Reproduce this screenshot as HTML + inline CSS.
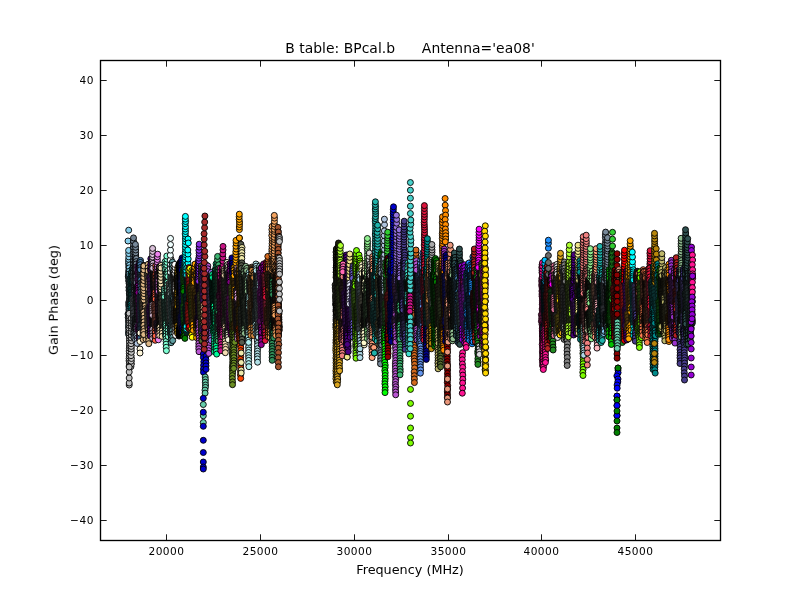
<!DOCTYPE html>
<html><head><meta charset="utf-8"><title>B table: BPcal.b</title>
<style>
html,body{margin:0;padding:0;background:#fff}
svg{display:block}
text{font-family:"DejaVu Sans","Liberation Sans",sans-serif;font-size:10.6px;letter-spacing:0.5px;fill:#000}
.big{font-size:12.8px;letter-spacing:0}.ttl{font-size:13.9px;letter-spacing:0.04px;white-space:pre}
.tx{opacity:0.999}
polyline{fill:none;stroke:none}
marker circle{stroke:#000;stroke-width:0.9px}
.m0{marker:url(#m0)}.m1{marker:url(#m1)}.m2{marker:url(#m2)}.m3{marker:url(#m3)}.m4{marker:url(#m4)}.m5{marker:url(#m5)}.m6{marker:url(#m6)}.m7{marker:url(#m7)}.m8{marker:url(#m8)}.m9{marker:url(#m9)}.m10{marker:url(#m10)}.m11{marker:url(#m11)}.m12{marker:url(#m12)}.m13{marker:url(#m13)}.m14{marker:url(#m14)}.m15{marker:url(#m15)}.m16{marker:url(#m16)}.m17{marker:url(#m17)}.m18{marker:url(#m18)}.m19{marker:url(#m19)}.m20{marker:url(#m20)}.m21{marker:url(#m21)}.m22{marker:url(#m22)}.m23{marker:url(#m23)}.m24{marker:url(#m24)}.m25{marker:url(#m25)}.m26{marker:url(#m26)}.m27{marker:url(#m27)}.m28{marker:url(#m28)}.m29{marker:url(#m29)}.m30{marker:url(#m30)}.m31{marker:url(#m31)}.m32{marker:url(#m32)}.m33{marker:url(#m33)}.m34{marker:url(#m34)}.m35{marker:url(#m35)}.m36{marker:url(#m36)}.m37{marker:url(#m37)}.m38{marker:url(#m38)}.m39{marker:url(#m39)}.m40{marker:url(#m40)}.m41{marker:url(#m41)}.m42{marker:url(#m42)}.m43{marker:url(#m43)}.m44{marker:url(#m44)}.m45{marker:url(#m45)}.m46{marker:url(#m46)}.m47{marker:url(#m47)}.m48{marker:url(#m48)}.m49{marker:url(#m49)}.m50{marker:url(#m50)}.m51{marker:url(#m51)}.m52{marker:url(#m52)}.m53{marker:url(#m53)}.m54{marker:url(#m54)}.m55{marker:url(#m55)}.m56{marker:url(#m56)}.m57{marker:url(#m57)}.m58{marker:url(#m58)}.m59{marker:url(#m59)}.m60{marker:url(#m60)}.m61{marker:url(#m61)}.m62{marker:url(#m62)}.m63{marker:url(#m63)}.m64{marker:url(#m64)}.m65{marker:url(#m65)}.m66{marker:url(#m66)}.m67{marker:url(#m67)}.m68{marker:url(#m68)}.m69{marker:url(#m69)}.m70{marker:url(#m70)}.m71{marker:url(#m71)}.m72{marker:url(#m72)}.m73{marker:url(#m73)}.m74{marker:url(#m74)}.m75{marker:url(#m75)}.m76{marker:url(#m76)}.m77{marker:url(#m77)}.m78{marker:url(#m78)}.m79{marker:url(#m79)}.m80{marker:url(#m80)}.m81{marker:url(#m81)}.m82{marker:url(#m82)}.m83{marker:url(#m83)}.m84{marker:url(#m84)}.m85{marker:url(#m85)}.m86{marker:url(#m86)}.m87{marker:url(#m87)}.m88{marker:url(#m88)}.m89{marker:url(#m89)}.m90{marker:url(#m90)}.m91{marker:url(#m91)}.m92{marker:url(#m92)}.m93{marker:url(#m93)}.m94{marker:url(#m94)}.m95{marker:url(#m95)}.m96{marker:url(#m96)}.m97{marker:url(#m97)}.m98{marker:url(#m98)}.m99{marker:url(#m99)}.m100{marker:url(#m100)}.m101{marker:url(#m101)}.m102{marker:url(#m102)}.m103{marker:url(#m103)}.m104{marker:url(#m104)}.m105{marker:url(#m105)}.m106{marker:url(#m106)}.m107{marker:url(#m107)}.m108{marker:url(#m108)}.m109{marker:url(#m109)}.m110{marker:url(#m110)}.m111{marker:url(#m111)}.m112{marker:url(#m112)}.m113{marker:url(#m113)}.m114{marker:url(#m114)}.m115{marker:url(#m115)}.m116{marker:url(#m116)}.m117{marker:url(#m117)}.m118{marker:url(#m118)}.m119{marker:url(#m119)}.m120{marker:url(#m120)}.m121{marker:url(#m121)}.m122{marker:url(#m122)}.m123{marker:url(#m123)}.m124{marker:url(#m124)}.m125{marker:url(#m125)}.m126{marker:url(#m126)}.m127{marker:url(#m127)}.m128{marker:url(#m128)}.m129{marker:url(#m129)}.m130{marker:url(#m130)}.m131{marker:url(#m131)}.m132{marker:url(#m132)}.m133{marker:url(#m133)}.m134{marker:url(#m134)}.m135{marker:url(#m135)}.m136{marker:url(#m136)}.m137{marker:url(#m137)}.m138{marker:url(#m138)}.m139{marker:url(#m139)}.m140{marker:url(#m140)}.m141{marker:url(#m141)}.m142{marker:url(#m142)}.m143{marker:url(#m143)}.m144{marker:url(#m144)}.m145{marker:url(#m145)}.m146{marker:url(#m146)}.m147{marker:url(#m147)}.m148{marker:url(#m148)}.m149{marker:url(#m149)}.m150{marker:url(#m150)}.m151{marker:url(#m151)}.m152{marker:url(#m152)}.m153{marker:url(#m153)}.m154{marker:url(#m154)}.m155{marker:url(#m155)}.m156{marker:url(#m156)}.m157{marker:url(#m157)}.m158{marker:url(#m158)}.m159{marker:url(#m159)}.m160{marker:url(#m160)}.m161{marker:url(#m161)}.m162{marker:url(#m162)}.m163{marker:url(#m163)}.m164{marker:url(#m164)}.m165{marker:url(#m165)}.m166{marker:url(#m166)}.m167{marker:url(#m167)}.m168{marker:url(#m168)}.m169{marker:url(#m169)}.m170{marker:url(#m170)}.m171{marker:url(#m171)}.m172{marker:url(#m172)}.m173{marker:url(#m173)}.m174{marker:url(#m174)}.m175{marker:url(#m175)}.m176{marker:url(#m176)}.m177{marker:url(#m177)}.m178{marker:url(#m178)}.m179{marker:url(#m179)}.m180{marker:url(#m180)}.m181{marker:url(#m181)}.m182{marker:url(#m182)}.m183{marker:url(#m183)}.m184{marker:url(#m184)}.m185{marker:url(#m185)}.m186{marker:url(#m186)}.m187{marker:url(#m187)}.m188{marker:url(#m188)}.m189{marker:url(#m189)}.m190{marker:url(#m190)}.m191{marker:url(#m191)}.m192{marker:url(#m192)}.m193{marker:url(#m193)}.m194{marker:url(#m194)}.m195{marker:url(#m195)}.m196{marker:url(#m196)}.m197{marker:url(#m197)}.m198{marker:url(#m198)}.m199{marker:url(#m199)}.m200{marker:url(#m200)}.m201{marker:url(#m201)}.m202{marker:url(#m202)}.m203{marker:url(#m203)}.m204{marker:url(#m204)}.m205{marker:url(#m205)}.m206{marker:url(#m206)}.m207{marker:url(#m207)}.m208{marker:url(#m208)}.m209{marker:url(#m209)}.m210{marker:url(#m210)}.m211{marker:url(#m211)}.m212{marker:url(#m212)}.m213{marker:url(#m213)}.m214{marker:url(#m214)}.m215{marker:url(#m215)}.m216{marker:url(#m216)}.m217{marker:url(#m217)}.m218{marker:url(#m218)}.m219{marker:url(#m219)}.m220{marker:url(#m220)}.m221{marker:url(#m221)}.m222{marker:url(#m222)}.m223{marker:url(#m223)}.m224{marker:url(#m224)}.m225{marker:url(#m225)}.m226{marker:url(#m226)}.m227{marker:url(#m227)}.m228{marker:url(#m228)}.m229{marker:url(#m229)}.m230{marker:url(#m230)}.m231{marker:url(#m231)}.m232{marker:url(#m232)}.m233{marker:url(#m233)}.m234{marker:url(#m234)}.m235{marker:url(#m235)}.m236{marker:url(#m236)}.m237{marker:url(#m237)}.m238{marker:url(#m238)}.m239{marker:url(#m239)}.m240{marker:url(#m240)}.m241{marker:url(#m241)}.m242{marker:url(#m242)}.m243{marker:url(#m243)}.m244{marker:url(#m244)}.m245{marker:url(#m245)}.m246{marker:url(#m246)}.m247{marker:url(#m247)}.m248{marker:url(#m248)}.m249{marker:url(#m249)}.m250{marker:url(#m250)}.m251{marker:url(#m251)}.m252{marker:url(#m252)}.m253{marker:url(#m253)}.m254{marker:url(#m254)}.m255{marker:url(#m255)}.m256{marker:url(#m256)}.m257{marker:url(#m257)}.m258{marker:url(#m258)}.m259{marker:url(#m259)}.m260{marker:url(#m260)}.m261{marker:url(#m261)}.m262{marker:url(#m262)}.m263{marker:url(#m263)}.m264{marker:url(#m264)}.m265{marker:url(#m265)}.m266{marker:url(#m266)}.m267{marker:url(#m267)}.m268{marker:url(#m268)}.m269{marker:url(#m269)}.m270{marker:url(#m270)}.m271{marker:url(#m271)}.m272{marker:url(#m272)}.m273{marker:url(#m273)}.m274{marker:url(#m274)}.m275{marker:url(#m275)}.m276{marker:url(#m276)}.m277{marker:url(#m277)}.m278{marker:url(#m278)}.m279{marker:url(#m279)}.m280{marker:url(#m280)}.m281{marker:url(#m281)}.m282{marker:url(#m282)}.m283{marker:url(#m283)}.m284{marker:url(#m284)}.m285{marker:url(#m285)}.m286{marker:url(#m286)}.m287{marker:url(#m287)}.m288{marker:url(#m288)}.m289{marker:url(#m289)}.m290{marker:url(#m290)}.m291{marker:url(#m291)}.m292{marker:url(#m292)}.m293{marker:url(#m293)}.m294{marker:url(#m294)}.m295{marker:url(#m295)}.m296{marker:url(#m296)}.m297{marker:url(#m297)}.m298{marker:url(#m298)}.m299{marker:url(#m299)}.m300{marker:url(#m300)}.m301{marker:url(#m301)}.m302{marker:url(#m302)}.m303{marker:url(#m303)}.m304{marker:url(#m304)}.m305{marker:url(#m305)}.m306{marker:url(#m306)}.m307{marker:url(#m307)}.m308{marker:url(#m308)}.m309{marker:url(#m309)}.m310{marker:url(#m310)}.m311{marker:url(#m311)}.m312{marker:url(#m312)}.m313{marker:url(#m313)}.m314{marker:url(#m314)}.m315{marker:url(#m315)}.m316{marker:url(#m316)}.m317{marker:url(#m317)}.m318{marker:url(#m318)}.m319{marker:url(#m319)}.m320{marker:url(#m320)}.m321{marker:url(#m321)}.m322{marker:url(#m322)}.m323{marker:url(#m323)}.m324{marker:url(#m324)}.m325{marker:url(#m325)}.m326{marker:url(#m326)}.m327{marker:url(#m327)}.m328{marker:url(#m328)}.m329{marker:url(#m329)}.m330{marker:url(#m330)}.m331{marker:url(#m331)}.m332{marker:url(#m332)}.m333{marker:url(#m333)}.m334{marker:url(#m334)}.m335{marker:url(#m335)}.m336{marker:url(#m336)}.m337{marker:url(#m337)}.m338{marker:url(#m338)}.m339{marker:url(#m339)}.m340{marker:url(#m340)}.m341{marker:url(#m341)}.m342{marker:url(#m342)}.m343{marker:url(#m343)}.m344{marker:url(#m344)}.m345{marker:url(#m345)}.m346{marker:url(#m346)}.m347{marker:url(#m347)}.m348{marker:url(#m348)}.m349{marker:url(#m349)}.m350{marker:url(#m350)}.m351{marker:url(#m351)}.m352{marker:url(#m352)}.m353{marker:url(#m353)}.m354{marker:url(#m354)}.m355{marker:url(#m355)}.m356{marker:url(#m356)}.m357{marker:url(#m357)}.m358{marker:url(#m358)}.m359{marker:url(#m359)}.m360{marker:url(#m360)}.m361{marker:url(#m361)}.m362{marker:url(#m362)}.m363{marker:url(#m363)}.m364{marker:url(#m364)}.m365{marker:url(#m365)}.m366{marker:url(#m366)}.m367{marker:url(#m367)}.m368{marker:url(#m368)}.m369{marker:url(#m369)}.m370{marker:url(#m370)}.m371{marker:url(#m371)}.m372{marker:url(#m372)}.m373{marker:url(#m373)}.m374{marker:url(#m374)}.m375{marker:url(#m375)}.m376{marker:url(#m376)}.m377{marker:url(#m377)}.m378{marker:url(#m378)}.m379{marker:url(#m379)}.m380{marker:url(#m380)}.m381{marker:url(#m381)}.m382{marker:url(#m382)}.m383{marker:url(#m383)}.m384{marker:url(#m384)}.m385{marker:url(#m385)}.m386{marker:url(#m386)}.m387{marker:url(#m387)}.m388{marker:url(#m388)}.m389{marker:url(#m389)}.m390{marker:url(#m390)}.m391{marker:url(#m391)}.m392{marker:url(#m392)}.m393{marker:url(#m393)}.m394{marker:url(#m394)}.m395{marker:url(#m395)}.m396{marker:url(#m396)}.m397{marker:url(#m397)}.m398{marker:url(#m398)}.m399{marker:url(#m399)}.m400{marker:url(#m400)}.m401{marker:url(#m401)}.m402{marker:url(#m402)}.m403{marker:url(#m403)}.m404{marker:url(#m404)}.m405{marker:url(#m405)}.m406{marker:url(#m406)}.m407{marker:url(#m407)}.m408{marker:url(#m408)}.m409{marker:url(#m409)}.m410{marker:url(#m410)}.m411{marker:url(#m411)}.m412{marker:url(#m412)}.m413{marker:url(#m413)}.m414{marker:url(#m414)}.m415{marker:url(#m415)}.m416{marker:url(#m416)}.m417{marker:url(#m417)}.m418{marker:url(#m418)}
</style></head><body>
<svg width="800" height="600" viewBox="0 0 800 600">
<rect width="800" height="600" fill="#fff"/>
<defs>
<marker id="m0" overflow="visible"><circle r="3.0" fill="#00c000"/></marker>
<marker id="m1" overflow="visible"><circle r="3.0" fill="#050537" style="stroke:#020218"/></marker>
<marker id="m2" overflow="visible"><circle r="3.0" fill="#050555" style="stroke:#020226"/></marker>
<marker id="m3" overflow="visible"><circle r="3.0" fill="#051414" style="stroke:#020909"/></marker>
<marker id="m4" overflow="visible"><circle r="3.0" fill="#051419" style="stroke:#02090b"/></marker>
<marker id="m5" overflow="visible"><circle r="3.0" fill="#05150f" style="stroke:#020906"/></marker>
<marker id="m6" overflow="visible"><circle r="3.0" fill="#051705" style="stroke:#020a02"/></marker>
<marker id="m7" overflow="visible"><circle r="3.0" fill="#060638" style="stroke:#020219"/></marker>
<marker id="m8" overflow="visible"><circle r="3.0" fill="#060656" style="stroke:#020226"/></marker>
<marker id="m9" overflow="visible"><circle r="3.0" fill="#06191f" style="stroke:#020b0e"/></marker>
<marker id="m10" overflow="visible"><circle r="3.0" fill="#061a1a" style="stroke:#020b0b"/></marker>
<marker id="m11" overflow="visible"><circle r="3.0" fill="#061b13" style="stroke:#020c08"/></marker>
<marker id="m12" overflow="visible"><circle r="3.0" fill="#061d06" style="stroke:#020d02"/></marker>
<marker id="m13" overflow="visible"><circle r="3.0" fill="#071313" style="stroke:#030808"/></marker>
<marker id="m14" overflow="visible"><circle r="3.0" fill="#071e1e" style="stroke:#030d0d"/></marker>
<marker id="m15" overflow="visible"><circle r="3.0" fill="#072016" style="stroke:#030e0a"/></marker>
<marker id="m16" overflow="visible"><circle r="3.0" fill="#072307" style="stroke:#030f03"/></marker>
<marker id="m17" overflow="visible"><circle r="3.0" fill="#091312" style="stroke:#040808"/></marker>
<marker id="m18" overflow="visible"><circle r="3.0" fill="#091818" style="stroke:#040b0a"/></marker>
<marker id="m19" overflow="visible"><circle r="3.0" fill="#092626" style="stroke:#041111"/></marker>
<marker id="m20" overflow="visible"><circle r="3.0" fill="#09281c" style="stroke:#04120c"/></marker>
<marker id="m21" overflow="visible"><circle r="3.0" fill="#092b09" style="stroke:#041304"/></marker>
<marker id="m22" overflow="visible"><circle r="3.0" fill="#0a130e" style="stroke:#040806"/></marker>
<marker id="m23" overflow="visible"><circle r="3.0" fill="#0a2929" style="stroke:#041212"/></marker>
<marker id="m24" overflow="visible"><circle r="3.0" fill="#0a2f0a" style="stroke:#041504"/></marker>
<marker id="m25" overflow="visible"><circle r="3.0" fill="#0b1816" style="stroke:#050a0a"/></marker>
<marker id="m26" overflow="visible"><circle r="3.0" fill="#0b1a29" style="stroke:#050b12"/></marker>
<marker id="m27" overflow="visible"><circle r="3.0" fill="#0b1d1c" style="stroke:#050d0c"/></marker>
<marker id="m28" overflow="visible"><circle r="3.0" fill="#0c1811" style="stroke:#050b08"/></marker>
<marker id="m29" overflow="visible"><circle r="3.0" fill="#0c3030" style="stroke:#051515"/></marker>
<marker id="m30" overflow="visible"><circle r="3.0" fill="#0d120d" style="stroke:#050805"/></marker>
<marker id="m31" overflow="visible"><circle r="3.0" fill="#0d1f0d" style="stroke:#060d06"/></marker>
<marker id="m32" overflow="visible"><circle r="3.0" fill="#0d3434" style="stroke:#051717"/></marker>
<marker id="m33" overflow="visible"><circle r="3.0" fill="#0d3b0d" style="stroke:#051a05"/></marker>
<marker id="m34" overflow="visible"><circle r="3.0" fill="#0e0e40" style="stroke:#06061c"/></marker>
<marker id="m35" overflow="visible"><circle r="3.0" fill="#0e110e" style="stroke:#060706"/></marker>
<marker id="m36" overflow="visible"><circle r="3.0" fill="#0e1c15" style="stroke:#060c09"/></marker>
<marker id="m37" overflow="visible"><circle r="3.0" fill="#0e2133" style="stroke:#060e17"/></marker>
<marker id="m38" overflow="visible"><circle r="3.0" fill="#0e2423" style="stroke:#06100f"/></marker>
<marker id="m39" overflow="visible"><circle r="3.0" fill="#0e3737" style="stroke:#061919"/></marker>
<marker id="m40" overflow="visible"><circle r="3.0" fill="#0e3f0e" style="stroke:#061c06"/></marker>
<marker id="m41" overflow="visible"><circle r="3.0" fill="#0f1011" style="stroke:#060708"/></marker>
<marker id="m42" overflow="visible"><circle r="3.0" fill="#0f2726" style="stroke:#071111"/></marker>
<marker id="m43" overflow="visible"><circle r="3.0" fill="#0f3c3c" style="stroke:#061b1b"/></marker>
<marker id="m44" overflow="visible"><circle r="3.0" fill="#10100e" style="stroke:#070706"/></marker>
<marker id="m45" overflow="visible"><circle r="3.0" fill="#101010" style="stroke:#070707"/></marker>
<marker id="m46" overflow="visible"><circle r="3.0" fill="#101610" style="stroke:#070a07"/></marker>
<marker id="m47" overflow="visible"><circle r="3.0" fill="#102610" style="stroke:#071107"/></marker>
<marker id="m48" overflow="visible"><circle r="3.0" fill="#110f11" style="stroke:#070707"/></marker>
<marker id="m49" overflow="visible"><circle r="3.0" fill="#11100b" style="stroke:#070705"/></marker>
<marker id="m50" overflow="visible"><circle r="3.0" fill="#11100e" style="stroke:#070706"/></marker>
<marker id="m51" overflow="visible"><circle r="3.0" fill="#111111" style="stroke:#070707"/></marker>
<marker id="m52" overflow="visible"><circle r="3.0" fill="#111143" style="stroke:#07071e"/></marker>
<marker id="m53" overflow="visible"><circle r="3.0" fill="#114311" style="stroke:#071e07"/></marker>
<marker id="m54" overflow="visible"><circle r="3.0" fill="#114545" style="stroke:#071f1f"/></marker>
<marker id="m55" overflow="visible"><circle r="3.0" fill="#114f11" style="stroke:#072307"/></marker>
<marker id="m56" overflow="visible"><circle r="3.0" fill="#121416" style="stroke:#08090a"/></marker>
<marker id="m57" overflow="visible"><circle r="3.0" fill="#121512" style="stroke:#080908"/></marker>
<marker id="m58" overflow="visible"><circle r="3.0" fill="#121919" style="stroke:#080b0b"/></marker>
<marker id="m59" overflow="visible"><circle r="3.0" fill="#12241a" style="stroke:#08100b"/></marker>
<marker id="m60" overflow="visible"><circle r="3.0" fill="#122a12" style="stroke:#081308"/></marker>
<marker id="m61" overflow="visible"><circle r="3.0" fill="#122a41" style="stroke:#08131d"/></marker>
<marker id="m62" overflow="visible"><circle r="3.0" fill="#122e2c" style="stroke:#081414"/></marker>
<marker id="m63" overflow="visible"><circle r="3.0" fill="#133130" style="stroke:#081615"/></marker>
<marker id="m64" overflow="visible"><circle r="3.0" fill="#140c17" style="stroke:#09050a"/></marker>
<marker id="m65" overflow="visible"><circle r="3.0" fill="#140e0d" style="stroke:#090605"/></marker>
<marker id="m66" overflow="visible"><circle r="3.0" fill="#140f0b" style="stroke:#090604"/></marker>
<marker id="m67" overflow="visible"><circle r="3.0" fill="#141006" style="stroke:#090702"/></marker>
<marker id="m68" overflow="visible"><circle r="3.0" fill="#141411" style="stroke:#090908"/></marker>
<marker id="m69" overflow="visible"><circle r="3.0" fill="#141414" style="stroke:#090909"/></marker>
<marker id="m70" overflow="visible"><circle r="3.0" fill="#150a20" style="stroke:#09040e"/></marker>
<marker id="m71" overflow="visible"><circle r="3.0" fill="#150d0d" style="stroke:#090606"/></marker>
<marker id="m72" overflow="visible"><circle r="3.0" fill="#151315" style="stroke:#090809"/></marker>
<marker id="m73" overflow="visible"><circle r="3.0" fill="#15140e" style="stroke:#090906"/></marker>
<marker id="m74" overflow="visible"><circle r="3.0" fill="#151411" style="stroke:#090907"/></marker>
<marker id="m75" overflow="visible"><circle r="3.0" fill="#151915" style="stroke:#090b09"/></marker>
<marker id="m76" overflow="visible"><circle r="3.0" fill="#160d0a" style="stroke:#0a0604"/></marker>
<marker id="m77" overflow="visible"><circle r="3.0" fill="#161616" style="stroke:#090909"/></marker>
<marker id="m78" overflow="visible"><circle r="3.0" fill="#16181a" style="stroke:#0a0a0b"/></marker>
<marker id="m79" overflow="visible"><circle r="3.0" fill="#161a0f" style="stroke:#0a0b07"/></marker>
<marker id="m80" overflow="visible"><circle r="3.0" fill="#163416" style="stroke:#0a170a"/></marker>
<marker id="m81" overflow="visible"><circle r="3.0" fill="#164716" style="stroke:#092009"/></marker>
<marker id="m82" overflow="visible"><circle r="3.0" fill="#171526" style="stroke:#0a0911"/></marker>
<marker id="m83" overflow="visible"><circle r="3.0" fill="#172020" style="stroke:#0a0e0e"/></marker>
<marker id="m84" overflow="visible"><circle r="3.0" fill="#173451" style="stroke:#0a1724"/></marker>
<marker id="m85" overflow="visible"><circle r="3.0" fill="#173938" style="stroke:#0a1a19"/></marker>
<marker id="m86" overflow="visible"><circle r="3.0" fill="#181811" style="stroke:#0b0a07"/></marker>
<marker id="m87" overflow="visible"><circle r="3.0" fill="#181a11" style="stroke:#0b0b07"/></marker>
<marker id="m88" overflow="visible"><circle r="3.0" fill="#183818" style="stroke:#0a190a"/></marker>
<marker id="m89" overflow="visible"><circle r="3.0" fill="#191210" style="stroke:#0b0807"/></marker>
<marker id="m90" overflow="visible"><circle r="3.0" fill="#19130d" style="stroke:#0b0806"/></marker>
<marker id="m91" overflow="visible"><circle r="3.0" fill="#191407" style="stroke:#0b0903"/></marker>
<marker id="m92" overflow="visible"><circle r="3.0" fill="#191811" style="stroke:#0b0a08"/></marker>
<marker id="m93" overflow="visible"><circle r="3.0" fill="#19212e" style="stroke:#0b0e14"/></marker>
<marker id="m94" overflow="visible"><circle r="3.0" fill="#192323" style="stroke:#0b0f0f"/></marker>
<marker id="m95" overflow="visible"><circle r="3.0" fill="#19280a" style="stroke:#0b1204"/></marker>
<marker id="m96" overflow="visible"><circle r="3.0" fill="#1a0f1c" style="stroke:#0b070c"/></marker>
<marker id="m97" overflow="visible"><circle r="3.0" fill="#1a1111" style="stroke:#0c0707"/></marker>
<marker id="m98" overflow="visible"><circle r="3.0" fill="#1a151a" style="stroke:#0c090c"/></marker>
<marker id="m99" overflow="visible"><circle r="3.0" fill="#1a1f1a" style="stroke:#0b0e0b"/></marker>
<marker id="m100" overflow="visible"><circle r="3.0" fill="#1a241a" style="stroke:#0b100b"/></marker>
<marker id="m101" overflow="visible"><circle r="3.0" fill="#1a3426" style="stroke:#0c1711"/></marker>
<marker id="m102" overflow="visible"><circle r="3.0" fill="#1b052b" style="stroke:#0c0213"/></marker>
<marker id="m103" overflow="visible"><circle r="3.0" fill="#1b0c28" style="stroke:#0c0512"/></marker>
<marker id="m104" overflow="visible"><circle r="3.0" fill="#1b1d14" style="stroke:#0c0d09"/></marker>
<marker id="m105" overflow="visible"><circle r="3.0" fill="#1b1e20" style="stroke:#0c0d0e"/></marker>
<marker id="m106" overflow="visible"><circle r="3.0" fill="#1b2013" style="stroke:#0c0e08"/></marker>
<marker id="m107" overflow="visible"><circle r="3.0" fill="#1b2833" style="stroke:#0c1217"/></marker>
<marker id="m108" overflow="visible"><circle r="3.0" fill="#1b2b25" style="stroke:#0c1311"/></marker>
<marker id="m109" overflow="visible"><circle r="3.0" fill="#1c110d" style="stroke:#0c0706"/></marker>
<marker id="m110" overflow="visible"><circle r="3.0" fill="#1c1c10"/></marker>
<marker id="m111" overflow="visible"><circle r="3.0" fill="#1c1c17" style="stroke:#0c0c0a"/></marker>
<marker id="m112" overflow="visible"><circle r="3.0" fill="#1c2222" style="stroke:#0c0f0f"/></marker>
<marker id="m113" overflow="visible"><circle r="3.0" fill="#1d131d" style="stroke:#0d080d"/></marker>
<marker id="m114" overflow="visible"><circle r="3.0" fill="#1d1512" style="stroke:#0d0908"/></marker>
<marker id="m115" overflow="visible"><circle r="3.0" fill="#1d1709" style="stroke:#0d0a04"/></marker>
<marker id="m116" overflow="visible"><circle r="3.0" fill="#1d1a2f" style="stroke:#0d0b15"/></marker>
<marker id="m117" overflow="visible"><circle r="3.0" fill="#1d2636" style="stroke:#0d1118"/></marker>
<marker id="m118" overflow="visible"><circle r="3.0" fill="#1d2929" style="stroke:#0d1212"/></marker>
<marker id="m119" overflow="visible"><circle r="3.0" fill="#1e0a0a" style="stroke:#0d0404"/></marker>
<marker id="m120" overflow="visible"><circle r="3.0" fill="#1e282c" style="stroke:#0d1213"/></marker>
<marker id="m121" overflow="visible"><circle r="3.0" fill="#1e2a1e" style="stroke:#0d130d"/></marker>
<marker id="m122" overflow="visible"><circle r="3.0" fill="#1e461e" style="stroke:#0d1f0d"/></marker>
<marker id="m123" overflow="visible"><circle r="3.0" fill="#1f1317" style="stroke:#0e080a"/></marker>
<marker id="m124" overflow="visible"><circle r="3.0" fill="#1f1414" style="stroke:#0e0909"/></marker>
<marker id="m125" overflow="visible"><circle r="3.0" fill="#1f1e15" style="stroke:#0e0d09"/></marker>
<marker id="m126" overflow="visible"><circle r="3.0" fill="#1f1e16" style="stroke:#0e0d0a"/></marker>
<marker id="m127" overflow="visible"><circle r="3.0" fill="#1f211d" style="stroke:#0e0e0d"/></marker>
<marker id="m128" overflow="visible"><circle r="3.0" fill="#1f2c2c" style="stroke:#0e1313"/></marker>
<marker id="m129" overflow="visible"><circle r="3.0" fill="#1f312b" style="stroke:#0e1613"/></marker>
<marker id="m130" overflow="visible"><circle r="3.0" fill="#1f320d" style="stroke:#0e1605"/></marker>
<marker id="m131" overflow="visible"><circle r="3.0" fill="#200f28" style="stroke:#0e0712"/></marker>
<marker id="m132" overflow="visible"><circle r="3.0" fill="#20201c" style="stroke:#0e0e0c"/></marker>
<marker id="m133" overflow="visible"><circle r="3.0" fill="#20201e" style="stroke:#0e0e0d"/></marker>
<marker id="m134" overflow="visible"><circle r="3.0" fill="#202020" style="stroke:#0e0e0e"/></marker>
<marker id="m135" overflow="visible"><circle r="3.0" fill="#20240c"/></marker>
<marker id="m136" overflow="visible"><circle r="3.0" fill="#20293a" style="stroke:#0e121a"/></marker>
<marker id="m137" overflow="visible"><circle r="3.0" fill="#202d20" style="stroke:#0e140e"/></marker>
<marker id="m138" overflow="visible"><circle r="3.0" fill="#211313" style="stroke:#0f0808"/></marker>
<marker id="m139" overflow="visible"><circle r="3.0" fill="#21140e" style="stroke:#0e0906"/></marker>
<marker id="m140" overflow="visible"><circle r="3.0" fill="#211507" style="stroke:#0f0903"/></marker>
<marker id="m141" overflow="visible"><circle r="3.0" fill="#211a21" style="stroke:#0f0c0f"/></marker>
<marker id="m142" overflow="visible"><circle r="3.0" fill="#212728" style="stroke:#0f1112"/></marker>
<marker id="m143" overflow="visible"><circle r="3.0" fill="#212b12" style="stroke:#0f1308"/></marker>
<marker id="m144" overflow="visible"><circle r="3.0" fill="#212e2e" style="stroke:#0f1414"/></marker>
<marker id="m145" overflow="visible"><circle r="3.0" fill="#21350e" style="stroke:#0f1806"/></marker>
<marker id="m146" overflow="visible"><circle r="3.0" fill="#21412f" style="stroke:#0f1d15"/></marker>
<marker id="m147" overflow="visible"><circle r="3.0" fill="#220636" style="stroke:#0f0218"/></marker>
<marker id="m148" overflow="visible"><circle r="3.0" fill="#221c2e" style="stroke:#0f0c14"/></marker>
<marker id="m149" overflow="visible"><circle r="3.0" fill="#22201c" style="stroke:#0f0e0c"/></marker>
<marker id="m150" overflow="visible"><circle r="3.0" fill="#223240" style="stroke:#0f161c"/></marker>
<marker id="m151" overflow="visible"><circle r="3.0" fill="#22352f" style="stroke:#0f1815"/></marker>
<marker id="m152" overflow="visible"><circle r="3.0" fill="#232629" style="stroke:#101112"/></marker>
<marker id="m153" overflow="visible"><circle r="3.0" fill="#232919" style="stroke:#0f120b"/></marker>
<marker id="m154" overflow="visible"><circle r="3.0" fill="#232a2a" style="stroke:#0f1313"/></marker>
<marker id="m155" overflow="visible"><circle r="3.0" fill="#233030" style="stroke:#101515"/></marker>
<marker id="m156" overflow="visible"><circle r="3.0" fill="#241824" style="stroke:#100b10"/></marker>
<marker id="m157" overflow="visible"><circle r="3.0" fill="#25073a" style="stroke:#10031a"/></marker>
<marker id="m158" overflow="visible"><circle r="3.0" fill="#251b16" style="stroke:#100c0a"/></marker>
<marker id="m159" overflow="visible"><circle r="3.0" fill="#251d0b" style="stroke:#100d05"/></marker>
<marker id="m160" overflow="visible"><circle r="3.0" fill="#25213c" style="stroke:#100f1b"/></marker>
<marker id="m161" overflow="visible"><circle r="3.0" fill="#252525" style="stroke:#111111"/></marker>
<marker id="m162" overflow="visible"><circle r="3.0" fill="#253043" style="stroke:#10151e"/></marker>
<marker id="m163" overflow="visible"><circle r="3.0" fill="#26093c" style="stroke:#11041b"/></marker>
<marker id="m164" overflow="visible"><circle r="3.0" fill="#260c0c" style="stroke:#110505"/></marker>
<marker id="m165" overflow="visible"><circle r="3.0" fill="#262e26" style="stroke:#111411"/></marker>
<marker id="m166" overflow="visible"><circle r="3.0" fill="#263214" style="stroke:#111609"/></marker>
<marker id="m167" overflow="visible"><circle r="3.0" fill="#263237" style="stroke:#111618"/></marker>
<marker id="m168" overflow="visible"><circle r="3.0" fill="#263526" style="stroke:#111811"/></marker>
<marker id="m169" overflow="visible"><circle r="3.0" fill="#27181d" style="stroke:#110b0d"/></marker>
<marker id="m170" overflow="visible"><circle r="3.0" fill="#271919" style="stroke:#110b0b"/></marker>
<marker id="m171" overflow="visible"><circle r="3.0" fill="#27200e" style="stroke:#110e06"/></marker>
<marker id="m172" overflow="visible"><circle r="3.0" fill="#27261b" style="stroke:#11110c"/></marker>
<marker id="m173" overflow="visible"><circle r="3.0" fill="#272924" style="stroke:#111210"/></marker>
<marker id="m174" overflow="visible"><circle r="3.0" fill="#273d36" style="stroke:#111b18"/></marker>
<marker id="m175" overflow="visible"><circle r="3.0" fill="#281333" style="stroke:#120817"/></marker>
<marker id="m176" overflow="visible"><circle r="3.0" fill="#281d1a" style="stroke:#120d0b"/></marker>
<marker id="m177" overflow="visible"><circle r="3.0" fill="#281e16" style="stroke:#120d09"/></marker>
<marker id="m178" overflow="visible"><circle r="3.0" fill="#282826" style="stroke:#121211"/></marker>
<marker id="m179" overflow="visible"><circle r="3.0" fill="#282828" style="stroke:#121212"/></marker>
<marker id="m180" overflow="visible"><circle r="3.0" fill="#282b2f" style="stroke:#121315"/></marker>
<marker id="m181" overflow="visible"><circle r="3.0" fill="#282f1c" style="stroke:#12150c"/></marker>
<marker id="m182" overflow="visible"><circle r="3.0" fill="#283434" style="stroke:#121717"/></marker>
<marker id="m183" overflow="visible"><circle r="3.0" fill="#290c3f" style="stroke:#12051c"/></marker>
<marker id="m184" overflow="visible"><circle r="3.0" fill="#29182e" style="stroke:#120b14"/></marker>
<marker id="m185" overflow="visible"><circle r="3.0" fill="#291912" style="stroke:#120b08"/></marker>
<marker id="m186" overflow="visible"><circle r="3.0" fill="#291b09" style="stroke:#120c04"/></marker>
<marker id="m187" overflow="visible"><circle r="3.0" fill="#291e13" style="stroke:#120d08"/></marker>
<marker id="m188" overflow="visible"><circle r="3.0" fill="#29290c" style="stroke:#121205"/></marker>
<marker id="m189" overflow="visible"><circle r="3.0" fill="#2a1818" style="stroke:#130a0a"/></marker>
<marker id="m190" overflow="visible"><circle r="3.0" fill="#2a1f0a" style="stroke:#130e04"/></marker>
<marker id="m191" overflow="visible"><circle r="3.0" fill="#2a2544" style="stroke:#12111e"/></marker>
<marker id="m192" overflow="visible"><circle r="3.0" fill="#2a3132" style="stroke:#121616"/></marker>
<marker id="m193" overflow="visible"><circle r="3.0" fill="#2a3616" style="stroke:#12180a"/></marker>
<marker id="m194" overflow="visible"><circle r="3.0" fill="#2a3a3b" style="stroke:#131a1a"/></marker>
<marker id="m195" overflow="visible"><circle r="3.0" fill="#2a4311" style="stroke:#121e07"/></marker>
<marker id="m196" overflow="visible"><circle r="3.0" fill="#2a4311" style="stroke:#131e07"/></marker>
<marker id="m197" overflow="visible"><circle r="3.0" fill="#2b0e40" style="stroke:#13061d"/></marker>
<marker id="m198" overflow="visible"><circle r="3.0" fill="#2b2339" style="stroke:#131019"/></marker>
<marker id="m199" overflow="visible"><circle r="3.0" fill="#2b2745" style="stroke:#13111f"/></marker>
<marker id="m200" overflow="visible"><circle r="3.0" fill="#2b2823" style="stroke:#13120f"/></marker>
<marker id="m201" overflow="visible"><circle r="3.0" fill="#2b2b2b" style="stroke:#131313"/></marker>
<marker id="m202" overflow="visible"><circle r="3.0" fill="#2c0b20" style="stroke:#13050e"/></marker>
<marker id="m203" overflow="visible"><circle r="3.0" fill="#2c0e0e" style="stroke:#140606"/></marker>
<marker id="m204" overflow="visible"><circle r="3.0" fill="#2c0f42" style="stroke:#14061d"/></marker>
<marker id="m205" overflow="visible"><circle r="3.0" fill="#2c2224" style="stroke:#130f10"/></marker>
<marker id="m206" overflow="visible"><circle r="3.0" fill="#2c2f34" style="stroke:#141517"/></marker>
<marker id="m207" overflow="visible"><circle r="3.0" fill="#2c331f" style="stroke:#13170e"/></marker>
<marker id="m208" overflow="visible"><circle r="3.0" fill="#2d263d" style="stroke:#14111b"/></marker>
<marker id="m209" overflow="visible"><circle r="3.0" fill="#2d2947" style="stroke:#141220"/></marker>
<marker id="m210" overflow="visible"><circle r="3.0" fill="#2d2c1f" style="stroke:#14130e"/></marker>
<marker id="m211" overflow="visible"><circle r="3.0" fill="#2e072e" style="stroke:#140314"/></marker>
<marker id="m212" overflow="visible"><circle r="3.0" fill="#2e1144" style="stroke:#15071e"/></marker>
<marker id="m213" overflow="visible"><circle r="3.0" fill="#2e1c0f" style="stroke:#140c07"/></marker>
<marker id="m214" overflow="visible"><circle r="3.0" fill="#2f2f2f" style="stroke:#151515"/></marker>
<marker id="m215" overflow="visible"><circle r="3.0" fill="#301d35" style="stroke:#160d18"/></marker>
<marker id="m216" overflow="visible"><circle r="3.0" fill="#302a22" style="stroke:#15130f"/></marker>
<marker id="m217" overflow="visible"><circle r="3.0" fill="#303839" style="stroke:#151919"/></marker>
<marker id="m218" overflow="visible"><circle r="3.0" fill="#30383a" style="stroke:#15191a"/></marker>
<marker id="m219" overflow="visible"><circle r="3.0" fill="#303a30" style="stroke:#151a15"/></marker>
<marker id="m220" overflow="visible"><circle r="3.0" fill="#303e19" style="stroke:#151c0b"/></marker>
<marker id="m221" overflow="visible"><circle r="3.0" fill="#31240c" style="stroke:#161005"/></marker>
<marker id="m222" overflow="visible"><circle r="3.0" fill="#312812" style="stroke:#161208"/></marker>
<marker id="m223" overflow="visible"><circle r="3.0" fill="#313022" style="stroke:#16150f"/></marker>
<marker id="m224" overflow="visible"><circle r="3.0" fill="#322520" style="stroke:#16100e"/></marker>
<marker id="m225" overflow="visible"><circle r="3.0" fill="#32261b" style="stroke:#16110c"/></marker>
<marker id="m226" overflow="visible"><circle r="3.0" fill="#322d4c" style="stroke:#161422"/></marker>
<marker id="m227" overflow="visible"><circle r="3.0" fill="#32363b" style="stroke:#16181a"/></marker>
<marker id="m228" overflow="visible"><circle r="3.0" fill="#323b23" style="stroke:#161a10"/></marker>
<marker id="m229" overflow="visible"><circle r="3.0" fill="#323c1c" style="stroke:#161b0c"/></marker>
<marker id="m230" overflow="visible"><circle r="3.0" fill="#331648" style="stroke:#170920"/></marker>
<marker id="m231" overflow="visible"><circle r="3.0" fill="#331941" style="stroke:#170b1d"/></marker>
<marker id="m232" overflow="visible"><circle r="3.0" fill="#332618" style="stroke:#17110b"/></marker>
<marker id="m233" overflow="visible"><circle r="3.0" fill="#33330f" style="stroke:#171706"/></marker>
<marker id="m234" overflow="visible"><circle r="3.0" fill="#341f39" style="stroke:#170e19"/></marker>
<marker id="m235" overflow="visible"><circle r="3.0" fill="#342019" style="stroke:#170e0b"/></marker>
<marker id="m236" overflow="visible"><circle r="3.0" fill="#343636" style="stroke:#171818"/></marker>
<marker id="m237" overflow="visible"><circle r="3.0" fill="#345416" style="stroke:#172509"/></marker>
<marker id="m238" overflow="visible"><circle r="3.0" fill="#35270d" style="stroke:#181105"/></marker>
<marker id="m239" overflow="visible"><circle r="3.0" fill="#352722" style="stroke:#18110f"/></marker>
<marker id="m240" overflow="visible"><circle r="3.0" fill="#353056" style="stroke:#181527"/></marker>
<marker id="m241" overflow="visible"><circle r="3.0" fill="#35494a" style="stroke:#172121"/></marker>
<marker id="m242" overflow="visible"><circle r="3.0" fill="#362112" style="stroke:#180e08"/></marker>
<marker id="m243" overflow="visible"><circle r="3.0" fill="#36281a" style="stroke:#18120b"/></marker>
<marker id="m244" overflow="visible"><circle r="3.0" fill="#363636" style="stroke:#181818"/></marker>
<marker id="m245" overflow="visible"><circle r="3.0" fill="#370e28" style="stroke:#180612"/></marker>
<marker id="m246" overflow="visible"><circle r="3.0" fill="#371212" style="stroke:#190808"/></marker>
<marker id="m247" overflow="visible"><circle r="3.0" fill="#372b2d" style="stroke:#181314"/></marker>
<marker id="m248" overflow="visible"><circle r="3.0" fill="#37362f" style="stroke:#181815"/></marker>
<marker id="m249" overflow="visible"><circle r="3.0" fill="#383727" style="stroke:#191811"/></marker>
<marker id="m250" overflow="visible"><circle r="3.0" fill="#391b55" style="stroke:#190c26"/></marker>
<marker id="m251" overflow="visible"><circle r="3.0" fill="#392525" style="stroke:#191010"/></marker>
<marker id="m252" overflow="visible"><circle r="3.0" fill="#39290e" style="stroke:#191206"/></marker>
<marker id="m253" overflow="visible"><circle r="3.0" fill="#392f4c" style="stroke:#191522"/></marker>
<marker id="m254" overflow="visible"><circle r="3.0" fill="#39352e" style="stroke:#191815"/></marker>
<marker id="m255" overflow="visible"><circle r="3.0" fill="#3a093a" style="stroke:#1a041a"/></marker>
<marker id="m256" overflow="visible"><circle r="3.0" fill="#3a2313" style="stroke:#1a1008"/></marker>
<marker id="m257" overflow="visible"><circle r="3.0" fill="#3c251c" style="stroke:#1b100c"/></marker>
<marker id="m258" overflow="visible"><circle r="3.0" fill="#3c342b" style="stroke:#1b1713"/></marker>
<marker id="m259" overflow="visible"><circle r="3.0" fill="#3c4647" style="stroke:#1b1f20"/></marker>
<marker id="m260" overflow="visible"><circle r="3.0" fill="#3c4649" style="stroke:#1b1f20"/></marker>
<marker id="m261" overflow="visible"><circle r="3.0" fill="#3d2443" style="stroke:#1b101e"/></marker>
<marker id="m262" overflow="visible"><circle r="3.0" fill="#3e2d0f" style="stroke:#1c1406"/></marker>
<marker id="m263" overflow="visible"><circle r="3.0" fill="#3e444a" style="stroke:#1c1e21"/></marker>
<marker id="m264" overflow="visible"><circle r="3.0" fill="#3e4c23" style="stroke:#1c220f"/></marker>
<marker id="m265" overflow="visible"><circle r="3.0" fill="#3f3811" style="stroke:#1c1907"/></marker>
<marker id="m266" overflow="visible"><circle r="3.0" fill="#3f3966" style="stroke:#1c192d"/></marker>
<marker id="m267" overflow="visible"><circle r="3.0" fill="#400e40" style="stroke:#1c061c"/></marker>
<marker id="m268" overflow="visible"><circle r="3.0" fill="#401f51" style="stroke:#1d0e24"/></marker>
<marker id="m269" overflow="visible"><circle r="3.0" fill="#414444" style="stroke:#1d1e1e"/></marker>
<marker id="m270" overflow="visible"><circle r="3.0" fill="#420c0c" style="stroke:#1d0505"/></marker>
<marker id="m271" overflow="visible"><circle r="3.0" fill="#42281f" style="stroke:#1d120e"/></marker>
<marker id="m272" overflow="visible"><circle r="3.0" fill="#430c5b" style="stroke:#1e0528"/></marker>
<marker id="m273" overflow="visible"><circle r="3.0" fill="#430f1a" style="stroke:#1e070b"/></marker>
<marker id="m274" overflow="visible"><circle r="3.0" fill="#431111" style="stroke:#1e0707"/></marker>
<marker id="m275" overflow="visible"><circle r="3.0" fill="#431143" style="stroke:#1e071e"/></marker>
<marker id="m276" overflow="visible"><circle r="3.0" fill="#432916" style="stroke:#1e120a"/></marker>
<marker id="m277" overflow="visible"><circle r="3.0" fill="#43312b" style="stroke:#1e1613"/></marker>
<marker id="m278" overflow="visible"><circle r="3.0" fill="#440e0e" style="stroke:#1e0606"/></marker>
<marker id="m279" overflow="visible"><circle r="3.0" fill="#443129" style="stroke:#1e1612"/></marker>
<marker id="m280" overflow="visible"><circle r="3.0" fill="#443221" style="stroke:#1e160e"/></marker>
<marker id="m281" overflow="visible"><circle r="3.0" fill="#450f0f" style="stroke:#1f0606"/></marker>
<marker id="m282" overflow="visible"><circle r="3.0" fill="#45294c" style="stroke:#1f1222"/></marker>
<marker id="m283" overflow="visible"><circle r="3.0" fill="#45443b" style="stroke:#1f1e1a"/></marker>
<marker id="m284" overflow="visible"><circle r="3.0" fill="#471111" style="stroke:#200707"/></marker>
<marker id="m285" overflow="visible"><circle r="3.0" fill="#471147" style="stroke:#200720"/></marker>
<marker id="m286" overflow="visible"><circle r="3.0" fill="#471616" style="stroke:#200909"/></marker>
<marker id="m287" overflow="visible"><circle r="3.0" fill="#472269" style="stroke:#200f2f"/></marker>
<marker id="m288" overflow="visible"><circle r="3.0" fill="#472e2e" style="stroke:#201414"/></marker>
<marker id="m289" overflow="visible"><circle r="3.0" fill="#473411" style="stroke:#201707"/></marker>
<marker id="m290" overflow="visible"><circle r="3.0" fill="#47433a" style="stroke:#201e1a"/></marker>
<marker id="m291" overflow="visible"><circle r="3.0" fill="#490f61" style="stroke:#20062b"/></marker>
<marker id="m292" overflow="visible"><circle r="3.0" fill="#4a1130" style="stroke:#210715"/></marker>
<marker id="m293" overflow="visible"><circle r="3.0" fill="#4b1163" style="stroke:#21072c"/></marker>
<marker id="m294" overflow="visible"><circle r="3.0" fill="#4b2e23" style="stroke:#221410"/></marker>
<marker id="m295" overflow="visible"><circle r="3.0" fill="#4b4236" style="stroke:#211d18"/></marker>
<marker id="m296" overflow="visible"><circle r="3.0" fill="#4c1616" style="stroke:#220909"/></marker>
<marker id="m297" overflow="visible"><circle r="3.0" fill="#4c164c" style="stroke:#220922"/></marker>
<marker id="m298" overflow="visible"><circle r="3.0" fill="#4d2f1a" style="stroke:#22150b"/></marker>
<marker id="m299" overflow="visible"><circle r="3.0" fill="#4f1668" style="stroke:#23092e"/></marker>
<marker id="m300" overflow="visible"><circle r="3.0" fill="#4f4616" style="stroke:#231f09"/></marker>
<marker id="m301" overflow="visible"><circle r="3.0" fill="#522a23" style="stroke:#251310"/></marker>
<marker id="m302" overflow="visible"><circle r="3.0" fill="#541320" style="stroke:#25080e"/></marker>
<marker id="m303" overflow="visible"><circle r="3.0" fill="#553d34" style="stroke:#261b17"/></marker>
<marker id="m304" overflow="visible"><circle r="3.0" fill="#553f29" style="stroke:#261c12"/></marker>
<marker id="m305" overflow="visible"><circle r="3.0" fill="#555a4b"/></marker>
<marker id="m306" overflow="visible"><circle r="3.0" fill="#573360" style="stroke:#27172b"/></marker>
<marker id="m307" overflow="visible"><circle r="3.0" fill="#594116" style="stroke:#281d09"/></marker>
<marker id="m308" overflow="visible"><circle r="3.0" fill="#5a1522" style="stroke:#28090f"/></marker>
<marker id="m309" overflow="visible"><circle r="3.0" fill="#5c153c" style="stroke:#29091b"/></marker>
<marker id="m310" overflow="visible"><circle r="3.0" fill="#603b20" style="stroke:#2b1a0e"/></marker>
<marker id="m311" overflow="visible"><circle r="3.0" fill="#671929" style="stroke:#2e0b12"/></marker>
<marker id="m312" overflow="visible"><circle r="3.0" fill="#67352c" style="stroke:#2e1814"/></marker>
<marker id="m313" overflow="visible"><circle r="3.0" fill="#691169" style="stroke:#2f072f"/></marker>
<marker id="m314" overflow="visible"><circle r="3.0" fill="#6b1d2d" style="stroke:#300d14"/></marker>
<marker id="m315" overflow="visible"><circle r="3.0" fill="#751111" style="stroke:#340707"/></marker>
<marker id="m316" overflow="visible"><circle r="3.0" fill="#791616" style="stroke:#360909"/></marker>
<marker id="m317" overflow="visible"><circle r="3.0" fill="#791679" style="stroke:#360936"/></marker>
<marker id="m318" overflow="visible"><circle r="3.0" fill="aquamarine"/></marker>
<marker id="m319" overflow="visible"><circle r="3.0" fill="azure"/></marker>
<marker id="m320" overflow="visible"><circle r="3.0" fill="beige"/></marker>
<marker id="m321" overflow="visible"><circle r="3.0" fill="black"/></marker>
<marker id="m322" overflow="visible"><circle r="3.0" fill="blue"/></marker>
<marker id="m323" overflow="visible"><circle r="3.0" fill="blueviolet"/></marker>
<marker id="m324" overflow="visible"><circle r="3.0" fill="brown"/></marker>
<marker id="m325" overflow="visible"><circle r="3.0" fill="burlywood"/></marker>
<marker id="m326" overflow="visible"><circle r="3.0" fill="cadetblue"/></marker>
<marker id="m327" overflow="visible"><circle r="3.0" fill="chartreuse"/></marker>
<marker id="m328" overflow="visible"><circle r="3.0" fill="chocolate"/></marker>
<marker id="m329" overflow="visible"><circle r="3.0" fill="coral"/></marker>
<marker id="m330" overflow="visible"><circle r="3.0" fill="cornflowerblue"/></marker>
<marker id="m331" overflow="visible"><circle r="3.0" fill="cornsilk"/></marker>
<marker id="m332" overflow="visible"><circle r="3.0" fill="crimson"/></marker>
<marker id="m333" overflow="visible"><circle r="3.0" fill="cyan"/></marker>
<marker id="m334" overflow="visible"><circle r="3.0" fill="darkblue"/></marker>
<marker id="m335" overflow="visible"><circle r="3.0" fill="darkcyan"/></marker>
<marker id="m336" overflow="visible"><circle r="3.0" fill="darkgoldenrod"/></marker>
<marker id="m337" overflow="visible"><circle r="3.0" fill="darkgray"/></marker>
<marker id="m338" overflow="visible"><circle r="3.0" fill="darkkhaki"/></marker>
<marker id="m339" overflow="visible"><circle r="3.0" fill="darkmagenta"/></marker>
<marker id="m340" overflow="visible"><circle r="3.0" fill="darkolivegreen"/></marker>
<marker id="m341" overflow="visible"><circle r="3.0" fill="darkorange"/></marker>
<marker id="m342" overflow="visible"><circle r="3.0" fill="darkorchid"/></marker>
<marker id="m343" overflow="visible"><circle r="3.0" fill="darkred"/></marker>
<marker id="m344" overflow="visible"><circle r="3.0" fill="darksalmon"/></marker>
<marker id="m345" overflow="visible"><circle r="3.0" fill="darkseagreen"/></marker>
<marker id="m346" overflow="visible"><circle r="3.0" fill="darkslateblue"/></marker>
<marker id="m347" overflow="visible"><circle r="3.0" fill="darkslategray"/></marker>
<marker id="m348" overflow="visible"><circle r="3.0" fill="darkturquoise"/></marker>
<marker id="m349" overflow="visible"><circle r="3.0" fill="darkviolet"/></marker>
<marker id="m350" overflow="visible"><circle r="3.0" fill="deeppink"/></marker>
<marker id="m351" overflow="visible"><circle r="3.0" fill="deepskyblue"/></marker>
<marker id="m352" overflow="visible"><circle r="3.0" fill="dimgray"/></marker>
<marker id="m353" overflow="visible"><circle r="3.0" fill="dodgerblue"/></marker>
<marker id="m354" overflow="visible"><circle r="3.0" fill="firebrick"/></marker>
<marker id="m355" overflow="visible"><circle r="3.0" fill="forestgreen"/></marker>
<marker id="m356" overflow="visible"><circle r="3.0" fill="gainsboro"/></marker>
<marker id="m357" overflow="visible"><circle r="3.0" fill="gold"/></marker>
<marker id="m358" overflow="visible"><circle r="3.0" fill="goldenrod"/></marker>
<marker id="m359" overflow="visible"><circle r="3.0" fill="gray"/></marker>
<marker id="m360" overflow="visible"><circle r="3.0" fill="green"/></marker>
<marker id="m361" overflow="visible"><circle r="3.0" fill="greenyellow"/></marker>
<marker id="m362" overflow="visible"><circle r="3.0" fill="hotpink"/></marker>
<marker id="m363" overflow="visible"><circle r="3.0" fill="indianred"/></marker>
<marker id="m364" overflow="visible"><circle r="3.0" fill="indigo"/></marker>
<marker id="m365" overflow="visible"><circle r="3.0" fill="khaki"/></marker>
<marker id="m366" overflow="visible"><circle r="3.0" fill="lavender"/></marker>
<marker id="m367" overflow="visible"><circle r="3.0" fill="lawngreen"/></marker>
<marker id="m368" overflow="visible"><circle r="3.0" fill="lemonchiffon"/></marker>
<marker id="m369" overflow="visible"><circle r="3.0" fill="lightblue"/></marker>
<marker id="m370" overflow="visible"><circle r="3.0" fill="lightcoral"/></marker>
<marker id="m371" overflow="visible"><circle r="3.0" fill="lightgray"/></marker>
<marker id="m372" overflow="visible"><circle r="3.0" fill="lightgreen"/></marker>
<marker id="m373" overflow="visible"><circle r="3.0" fill="lightpink"/></marker>
<marker id="m374" overflow="visible"><circle r="3.0" fill="lightsalmon"/></marker>
<marker id="m375" overflow="visible"><circle r="3.0" fill="lightseagreen"/></marker>
<marker id="m376" overflow="visible"><circle r="3.0" fill="lightskyblue"/></marker>
<marker id="m377" overflow="visible"><circle r="3.0" fill="lightslategray"/></marker>
<marker id="m378" overflow="visible"><circle r="3.0" fill="lightsteelblue"/></marker>
<marker id="m379" overflow="visible"><circle r="3.0" fill="lime"/></marker>
<marker id="m380" overflow="visible"><circle r="3.0" fill="limegreen"/></marker>
<marker id="m381" overflow="visible"><circle r="3.0" fill="magenta"/></marker>
<marker id="m382" overflow="visible"><circle r="3.0" fill="maroon"/></marker>
<marker id="m383" overflow="visible"><circle r="3.0" fill="mediumaquamarine"/></marker>
<marker id="m384" overflow="visible"><circle r="3.0" fill="mediumblue"/></marker>
<marker id="m385" overflow="visible"><circle r="3.0" fill="mediumorchid"/></marker>
<marker id="m386" overflow="visible"><circle r="3.0" fill="mediumpurple"/></marker>
<marker id="m387" overflow="visible"><circle r="3.0" fill="mediumseagreen"/></marker>
<marker id="m388" overflow="visible"><circle r="3.0" fill="mediumspringgreen"/></marker>
<marker id="m389" overflow="visible"><circle r="3.0" fill="mediumturquoise"/></marker>
<marker id="m390" overflow="visible"><circle r="3.0" fill="mediumvioletred"/></marker>
<marker id="m391" overflow="visible"><circle r="3.0" fill="navy"/></marker>
<marker id="m392" overflow="visible"><circle r="3.0" fill="olivedrab"/></marker>
<marker id="m393" overflow="visible"><circle r="3.0" fill="orange"/></marker>
<marker id="m394" overflow="visible"><circle r="3.0" fill="orangered"/></marker>
<marker id="m395" overflow="visible"><circle r="3.0" fill="palegoldenrod"/></marker>
<marker id="m396" overflow="visible"><circle r="3.0" fill="paleturquoise"/></marker>
<marker id="m397" overflow="visible"><circle r="3.0" fill="palevioletred"/></marker>
<marker id="m398" overflow="visible"><circle r="3.0" fill="peru"/></marker>
<marker id="m399" overflow="visible"><circle r="3.0" fill="plum"/></marker>
<marker id="m400" overflow="visible"><circle r="3.0" fill="powderblue"/></marker>
<marker id="m401" overflow="visible"><circle r="3.0" fill="purple"/></marker>
<marker id="m402" overflow="visible"><circle r="3.0" fill="red"/></marker>
<marker id="m403" overflow="visible"><circle r="3.0" fill="sandybrown"/></marker>
<marker id="m404" overflow="visible"><circle r="3.0" fill="seagreen"/></marker>
<marker id="m405" overflow="visible"><circle r="3.0" fill="sienna"/></marker>
<marker id="m406" overflow="visible"><circle r="3.0" fill="silver"/></marker>
<marker id="m407" overflow="visible"><circle r="3.0" fill="skyblue"/></marker>
<marker id="m408" overflow="visible"><circle r="3.0" fill="slateblue"/></marker>
<marker id="m409" overflow="visible"><circle r="3.0" fill="slategray"/></marker>
<marker id="m410" overflow="visible"><circle r="3.0" fill="steelblue"/></marker>
<marker id="m411" overflow="visible"><circle r="3.0" fill="tan"/></marker>
<marker id="m412" overflow="visible"><circle r="3.0" fill="thistle"/></marker>
<marker id="m413" overflow="visible"><circle r="3.0" fill="tomato"/></marker>
<marker id="m414" overflow="visible"><circle r="3.0" fill="turquoise"/></marker>
<marker id="m415" overflow="visible"><circle r="3.0" fill="violet"/></marker>
<marker id="m416" overflow="visible"><circle r="3.0" fill="wheat"/></marker>
<marker id="m417" overflow="visible"><circle r="3.0" fill="white"/></marker>
<marker id="m418" overflow="visible"><circle r="3.0" fill="yellow"/></marker>
<clipPath id="ax"><rect x="100.5" y="60.5" width="620.0" height="480.0"/></clipPath>
</defs>
<g clip-path="url(#ax)">
<polyline class="m407" points="128.7,277.6 128.4,275.1 128.6,272.3 128.8,270.0 128.7,267.1 128.6,264.1 128.5,261.5 128.7,259.3 128.8,256.9 128.7,253.6 128.6,250.4"/>
<polyline class="m407" points="128.0,241.0 128.7,230.2"/>
<polyline class="m167" points="129.1,271.0 129.1,272.9 129.3,275.6 129.4,277.1 129.5,279.4 129.5,281.7 129.3,283.1 129.6,285.7 129.5,287.9 129.7,289.6 129.6,291.4 129.8,293.5 129.7,295.3 129.7,298.2 129.6,299.4 128.7,302.4 128.8,304.5 128.8,306.1 129.1,307.9 128.9,309.7 129.1,311.9 129.1,313.8 129.2,316.1 129.1,318.1 129.1,320.4 129.1,322.3 129.4,325.1 129.5,326.2"/>
<polyline class="m120" points="128.3,276.7 128.6,280.7 129.1,283.6 128.9,287.2 129.0,290.3 129.3,293.9 129.8,296.9 129.7,300.3 130.1,303.6 130.3,307.1 130.4,310.5 128.0,314.0 128.2,317.5 128.5,321.1"/>
<polyline class="m407" points="129.5,265.1 129.3,267.9 129.4,271.1 129.2,273.9"/>
<polyline class="m407" points="128.5,324.4 128.5,327.0 128.8,329.3 128.5,331.9 128.5,334.2"/>
<polyline class="m407" points="129.5,308.7 129.4,311.0 129.4,313.6 129.4,315.7 129.4,317.9 129.5,320.4"/>
<polyline class="m406" points="131.0,321.5 131.1,324.1 131.0,326.9 130.8,329.2 130.8,331.8 131.1,334.6 130.8,337.4 131.2,339.9 131.1,342.4 131.0,344.6 131.0,347.6 131.0,350.3 130.9,353.1 130.9,355.8 130.9,358.2 131.1,361.1 131.0,364.0 130.9,366.7"/>
<polyline class="m32" points="130.9,273.5 131.0,274.7 130.9,277.4 130.9,278.8 130.9,281.5 131.4,283.7 131.5,285.7 131.3,287.9 131.5,289.7 131.6,291.7 131.9,293.4 131.6,295.3 131.6,298.0 132.0,299.8 132.0,301.8 132.2,303.8 132.3,306.4 132.5,308.1 132.2,309.9 132.6,312.7 132.8,314.2 132.4,316.4 132.9,318.4 132.9,320.8 130.4,323.0 130.8,324.2 130.7,326.6"/>
<polyline class="m23" points="132.5,279.0 132.3,282.7 132.9,285.8 130.5,288.9 131.0,292.1 131.1,294.9 131.2,298.4 131.1,301.3 131.5,305.2 131.6,308.2 131.6,311.6 131.8,314.3 132.2,317.6 132.4,320.9"/>
<polyline class="m335" points="132.1,268.9 131.9,272.1 132.3,275.5"/>
<polyline class="m406" points="132.3,325.4 132.1,328.0 132.1,330.2 132.3,333.0"/>
<polyline class="m335" points="130.8,304.0 130.8,306.3 130.8,308.3 130.9,310.6 130.9,312.9 130.9,315.1"/>
<polyline class="m409" points="133.3,277.7 133.3,274.8 133.4,272.1 133.7,269.6 133.7,267.4 133.5,264.9 133.4,262.2 133.5,259.8 133.7,257.1 133.6,254.6 133.6,251.9 133.7,249.5 133.4,247.1 133.6,244.5 133.5,241.2 133.5,237.9"/>
<polyline class="m406" points="129.2,366.0 129.4,363.6 129.1,360.8 129.1,358.5 129.3,356.2 129.3,353.6 129.2,351.1 129.3,348.2 129.5,345.9 129.5,343.6 129.4,341.2 129.4,338.3 129.3,335.9 129.2,333.1 129.2,330.6 129.1,328.3 129.3,325.6 129.2,323.0 129.5,320.7 129.5,318.3 129.3,315.9 129.2,313.4 131.3,364.0 131.1,361.2 131.4,358.5 131.0,355.7 131.3,352.3 131.2,349.0 131.2,346.4 131.0,343.7 131.4,340.7 131.2,337.9 131.3,335.0 131.2,331.8 131.4,328.5 131.2,326.1 131.4,323.5 131.4,320.9 131.3,318.2"/>
<polyline class="m406" points="129.2,385.0 129.2,383.0 129.2,378.0 129.2,372.0 129.2,367.0"/>
<polyline class="m263" points="134.3,271.1 134.2,272.7 134.3,274.5 134.5,276.6 134.6,279.1 134.7,280.6 134.7,283.6 134.8,285.3 135.1,287.1 134.9,289.2 135.0,291.7 135.1,293.0 135.3,295.8 135.4,297.9 132.8,299.2 133.0,301.4 132.9,303.9 133.4,305.8 133.4,308.1 133.3,309.7 133.5,312.2 133.5,314.2 133.5,316.2 133.9,317.8 134.0,319.8 134.0,321.7 133.7,323.8 133.8,326.6 134.1,328.5 134.1,330.5 134.0,332.5"/>
<polyline class="m227" points="133.6,276.7 133.9,280.2 134.2,283.3 134.0,286.7 134.2,289.7 134.4,292.9 134.9,296.2 134.7,300.1 135.2,303.0 135.2,306.4 133.0,309.4 133.3,312.8 133.2,316.3 133.5,319.4 133.5,322.7 133.8,326.1"/>
<polyline class="m409" points="133.7,264.2 134.0,266.9 134.0,269.5 133.8,272.2"/>
<polyline class="m409" points="134.2,330.6 133.8,333.2 134.1,335.5 133.9,337.6"/>
<polyline class="m409" points="135.0,284.7 134.9,286.7 135.0,288.9 134.9,290.9"/>
<polyline class="m408" points="135.3,272.4 135.2,270.1 135.6,267.3 135.5,264.9 135.4,262.2 135.3,259.1 135.5,256.4"/>
<polyline class="m377" points="135.8,278.0 135.7,275.3 135.8,272.5 135.4,269.6 135.4,267.0 135.5,264.7 135.6,262.0 135.8,259.6 135.8,257.4 135.7,255.1 135.7,252.8 135.7,250.0 135.6,247.2 135.4,244.4"/>
<polyline class="m105" points="135.9,267.3 135.7,268.8 136.3,271.1 136.4,273.2 136.3,275.5 136.3,277.4 136.3,279.7 136.4,280.9 136.5,283.4 136.8,285.2 136.7,287.2 136.7,289.1 136.9,291.6 136.6,293.2 137.0,295.4 136.8,297.3 136.9,300.0 136.9,302.0 137.3,303.3 137.1,305.2 137.2,308.1 137.5,309.3 137.5,311.4 137.5,313.4 137.6,315.9 135.4,317.9 135.3,320.1 135.7,322.1 135.5,323.9 135.8,326.0 135.6,328.0 135.8,330.2 136.1,332.0 136.1,333.6"/>
<polyline class="m78" points="135.3,272.6 135.4,276.3 135.9,279.9 135.9,282.9 136.0,285.8 136.1,289.5 136.4,292.4 136.4,295.9 136.7,298.8 136.6,302.4 136.8,305.3 137.0,308.4 137.1,311.9 137.2,315.4 137.3,318.7 137.7,321.6 135.2,324.4 135.5,327.9"/>
<polyline class="m377" points="136.3,258.6 136.3,261.6 136.2,264.0 136.2,267.1 136.4,269.5"/>
<polyline class="m378" points="135.9,333.6 135.9,336.9 135.6,340.1"/>
<polyline class="m378" points="136.7,276.6 136.7,278.9 136.6,280.8 136.6,282.7"/>
<polyline class="m378" points="137.1,325.7 136.8,328.2 137.0,330.6 136.9,333.1 136.9,335.6 137.2,338.1 137.2,340.6 137.1,343.4"/>
<polyline class="m275" points="137.8,266.2 137.8,268.8 137.9,271.0 138.0,272.4 138.3,274.7 138.4,276.7 138.4,278.9 138.5,281.3 138.6,283.4 138.8,285.3 138.9,287.5 138.8,289.3 138.8,291.1 138.8,292.9 139.1,295.1 139.0,297.1 139.1,299.6 139.3,301.7 139.5,303.7 139.4,305.9 139.4,307.2 139.4,309.3 139.7,311.4 139.9,313.6 139.8,316.2 140.0,317.8 140.1,319.7 140.0,321.6 139.9,323.6 138.0,326.3 138.0,327.6 138.1,330.5"/>
<polyline class="m267" points="140.0,272.8 140.0,276.1 137.7,279.4 138.0,282.7 138.1,285.0 138.0,289.0 138.5,291.5 138.6,295.1 138.8,297.9 138.6,301.2 139.2,304.4 139.0,308.0 139.1,311.5 139.3,314.3 139.8,317.8 139.7,321.0 140.0,324.3"/>
<polyline class="m401" points="139.3,262.4 139.4,265.0 139.3,267.3 139.5,269.3"/>
<polyline class="m401" points="139.3,328.3 139.5,331.6 139.4,334.9 139.1,338.1"/>
<polyline class="m401" points="138.1,285.7 138.1,288.1 138.0,290.3 138.0,292.6"/>
<polyline class="m410" points="140.7,271.4 140.5,268.9 140.8,266.2 140.4,263.5 140.5,260.4"/>
<polyline class="m150" points="141.3,267.3 141.6,270.0 141.9,271.7 141.8,274.1 141.8,276.3 142.0,278.0 142.2,280.2 141.9,281.6 142.2,283.6 142.0,285.8 142.4,288.1 142.2,290.1 142.4,291.9 142.5,293.8 140.2,295.7 140.4,297.8 140.3,300.4 140.2,302.6 140.4,303.9 140.4,306.3 140.6,308.1 140.7,310.0 140.6,312.8 140.9,314.3 140.7,316.5 140.9,318.3 140.9,320.6 141.1,322.6 141.0,324.4 141.1,326.4 141.1,328.6 141.2,331.0 141.5,332.2 141.5,334.7"/>
<polyline class="m107" points="140.3,273.9 140.6,277.0 140.8,280.6 140.9,283.0 141.1,286.7 141.0,289.4 141.1,293.2 141.5,296.5 141.7,300.0 141.4,302.8 142.0,306.0 141.9,309.0 142.1,313.0 142.4,316.0 142.5,318.9 142.3,322.5 140.4,325.0 140.2,328.7"/>
<polyline class="m410" points="140.4,262.4 140.3,264.7 140.6,267.4 140.4,269.8"/>
<polyline class="m410" points="140.7,334.9 140.5,337.9"/>
<polyline class="m410" points="140.8,279.8 140.9,283.0 140.8,285.9 141.0,289.1 140.9,291.8"/>
<polyline class="m331" points="140.0,333.0 140.0,341.5 140.0,349.0 140.0,353.0"/>
<polyline class="m295" points="144.6,266.7 144.5,269.0 144.6,270.2 144.5,272.8 144.6,274.4 145.0,276.6 144.9,278.5 142.8,280.5 142.5,283.0 142.7,284.5 142.8,286.5 142.9,288.9 142.8,291.5 142.9,292.9 142.9,295.5 143.2,297.6 143.0,299.6 143.1,301.3 143.3,303.3 143.5,305.4 143.6,307.7 143.6,309.2 143.7,311.3 143.6,313.6 143.7,315.3 143.9,318.0 143.9,319.8 144.2,321.8 144.3,323.3 144.4,325.9 144.3,327.5 144.1,329.8 144.5,332.0 144.4,333.8"/>
<polyline class="m258" points="143.5,272.4 143.9,275.9 143.8,279.2 143.9,282.2 144.0,285.4 144.2,288.9 144.5,291.6 144.8,295.6 144.7,298.2 142.5,301.5 142.6,305.0 142.6,308.3 143.1,311.8 143.1,314.9 143.2,318.5 143.4,321.3 143.5,324.7 143.8,328.0"/>
<polyline class="m325" points="143.9,267.4 143.9,267.4"/>
<polyline class="m325" points="143.0,331.8 143.0,334.3 143.0,337.0 143.2,339.6"/>
<polyline class="m325" points="144.1,271.3 144.1,273.6 144.2,276.1 144.2,278.2 144.1,280.3 144.2,282.6"/>
<polyline class="m325" points="144.0,271.0 143.9,268.3 143.9,265.4"/>
<polyline class="m258" points="146.2,270.3 146.4,272.1 146.4,274.4 146.4,276.2 146.7,278.5 146.7,280.9 146.6,282.4 146.7,285.0 147.0,286.9 147.1,288.2 147.1,290.5 147.4,293.1 147.4,294.5 144.7,296.8 145.0,298.6 145.2,300.6 145.0,303.1 145.3,304.6 145.4,307.3 145.4,308.7 145.6,310.5 145.4,313.4 145.5,314.9 145.7,316.9 145.6,318.6 146.1,321.2 146.1,323.5 146.0,325.0 145.9,327.4 146.3,329.4 146.3,330.8 146.5,333.7"/>
<polyline class="m216" points="145.6,276.0 145.9,279.7 146.0,282.9 146.2,286.3 146.7,290.5 146.5,293.4 146.8,296.8 146.8,299.8 147.0,303.8 147.3,307.4 144.8,310.5 145.3,313.5 145.2,317.4 145.4,320.3 145.8,324.3 146.0,327.8"/>
<polyline class="m325" points="146.9,267.4 146.8,269.9 146.8,272.1"/>
<polyline class="m325" points="145.7,331.0 145.8,333.8 145.7,336.5 146.0,339.2"/>
<polyline class="m325" points="145.3,297.7 145.3,300.5 145.3,302.9 145.3,305.7 145.5,308.4 145.4,311.0"/>
<polyline class="m325" points="143.9,299.9 143.9,296.9 144.0,293.6 143.8,290.6 143.6,287.7 143.5,284.1 143.9,280.6 143.8,277.3 143.7,273.4 143.9,269.8 143.9,266.0"/>
<polyline class="m325" points="143.7,312.0 144.1,314.8 144.1,318.3 144.1,321.8 143.8,325.2 144.1,328.6 143.7,331.6 143.8,334.5"/>
<polyline class="m295" points="148.0,268.7 148.5,270.1 148.5,273.0 148.4,274.9 148.4,276.0 148.8,278.8 148.6,280.7 148.9,283.0 148.9,284.2 149.1,286.2 149.2,288.6 149.3,290.5 149.1,292.1 149.1,294.5 149.2,296.6 149.4,298.6 149.2,301.0 149.6,302.1 149.6,305.1 149.9,306.5 147.3,308.9 147.5,310.3 147.4,313.1 147.8,314.6 147.5,316.2 147.7,318.8 147.7,320.9 147.7,322.7 147.7,324.6 148.2,327.0 148.1,329.0 148.4,330.7 148.1,333.1"/>
<polyline class="m258" points="147.2,274.3 147.5,277.5 147.7,280.9 147.7,284.6 148.0,287.3 148.2,290.5 148.3,294.2 148.3,297.0 148.5,300.5 148.7,303.4 148.8,307.2 148.8,310.1 149.3,313.3 149.3,317.4 149.5,320.5 149.8,323.0 147.6,326.6"/>
<polyline class="m325" points="148.1,264.3 148.2,267.7 148.1,271.0"/>
<polyline class="m325" points="149.1,332.3 149.2,335.1 148.9,338.2 149.1,341.1"/>
<polyline class="m325" points="148.6,281.1 148.7,283.7 148.7,286.3 148.6,289.1"/>
<polyline class="m325" points="148.6,329.3 148.9,332.2 148.7,334.7 148.7,337.5 148.8,340.4 148.8,343.7"/>
<polyline class="m212" points="150.8,268.1 150.6,270.1 151.0,272.1 151.1,273.4 151.1,275.6 151.0,277.9 151.0,279.7 151.0,282.0 151.5,283.5 151.5,286.3 151.6,287.7 151.4,289.9 151.8,291.8 151.5,293.8 151.5,296.4 152.0,297.8 151.9,300.1 152.0,302.8 151.8,304.2 149.9,306.8 149.9,308.1 149.7,310.5 149.8,312.1 150.1,314.4 149.9,316.1 150.3,318.4 150.4,320.3 150.4,322.6 150.3,324.3 150.7,326.6 150.5,328.8 150.5,331.2"/>
<polyline class="m197" points="152.1,273.6 149.7,277.3 149.9,280.1 150.0,284.0 150.1,287.5 150.1,290.6 150.5,293.9 150.9,297.9 150.9,300.5 150.8,304.2 150.9,307.8 151.6,311.5 151.6,314.2 151.6,317.9 151.8,321.5 152.2,325.3"/>
<polyline class="m364" points="150.8,258.7 151.0,262.0 150.7,264.6 150.8,267.5 150.9,270.3"/>
<polyline class="m364" points="150.2,328.2 150.4,331.0 150.2,333.7 150.4,336.0"/>
<polyline class="m412" points="152.4,276.0 152.5,273.7 152.7,270.9 152.4,268.3 152.5,265.6 152.5,262.7 152.5,259.9 152.5,257.1 152.5,254.5 152.6,251.4 152.6,248.4"/>
<polyline class="m72" points="153.2,267.5 152.9,269.0 153.3,270.8 153.0,273.0 153.3,275.1 153.5,277.1 153.4,279.9 153.4,281.1 153.8,283.1 153.5,285.6 153.7,287.7 153.8,289.2 154.1,291.3 153.8,293.8 154.0,295.8 154.1,297.7 154.1,299.6 154.2,302.0 154.4,304.1 154.4,305.9 152.0,307.8 152.2,310.4 152.3,311.8 152.2,314.2 152.4,316.1 152.6,318.0 152.6,320.2 152.8,322.4 152.5,324.7 152.8,326.8 153.1,328.4 152.9,330.8"/>
<polyline class="m48" points="153.1,272.7 153.5,276.6 153.7,279.4 153.7,283.0 153.9,285.7 154.0,289.1 154.4,292.6 154.6,295.7 152.2,299.0 152.4,301.7 152.5,304.9 152.5,308.8 152.6,311.4 152.8,315.0 153.2,318.3 153.4,322.0 153.4,324.8"/>
<polyline class="m412" points="152.9,263.4 152.9,266.0 152.7,268.2"/>
<polyline class="m412" points="152.7,329.2 152.8,332.7 152.7,335.7 152.7,338.3"/>
<polyline class="m412" points="152.5,304.7 152.5,306.6 152.5,308.6 152.5,310.8 152.5,312.9 152.5,315.3"/>
<polyline class="m413" points="155.1,328.6 155.1,331.3 155.1,333.8 154.9,337.0 155.2,340.3"/>
<polyline class="m312" points="155.6,274.7 155.6,276.4 155.8,279.1 156.1,280.5 156.3,283.4 156.0,284.7 156.3,286.7 156.3,288.8 156.4,291.2 156.4,293.2 156.7,294.9 156.5,297.0 156.5,299.6 157.0,301.8 156.8,303.9 154.6,305.8 154.5,307.4 154.8,309.3 154.7,311.7 154.9,313.4 155.1,316.1 155.3,317.4 155.2,319.8 155.3,322.0 155.2,323.8 155.5,326.0 155.5,327.8 155.8,330.0 155.9,331.6"/>
<polyline class="m301" points="155.7,280.3 155.8,283.9 156.3,286.8 156.2,290.4 156.7,293.9 156.6,297.2 156.9,300.1 154.8,303.8 154.7,306.7 155.1,309.4 155.0,312.9 155.2,316.1 155.7,320.0 155.8,323.3 155.9,326.3"/>
<polyline class="m413" points="155.7,265.8 155.9,268.6 156.0,271.4 155.7,274.2 156.0,277.1"/>
<polyline class="m413" points="155.1,330.5 155.3,332.9 155.4,335.9"/>
<polyline class="m413" points="155.1,292.3 155.1,294.8 155.1,296.7 155.2,299.1"/>
<polyline class="m415" points="157.6,274.9 157.6,272.0 157.3,269.3 157.3,267.1 157.3,264.5 157.4,262.2 157.3,259.5 157.3,256.8 157.7,254.2"/>
<polyline class="m156" points="157.2,274.1 157.2,276.6 157.5,278.5 157.4,280.2 157.6,282.7 157.8,284.8 157.6,286.8 157.8,288.1 157.9,290.5 158.3,292.6 158.1,294.9 158.1,297.0 158.5,298.8 158.4,301.1 158.2,302.4 158.5,304.5 158.5,307.3 158.9,308.8 158.6,311.2 158.7,312.6 159.2,315.2 159.0,317.3 159.0,319.5 159.3,321.3 156.8,322.8 156.9,325.2 157.2,327.2 157.0,329.0 157.5,331.7"/>
<polyline class="m113" points="159.0,280.2 156.8,283.9 157.0,287.3 157.2,289.7 157.7,292.7 157.6,296.2 157.6,299.9 158.2,302.3 158.3,306.0 158.3,308.9 158.3,312.9 158.5,315.8 158.9,318.6 158.8,321.7 159.1,325.4"/>
<polyline class="m415" points="158.9,269.8 159.0,272.6 158.8,275.4"/>
<polyline class="m415" points="158.6,330.0 158.5,333.3 158.5,336.6 158.4,339.8"/>
<polyline class="m415" points="158.6,280.7 158.6,283.5 158.7,286.2 158.5,288.9 158.6,291.4"/>
<polyline class="m74" points="159.4,266.6 159.5,268.7 159.6,270.4 159.7,272.4 159.7,274.7 160.1,276.7 160.1,279.1 160.1,281.0 160.3,283.0 160.0,284.8 160.0,287.2 160.3,289.1 160.6,291.1 160.7,292.7 160.8,295.5 160.5,297.3 161.0,299.4 160.9,301.5 161.1,303.6 161.0,305.9 160.9,307.7 160.9,309.2 161.1,311.7 161.4,313.7 161.3,315.9 161.5,318.0 161.4,320.3 161.5,322.4 161.9,324.2 159.2,325.7 159.2,327.7 159.5,330.4"/>
<polyline class="m50" points="160.1,272.1 160.0,275.1 160.4,278.5 160.2,282.4 160.7,284.8 160.6,288.7 160.8,291.6 161.0,294.6 161.2,297.9 161.4,301.5 161.3,305.0 161.7,307.9 161.9,311.6 159.7,314.8 159.6,317.2 159.8,320.8 160.1,324.2"/>
<polyline class="m416" points="160.0,267.4 160.0,267.4"/>
<polyline class="m416" points="159.9,327.2 159.9,330.1 159.8,332.8 159.7,335.6"/>
<polyline class="m416" points="161.5,302.3 161.4,305.1 161.5,308.3 161.5,311.3 161.4,314.5"/>
<polyline class="m416" points="161.0,276.5 160.9,274.0 161.1,271.4 160.9,268.5 161.2,265.4"/>
<polyline class="m290" points="162.7,268.1 162.8,270.2 162.9,272.4 163.1,274.7 163.2,276.1 163.0,278.7 163.2,280.7 163.3,282.2 163.4,284.5 163.3,286.5 163.6,288.4 163.5,291.1 163.4,292.8 163.9,294.6 163.9,296.8 163.8,298.9 164.0,301.3 164.1,302.9 164.0,304.9 161.7,307.3 161.9,308.7 162.0,310.5 162.0,312.9 162.1,315.4 162.1,316.5 162.1,319.2 162.5,320.9 162.2,323.1 162.5,324.9 162.3,326.9 162.5,328.6 162.7,330.6 162.6,333.1"/>
<polyline class="m254" points="163.5,274.2 163.4,277.9 163.6,281.4 164.0,284.5 163.9,287.9 161.8,291.4 161.9,294.3 161.8,297.9 162.3,301.2 162.5,304.5 162.5,307.5 162.5,311.0 162.8,313.5 163.0,316.8 163.2,320.7 163.0,323.4 163.5,327.1"/>
<polyline class="m416" points="162.7,267.4 162.8,270.8"/>
<polyline class="m416" points="162.2,330.8 162.2,333.3 162.1,336.4"/>
<polyline class="m416" points="161.2,289.7 161.0,286.8 161.1,284.1 160.8,280.7 161.0,277.4 160.9,274.2 161.0,271.3 161.0,268.0"/>
<polyline class="m151" points="165.4,265.8 165.6,268.2 165.7,270.6 165.8,272.3 166.0,274.2 165.9,276.4 165.9,278.2 165.8,280.8 166.0,282.2 166.3,284.8 166.1,286.6 166.5,289.2 166.2,290.5 166.5,292.8 163.9,294.6 164.5,296.5 164.1,298.6 164.5,301.2 164.5,303.5 164.6,305.1 164.7,306.8 164.8,308.9 164.6,311.2 165.1,313.7 164.7,315.5 165.0,317.1 165.0,319.9 165.4,321.2 165.4,323.7 165.1,325.1 165.5,327.8 165.6,329.8 165.7,332.1"/>
<polyline class="m108" points="165.9,272.3 166.2,275.3 166.1,279.0 166.3,282.7 166.5,285.3 164.3,288.4 164.5,292.1 164.8,295.7 164.9,298.7 164.6,302.3 164.8,305.4 164.9,309.5 165.3,312.2 165.3,315.2 165.6,319.0 165.5,322.7 165.7,325.6"/>
<polyline class="m318" points="165.0,261.8 165.4,264.3 165.0,266.7 165.2,269.1"/>
<polyline class="m318" points="165.4,329.0 165.7,331.4 165.5,334.1 165.6,336.2"/>
<polyline class="m318" points="164.5,288.9 164.4,291.2 164.5,293.2 164.3,295.0 164.5,296.9"/>
<polyline class="m318" points="166.0,323.5 166.0,325.8 166.4,328.1 166.2,330.4 166.3,333.0 166.1,335.9 166.1,338.8 166.1,341.4 166.1,344.2 166.2,347.3 166.4,350.7"/>
<polyline class="m318" points="166.7,275.2 167.0,272.3 167.1,270.1 166.7,267.8 166.8,265.1 167.0,262.3 166.9,259.1 166.8,256.0"/>
<polyline class="m174" points="168.6,274.9 168.5,276.7 168.9,278.1 168.7,280.3 169.0,282.8 166.6,284.9 166.8,286.2 166.9,289.0 166.9,290.8 167.2,293.0 167.2,294.3 167.1,296.3 167.1,298.8 167.2,300.9 167.2,303.0 167.3,304.7 167.5,306.6 167.6,308.7 167.5,311.1 167.8,312.9 167.6,315.2 168.1,316.7 168.2,319.5 168.0,321.1 168.1,323.3 168.3,325.2 168.2,327.2 168.4,329.5 168.6,331.4"/>
<polyline class="m129" points="168.8,280.9 166.6,284.2 166.8,287.7 167.2,290.3 167.1,293.8 167.5,297.3 167.3,301.2 167.9,304.4 168.1,308.0 168.3,311.6 168.2,315.1 168.4,317.8 168.8,321.7 168.8,324.8"/>
<polyline class="m318" points="168.1,270.6 167.8,273.8 167.9,276.6"/>
<polyline class="m318" points="168.2,328.2 168.2,330.8 168.3,333.9 168.3,336.6"/>
<polyline class="m318" points="167.5,282.2 167.5,284.8 167.5,287.9 167.6,290.2"/>
<polyline class="m269" points="170.5,267.2 170.6,268.8 170.8,270.9 171.1,273.2 171.2,275.8 171.2,277.9 171.1,279.4 171.1,281.8 168.9,283.4 169.1,285.6 169.3,288.1 169.3,289.6 169.1,292.0 169.5,294.1 169.5,295.9 169.7,298.6 169.6,299.8 169.5,302.0 169.7,304.5 169.7,306.0 170.2,308.5 169.8,310.5 170.0,312.7 170.4,314.9 170.3,316.5 170.4,318.5 170.6,320.7 170.4,322.7 170.8,324.6 170.7,327.1"/>
<polyline class="m236" points="170.6,273.5 170.6,277.0 171.0,280.5 171.3,283.8 171.4,286.4 169.0,289.8 169.0,294.0 169.3,297.1 169.5,300.1 169.7,303.7 169.8,307.8 169.9,311.1 170.1,314.3 170.2,317.7 170.8,321.1"/>
<polyline class="m319" points="170.9,258.8 171.0,261.8 170.7,264.9 170.8,267.9"/>
<polyline class="m326" points="170.6,326.3 170.2,328.8 170.2,331.2 170.5,334.3"/>
<polyline class="m319" points="170.2,288.7 170.3,291.7 170.2,294.1"/>
<polyline class="m319" points="170.3,272.1 170.4,268.5 170.5,264.5 170.3,260.1 170.3,255.2 170.5,250.1 170.5,244.6 170.5,238.4"/>
<polyline class="m326" points="171.2,324.3 171.3,327.2 171.3,329.5 171.2,332.0 171.4,334.3 171.3,337.0 171.1,339.9 171.1,342.7"/>
<polyline class="m241" points="172.7,266.6 172.8,268.2 173.0,270.4 173.0,272.9 172.8,275.4 173.2,276.9 173.0,279.2 173.5,280.8 173.3,283.0 173.6,285.2 173.7,286.8 173.6,289.5 173.6,291.3 173.8,293.7 171.6,295.7 171.2,297.4 171.7,299.7 171.7,301.4 171.4,303.5 171.6,306.1 171.9,308.2 171.8,309.6 171.7,312.2 171.9,314.4 172.0,316.0 172.3,318.4 172.0,320.2 172.3,322.6 172.6,323.9 172.5,326.9 172.4,329.0 172.9,330.3 172.6,332.5"/>
<polyline class="m194" points="173.2,273.0 173.2,275.8 173.8,279.3 171.4,283.1 171.5,286.0 171.6,289.5 171.7,292.6 171.9,296.3 172.0,299.6 172.2,303.0 172.2,306.5 172.5,309.5 172.6,313.4 173.0,316.0 173.0,319.9 173.1,323.1 173.1,326.5"/>
<polyline class="m326" points="172.4,262.0 172.2,265.4 172.5,268.4"/>
<polyline class="m326" points="172.6,330.3 172.6,333.9 172.7,337.1 172.7,340.6"/>
<polyline class="m326" points="173.3,296.5 173.3,299.1 173.3,302.2"/>
<polyline class="m179" points="176.1,269.6 176.1,271.7 173.5,273.5 173.7,275.6 174.2,277.2 173.8,279.7 173.9,281.6 174.2,283.4 174.5,286.2 174.5,287.5 174.5,289.7 174.4,291.4 174.8,294.5 174.8,295.6 174.9,298.5 174.9,300.1 175.2,302.4 174.8,304.1 175.3,306.4 175.3,307.9 175.5,310.1 175.5,312.0 175.6,314.8 175.5,316.1 175.4,318.1 175.4,320.7 175.9,322.3 175.9,324.5 176.1,326.6 176.0,328.5"/>
<polyline class="m134" points="174.6,275.9 175.1,278.4 175.3,282.3 175.4,285.1 175.6,289.1 175.4,292.5 175.9,295.3 176.1,299.2 174.0,302.8 173.9,305.4 174.3,309.3 174.0,312.8 174.5,316.5 174.8,319.7 174.8,323.2"/>
<polyline class="m417" points="174.1,266.4 174.1,269.3 174.2,271.7"/>
<polyline class="m417" points="174.7,326.7 174.9,328.8 174.9,331.0 174.8,333.3"/>
<polyline class="m417" points="175.7,283.9 175.7,286.2 175.7,288.4 175.8,290.7"/>
<polyline class="m417" points="174.9,273.5 175.1,270.5 175.2,267.6 174.8,264.4"/>
<polyline class="m417" points="175.4,325.9 175.4,328.7 175.8,331.9 175.6,335.3"/>
<polyline class="m91" points="177.1,274.1 177.2,275.4 177.2,277.5 177.2,279.6 177.2,281.4 177.3,283.6 177.4,285.8 177.7,288.4 177.8,289.8 177.7,292.0 177.7,294.2 178.1,295.6 178.2,298.0 178.2,299.6 178.4,302.3 178.2,303.8 178.3,306.4 178.4,308.2 176.3,310.3 176.1,312.4 176.2,314.6 176.6,316.5 176.3,317.9 176.7,320.1 176.9,322.1 176.5,323.8 176.7,326.4 176.9,328.8"/>
<polyline class="m67" points="176.9,279.4 177.0,283.2 177.1,286.0 177.5,289.9 177.5,292.5 178.0,296.6 177.7,299.3 177.9,302.5 178.1,306.4 176.3,308.8 176.2,312.9 176.3,315.8 176.5,318.7 176.8,322.0"/>
<polyline class="m336" points="177.8,267.3 177.7,269.7 177.7,272.1 178.0,274.6 178.0,276.8"/>
<polyline class="m336" points="177.5,325.4 177.3,328.1 177.1,330.7 177.5,333.3"/>
<polyline class="m336" points="177.4,292.3 177.5,294.4 177.4,296.9 177.3,299.4 177.3,301.5 177.5,303.6 177.4,306.2"/>
<polyline class="m77" points="180.8,269.3 180.8,271.9 180.7,273.3 181.0,275.6 178.4,277.6 178.7,280.1 178.6,281.8 178.8,283.8 178.8,285.4 178.9,287.5 179.2,289.8 179.2,292.3 179.2,293.8 179.3,296.1 179.1,297.5 179.2,299.6 179.5,302.3 179.7,304.4 179.4,305.9 179.9,308.5 179.7,309.6 179.8,312.5 179.9,313.8 179.8,316.4 179.9,317.7 180.1,320.3 180.4,322.3 180.5,324.0 180.6,326.1 180.4,328.4 180.7,330.6"/>
<polyline class="m51" points="179.8,275.2 180.3,278.8 180.1,282.5 180.4,285.8 180.6,288.4 180.7,291.6 181.0,295.3 178.7,298.1 178.7,301.9 178.9,304.9 179.2,308.1 179.2,311.4 179.6,315.0 179.3,317.7 179.7,321.5 180.0,324.5"/>
<polyline class="m321" points="178.8,264.4 178.9,267.4 179.0,270.5"/>
<polyline class="m321" points="179.0,328.5 179.3,331.0 179.0,333.4 179.1,336.1"/>
<polyline class="m321" points="180.2,284.8 180.2,287.5 180.2,290.4 180.2,293.2"/>
<polyline class="m321" points="180.0,278.9 179.8,276.4 179.8,273.5 179.8,270.6 180.1,268.2 180.2,265.5 180.1,262.4"/>
<polyline class="m391" points="182.1,271.6 182.1,269.3 181.9,266.5 182.1,264.0 182.2,261.1 182.1,257.9"/>
<polyline class="m52" points="181.7,268.8 181.6,271.0 181.8,273.0 181.7,275.5 181.9,276.9 181.8,278.6 181.8,281.3 182.1,282.9 181.9,285.6 182.2,287.0 182.1,289.6 182.5,291.2 182.6,293.0 182.7,295.0 182.5,298.0 182.6,299.6 183.0,301.3 182.8,303.3 182.8,305.4 183.1,307.5 183.2,310.2 183.1,312.3 183.2,313.8 181.0,316.4 181.0,318.5 181.1,320.1 181.2,322.5 181.1,324.6 181.4,326.6 181.7,328.5"/>
<polyline class="m34" points="183.3,274.4 183.2,278.4 181.0,281.6 181.3,285.4 181.4,288.2 181.5,291.7 181.6,295.1 181.8,298.6 182.2,301.5 182.3,305.5 182.2,309.1 182.7,312.6 182.7,315.4 183.0,318.5 183.2,322.7"/>
<polyline class="m391" points="181.3,260.7 181.6,263.2 181.4,265.5 181.6,267.8 181.4,270.0"/>
<polyline class="m391" points="182.3,327.3 182.6,330.2 182.5,332.4"/>
<polyline class="m81" points="185.4,265.6 185.5,268.0 183.4,270.0 183.6,271.9 183.2,274.3 183.5,276.4 183.4,278.2 183.8,280.5 183.8,282.1 183.9,284.8 184.1,286.5 183.8,288.7 184.0,291.0 184.0,292.8 184.2,294.3 184.4,296.4 184.2,298.6 184.4,300.4 184.5,302.7 184.7,304.8 184.6,307.2 184.7,309.5 185.0,311.7 184.9,312.8 184.8,315.4 185.1,317.2 185.0,319.8 185.4,321.2 185.3,323.0 185.5,325.8 185.4,327.5 185.4,329.9 185.4,332.0"/>
<polyline class="m53" points="184.1,271.8 184.5,275.7 184.8,279.2 184.9,282.3 184.7,285.3 185.3,289.2 185.1,292.0 185.5,295.9 185.4,298.4 185.7,302.1 183.5,305.9 183.6,309.2 183.8,312.7 183.7,316.1 183.9,319.3 184.4,322.4 184.4,325.4"/>
<polyline class="m333" points="184.7,262.8 184.5,265.2 184.6,267.9"/>
<polyline class="m360" points="184.0,331.0 184.1,333.7 183.8,336.4"/>
<polyline class="m360" points="183.7,287.2 183.6,289.3 183.6,291.4"/>
<polyline class="m360" points="185.2,323.9 185.1,326.7 185.0,329.1 184.9,332.1 184.9,335.1 184.9,338.4"/>
<polyline class="m333" points="185.3,274.6 185.4,272.1 185.3,269.8 185.5,267.1 185.3,264.9 185.6,262.5 185.3,259.7 185.3,256.9 185.4,254.6 185.3,252.4 185.6,249.6 185.4,247.3 185.4,244.5 185.5,241.7 185.4,238.8 185.5,236.5 185.2,233.9 185.5,231.5 185.3,229.0 185.5,226.6 185.2,223.7 185.6,221.5 185.3,219.1 185.4,216.4"/>
<polyline class="m19" points="186.9,273.3 187.0,275.6 186.7,277.1 186.9,279.1 186.8,281.5 187.3,282.8 187.3,285.0 187.2,287.6 187.4,289.7 187.4,291.4 187.5,293.3 187.8,295.8 187.9,297.9 187.9,299.9 187.8,301.5 188.1,303.7 188.1,306.3 185.5,307.6 185.6,310.0 185.8,311.6 185.9,314.5 186.1,316.2 186.3,318.2 186.5,320.3 186.4,322.3 186.6,324.4 186.2,326.5 186.6,328.3 186.7,330.4 186.7,332.5"/>
<polyline class="m14" points="187.6,279.4 187.6,282.6 187.8,286.2 187.7,289.7 188.1,292.4 185.8,295.8 186.1,299.7 186.4,303.3 186.5,306.5 186.5,309.9 186.5,313.0 187.1,316.6 187.2,319.8 187.0,323.4 187.3,326.2"/>
<polyline class="m333" points="186.6,264.7 186.8,268.2 186.6,271.5 186.6,275.1"/>
<polyline class="m333" points="186.5,328.9 186.4,326.4"/>
<polyline class="m333" points="188.0,263.0 188.2,259.0 188.0,254.0 187.8,250.0 188.0,239.0 188.3,243.0"/>
<polyline class="m402" points="188.6,322.2 188.8,325.0 188.7,328.4"/>
<polyline class="m316" points="188.9,267.5 189.4,270.1 189.5,271.7 189.5,274.1 189.3,275.8 189.7,278.1 189.8,280.2 189.7,281.9 189.9,284.2 189.7,286.3 190.0,287.8 189.8,289.8 190.3,292.5 190.1,293.9 190.1,295.7 190.6,298.6 190.4,300.4 190.5,302.7 188.1,303.9 188.3,306.7 188.3,308.2 188.5,310.1 188.5,312.7 188.4,314.5 188.9,316.7 188.9,318.1 188.7,319.9 189.0,321.9 189.2,323.9 189.2,326.1 189.0,328.4"/>
<polyline class="m315" points="188.6,273.8 188.7,276.9 189.0,280.1 189.1,283.8 189.1,286.8 189.5,289.8 189.7,293.3 189.9,296.4 189.8,299.4 190.3,303.2 190.3,306.3 190.3,309.3 188.0,312.6 188.2,315.5 188.4,319.5 188.8,322.8"/>
<polyline class="m418" points="188.8,270.4 188.8,270.4"/>
<polyline class="m402" points="189.6,326.4 189.6,326.4"/>
<polyline class="m402" points="189.8,296.7 189.8,298.7 189.9,301.0 189.9,303.3"/>
<polyline class="m418" points="190.1,274.7 189.8,271.6 189.9,268.4"/>
<polyline class="m233" points="192.1,272.5 192.3,274.6 192.4,276.4 192.6,279.0 192.7,280.9 192.5,282.8 193.1,284.8 190.5,286.4 190.4,288.4 190.7,291.1 190.9,292.4 190.7,294.8 190.7,297.3 191.1,299.4 191.0,301.1 191.0,303.1 191.3,304.5 191.2,306.6 191.6,309.4 191.7,311.3 191.7,312.9 191.7,315.0 191.8,316.8 192.1,318.9 191.9,321.2 192.0,322.9 192.1,324.9 192.1,327.7 192.5,329.5"/>
<polyline class="m188" points="192.6,278.3 192.5,281.9 192.9,285.2 190.3,288.3 190.7,291.6 190.9,295.0 191.1,298.0 191.4,301.1 191.4,304.6 191.4,307.0 191.6,310.5 191.7,313.5 192.1,317.3 192.1,320.4 192.2,323.6"/>
<polyline class="m418" points="191.9,270.4 192.0,273.5"/>
<polyline class="m418" points="191.8,328.6 192.1,332.0 191.8,334.7 192.2,337.3"/>
<polyline class="m307" points="193.0,271.4 193.1,273.2 193.4,275.9 193.6,277.3 193.7,279.8 193.5,282.0 193.5,283.7 193.7,285.3 193.9,288.1 194.1,289.4 193.9,291.9 193.9,294.3 194.0,296.4 194.3,298.4 194.4,300.6 194.6,302.3 194.6,303.9 194.7,305.9 194.5,308.1 194.8,310.5 195.0,313.0 195.0,314.8 195.2,316.7 195.4,318.3 195.1,321.3 192.7,323.2 193.0,325.0 193.0,327.0"/>
<polyline class="m289" points="193.3,277.2 193.2,280.2 193.6,284.0 193.7,287.8 193.9,290.7 194.1,293.9 193.9,297.3 194.5,300.7 194.5,304.2 194.9,307.5 194.7,310.8 194.9,313.8 195.1,317.7 192.9,321.3"/>
<polyline class="m393" points="194.7,266.1 194.3,268.2 194.5,270.2 194.4,272.4"/>
<polyline class="m393" points="193.2,324.2 193.3,327.4 193.3,330.4"/>
<polyline class="m393" points="194.3,275.5 194.2,278.0 194.3,280.0 194.2,282.5"/>
<polyline class="m393" points="194.9,275.6 195.1,273.0 194.8,270.4 194.8,267.3 195.0,264.1"/>
<polyline class="m262" points="196.5,272.5 196.5,274.4 196.5,276.6 196.9,278.5 196.9,281.3 197.0,283.1 197.1,285.5 197.4,287.4 197.4,289.3 197.5,291.2 197.7,293.6 197.7,295.3 197.6,297.7 195.4,299.4 195.5,301.6 195.5,303.2 195.4,306.0 195.7,307.6 195.8,309.6 196.0,312.2 196.2,313.5 195.9,315.4 196.2,318.1 196.2,320.4 196.1,322.0 196.3,324.5 196.6,325.8 196.3,328.3 196.8,330.7"/>
<polyline class="m221" points="197.2,278.4 197.4,281.7 197.3,284.9 197.5,289.0 195.3,291.4 195.3,294.9 195.5,298.0 196.1,301.1 196.0,305.1 196.0,308.2 196.3,310.8 196.6,314.3 196.6,317.4 196.9,321.0 197.0,324.7"/>
<polyline class="m393" points="197.2,266.1 196.9,269.3 197.1,272.4 196.9,275.1"/>
<polyline class="m393" points="197.0,329.1 197.0,332.2 196.9,334.9 196.6,337.6"/>
<polyline class="m103" points="198.0,268.0 198.3,270.5 198.2,272.7 198.5,274.5 198.3,276.3 198.8,278.5 198.7,280.6 198.6,282.8 199.0,284.4 198.7,286.6 199.1,288.3 198.8,290.6 199.3,292.6 199.2,294.6 199.3,296.2 199.6,299.2 199.5,300.2 199.3,302.4 199.9,305.2 199.5,306.9 200.0,309.3 199.8,310.9 200.0,312.4 200.1,315.1 197.7,317.4 197.9,319.4 197.8,320.6 198.1,322.5 198.1,324.7 198.3,327.2 198.3,329.5"/>
<polyline class="m70" points="199.3,274.7 199.3,277.9 199.5,281.2 199.7,284.5 199.5,287.7 199.7,290.2 200.0,293.5 197.7,297.2 197.7,300.5 198.3,303.5 198.4,307.3 198.3,310.5 198.7,312.9 198.8,317.0 198.8,320.0 199.0,323.1"/>
<polyline class="m323" points="198.5,260.5 198.5,262.7 198.6,265.3 198.7,267.6 198.5,270.0"/>
<polyline class="m385" points="198.7,327.9 198.6,330.5 198.8,333.2 198.8,335.5"/>
<polyline class="m323" points="198.6,272.9 198.7,275.1 198.7,277.1 198.6,279.4 198.7,281.3"/>
<polyline class="m323" points="199.1,274.1 199.1,271.6 199.2,268.9 199.1,266.1 199.1,263.3 199.0,261.1 198.8,258.2 199.2,255.7 199.1,253.3 198.9,250.3 199.2,247.1 199.2,244.2"/>
<polyline class="m385" points="198.9,322.1 199.0,324.4 199.2,327.4 198.8,329.7 198.9,332.6 199.0,335.5 199.1,338.0 199.1,340.7 198.8,343.3 198.8,346.2 198.8,348.8 199.0,351.7"/>
<polyline class="m228" points="201.9,273.3 201.7,275.6 202.1,277.8 202.0,279.8 202.0,281.9 202.1,283.8 202.1,285.7 202.5,288.5 202.4,289.7 202.5,292.5 200.1,294.5 200.2,295.9 200.2,298.2 200.3,300.7 200.4,302.4 200.6,304.6 200.4,306.6 200.8,309.0 200.6,310.6 201.1,313.0 201.2,314.3 201.2,316.8 201.2,318.7 201.4,321.2 201.2,323.1 201.4,325.4 201.7,327.4 201.5,328.6 201.4,331.1 201.7,332.7"/>
<polyline class="m181" points="201.2,279.7 201.7,283.3 201.7,286.4 201.8,290.1 202.3,292.8 202.4,296.8 202.4,299.7 200.2,303.4 200.5,307.0 200.5,310.0 200.5,313.5 200.8,317.4 201.1,320.8 201.1,323.5 201.3,327.1"/>
<polyline class="m340" points="201.4,265.8 201.5,268.4 201.6,271.0 201.5,273.2 201.7,275.4"/>
<polyline class="m340" points="202.0,330.6 201.7,332.9 202.0,335.8 201.8,338.2 201.8,340.7"/>
<polyline class="m340" points="202.1,280.6 202.2,282.9 202.2,284.9"/>
<polyline class="m287" points="202.4,271.7 202.9,274.5 203.0,275.6 202.8,278.6 202.9,280.1 203.3,282.0 203.2,284.7 203.2,286.6 203.3,288.4 203.6,290.3 203.4,293.0 203.5,294.3 203.8,296.5 203.7,299.0 203.7,300.5 203.8,302.8 204.2,305.0 204.1,307.1 204.2,308.7 204.0,310.8 204.3,313.7 204.4,315.7 204.3,317.7 204.8,319.2 204.8,321.6 204.8,323.3 204.9,325.4 202.8,327.8 202.5,329.9"/>
<polyline class="m250" points="204.4,278.2 204.8,281.2 202.4,284.8 202.8,288.0 203.1,290.9 202.9,294.6 203.1,298.0 203.5,300.6 203.6,304.4 203.7,307.8 203.9,311.1 204.1,313.4 204.5,317.5 204.4,320.0 204.4,324.1"/>
<polyline class="m323" points="203.2,267.1 203.2,270.0 203.1,273.1"/>
<polyline class="m323" points="204.0,328.5 204.2,330.8 204.0,333.4 204.0,335.7 204.1,338.0"/>
<polyline class="m384" points="203.4,354.0 203.4,357.5 203.8,361.7 203.6,365.3 203.5,369.0 203.5,372.3 206.1,356.0 205.9,359.7 206.0,362.9 206.0,365.9 206.0,369.3"/>
<polyline class="m383" points="205.2,377.0 205.4,379.6 205.3,382.2 205.5,385.0 205.4,387.4 205.0,390.1 205.1,393.1"/>
<polyline class="m383" points="203.3,404.5 203.3,415.8 203.3,422.5"/>
<polyline class="m384" points="203.3,398.3 203.3,412.2 203.3,426.3 203.3,440.3 203.3,452.5 203.3,462.0 203.3,467.0 203.3,469.0"/>
<polyline class="m411" points="203.2,305.0 203.2,308.3 203.3,311.9 203.3,315.5 203.4,319.1 203.2,322.7"/>
<polyline class="m261" points="205.1,273.9 205.0,276.0 205.5,278.1 205.5,279.5 205.5,282.4 205.6,284.2 205.5,286.0 205.9,287.8 205.6,290.0 206.1,292.2 206.2,293.6 206.0,295.8 206.3,297.8 206.4,300.5 206.6,302.1 206.6,304.4 206.5,306.7 206.5,308.4 206.9,310.1 206.8,312.5 206.9,314.1 207.0,316.2 207.1,318.2 207.4,320.7 205.0,322.9 205.2,325.0 205.1,326.3"/>
<polyline class="m215" points="204.9,280.1 205.0,283.3 205.2,286.9 205.5,289.7 205.7,292.9 206.2,296.8 206.1,300.5 206.6,303.9 206.7,307.4 206.8,310.9 206.9,314.3 207.2,317.0 204.8,320.7"/>
<polyline class="m385" points="206.2,265.0 206.4,268.1 206.1,271.6 206.4,274.7"/>
<polyline class="m385" points="205.5,324.0 205.5,326.2 205.3,328.8 205.3,330.9"/>
<polyline class="m306" points="208.2,271.4 208.2,273.4 208.4,274.9 208.1,277.7 208.5,279.4 208.4,280.9 208.4,283.1 208.5,285.7 208.6,286.9 209.0,289.7 209.0,291.7 209.1,293.8 208.8,295.9 209.3,297.7 209.3,299.6 209.4,301.2 209.1,303.9 209.2,305.8 209.7,307.2 209.8,309.7 209.8,311.6 207.3,313.3 207.5,315.9 207.7,317.9 207.6,320.0 207.5,321.8 207.9,323.7 207.8,325.9 207.9,328.2 208.2,329.9"/>
<polyline class="m282" points="209.4,277.5 209.5,280.2 209.8,284.2 207.2,287.0 207.5,290.0 207.6,293.7 207.7,296.7 207.9,300.4 208.1,303.4 208.6,307.3 208.6,310.5 208.7,313.4 209.1,316.6 208.8,320.8 209.2,323.7"/>
<polyline class="m385" points="207.8,265.9 207.8,268.8 208.1,271.7"/>
<polyline class="m385" points="207.9,326.8 207.7,329.1 207.9,331.4 208.0,333.6"/>
<polyline class="m385" points="208.8,329.5 208.6,332.3 208.8,335.1 208.6,337.6 208.7,340.0 208.6,342.8 208.7,345.2 208.8,348.0 208.6,350.7 208.8,353.4"/>
<polyline class="m324" points="204.2,349.3 204.5,343.9 204.6,337.7 204.7,333.0 204.7,327.1 204.2,321.6 204.6,315.2 204.7,309.3 204.8,303.2 204.7,297.0 204.4,291.1 204.4,285.3 204.6,278.9 204.5,273.5 204.1,268.3 204.3,262.6 204.9,256.5 204.7,251.3 204.2,244.9 204.2,239.0 204.1,233.7 204.6,227.7 204.7,222.1 204.9,216.0"/>
<polyline class="m253" points="211.4,273.4 211.5,276.2 211.2,277.5 211.4,279.4 211.4,281.7 211.4,284.3 211.7,286.1 211.9,287.8 211.7,290.0 211.8,292.2 212.0,294.6 209.6,296.6 209.8,298.0 209.9,300.5 209.8,302.1 210.2,304.8 210.2,307.1 210.3,308.9 210.6,311.1 210.3,313.1 210.7,314.9 210.8,317.1 210.6,318.7 210.6,320.9 210.7,323.8 210.8,324.9 211.1,326.9 211.1,329.5 211.1,332.0"/>
<polyline class="m208" points="211.4,280.1 211.7,283.4 211.8,286.1 209.6,289.7 210.1,292.4 210.1,296.3 210.4,299.2 210.3,302.7 210.8,306.2 210.8,309.2 211.0,312.7 211.1,316.1 211.4,318.5 211.4,321.8 211.8,325.0"/>
<polyline class="m386" points="211.5,274.4 211.5,274.4"/>
<polyline class="m386" points="211.3,330.9 211.2,333.2 211.4,335.5 211.0,337.9 211.0,340.5"/>
<polyline class="m386" points="211.6,278.9 211.4,275.8 211.3,272.4"/>
<polyline class="m11" points="214.5,274.7 211.9,277.4 212.1,278.7 212.3,280.6 212.4,283.1 212.3,284.7 212.8,287.1 212.5,289.4 212.7,290.8 212.8,292.8 212.8,295.0 212.9,297.3 213.1,299.3 213.4,300.9 213.2,302.7 213.2,305.5 213.3,306.9 213.6,308.8 213.8,311.0 214.0,313.4 213.8,315.1 214.2,316.8 213.8,319.6 214.2,321.3 214.5,323.4 214.5,325.5 214.5,327.7"/>
<polyline class="m5" points="214.2,280.9 214.1,283.8 214.7,287.6 212.5,291.5 212.4,294.2 212.8,298.2 213.0,300.7 213.1,304.5 213.1,307.6 213.6,311.4 213.5,314.2 213.8,317.5 214.3,320.9"/>
<polyline class="m388" points="212.5,274.4 212.5,277.5"/>
<polyline class="m388" points="213.1,326.9 213.3,329.4 213.4,331.9"/>
<polyline class="m388" points="214.1,305.8 214.1,308.9 214.2,311.5"/>
<polyline class="m388" points="214.5,327.6 214.6,330.1 214.5,332.4 214.7,335.2 214.5,338.0 214.3,340.8 214.4,343.6 214.3,346.3 214.7,348.9 214.4,351.7"/>
<polyline class="m20" points="215.2,269.6 215.1,271.9 215.1,273.9 215.3,275.7 215.1,278.2 215.3,280.3 215.4,281.7 215.5,283.6 215.4,285.7 215.7,288.7 215.6,290.8 216.0,292.8 216.0,294.4 216.1,296.3 216.2,298.2 216.2,300.6 216.3,302.9 216.5,304.3 216.4,306.7 216.7,309.0 216.9,310.6 216.6,313.4 216.6,314.7 214.6,317.1 214.4,319.3 214.6,321.3 214.7,323.2 214.9,325.6 214.8,327.0"/>
<polyline class="m15" points="215.0,275.7 215.3,279.3 215.2,281.8 215.6,285.9 215.7,289.1 215.8,291.7 216.3,295.0 216.4,298.6 216.3,302.3 216.9,305.5 216.6,308.7 214.8,312.0 214.5,314.9 215.0,318.4 215.2,321.0"/>
<polyline class="m388" points="216.1,263.8 216.2,266.5 216.1,269.8"/>
<polyline class="m388" points="215.3,326.2 215.1,329.0 215.2,331.7"/>
<polyline class="m388" points="215.7,311.4 215.8,313.8 215.7,317.1 215.6,320.1 215.7,323.3"/>
<polyline class="m388" points="216.5,326.3 216.5,329.0 216.5,331.9 216.7,334.7 216.6,337.1 216.4,340.1 216.6,343.0 216.3,345.5 216.4,348.4 216.3,351.3 216.7,354.1"/>
<polyline class="m387" points="217.5,275.9 217.3,273.2 217.4,270.7 217.5,268.3 217.6,265.5 217.7,262.9 217.5,259.6 217.6,256.4"/>
<polyline class="m146" points="217.7,269.0 217.7,271.1 217.8,273.2 217.7,275.0 217.9,277.0 218.2,278.9 218.0,281.0 218.2,283.3 218.5,284.9 218.4,287.6 218.3,288.8 218.6,291.6 218.6,293.5 218.8,295.1 218.7,297.8 218.7,299.5 218.8,301.2 218.9,303.4 219.2,305.2 218.8,307.0 219.1,309.3 219.3,311.5 217.2,313.1 216.7,315.3 217.0,317.8 216.9,319.8 217.2,320.9 217.2,323.9 217.5,325.6 217.6,327.7 217.4,329.1 217.8,331.6 217.7,333.6"/>
<polyline class="m101" points="218.0,275.4 218.1,278.6 218.7,282.1 218.7,285.1 218.9,287.9 218.9,291.8 219.1,294.8 219.4,298.3 217.1,300.9 217.0,304.3 217.3,307.6 217.6,310.9 217.6,314.3 218.0,317.4 218.2,320.6 218.1,324.5 218.5,327.5"/>
<polyline class="m387" points="218.7,264.8 218.9,268.3 218.9,271.1"/>
<polyline class="m387" points="218.1,332.1 217.9,334.1 217.8,336.4 217.8,338.9 218.1,341.0"/>
<polyline class="m387" points="218.3,312.8 218.3,315.4 218.5,318.4 218.4,321.2 218.4,324.4"/>
<polyline class="m245" points="219.9,275.0 220.4,277.2 220.1,278.7 220.5,280.5 220.3,283.0 220.7,284.7 220.4,286.9 220.7,289.1 220.6,290.9 220.6,292.7 221.0,295.4 221.1,297.5 221.2,299.7 221.3,301.4 221.3,303.7 221.1,304.9 221.4,307.4 221.8,309.1 221.5,311.0 221.5,313.3 219.1,315.8 219.6,317.4 219.4,319.3 219.5,321.8 219.5,323.6 219.9,326.1 219.8,327.3 219.8,330.2 220.2,331.5 220.3,334.2"/>
<polyline class="m202" points="221.2,281.2 221.1,284.5 221.3,287.3 221.4,290.6 219.4,294.8 219.5,297.2 219.9,301.5 219.7,304.5 219.8,307.8 220.4,311.4 220.4,314.1 220.8,317.9 220.6,321.5 221.1,324.9 220.8,327.6"/>
<polyline class="m390" points="220.3,268.4 220.4,271.5 220.4,274.8 220.7,277.8"/>
<polyline class="m390" points="221.2,331.6 221.1,334.2 220.9,336.6 220.9,339.2 221.0,341.7"/>
<polyline class="m390" points="221.2,325.9 221.1,328.2 221.0,331.0 221.2,333.5 221.2,336.1 220.9,339.1 220.9,341.9 221.1,344.7 220.9,347.4 220.8,350.7"/>
<polyline class="m245" points="222.4,270.2 222.2,272.7 222.2,274.9 222.5,277.1 222.6,279.0 222.6,281.3 222.4,283.2 222.7,285.3 222.6,287.2 222.8,289.1 222.8,291.0 223.1,293.6 223.2,295.7 223.0,297.9 223.4,299.7 223.3,302.0 223.4,304.1 223.6,306.0 223.6,307.8 223.7,309.7 223.6,312.0 223.8,314.5 223.9,315.7 224.0,318.3 221.6,320.1 222.0,322.2 221.7,324.2 222.2,326.1 222.0,328.0 222.0,330.9"/>
<polyline class="m202" points="224.2,276.5 221.6,280.4 221.8,283.7 222.2,287.1 222.1,290.4 222.2,293.3 222.6,297.1 222.8,300.3 223.1,304.2 222.9,307.9 223.4,311.1 223.5,314.5 223.6,318.0 224.0,320.8 224.0,324.9"/>
<polyline class="m390" points="222.5,267.4 222.5,270.2 222.4,273.2"/>
<polyline class="m390" points="222.6,330.0 222.6,331.9 222.5,334.3 222.6,336.8"/>
<polyline class="m390" points="223.1,273.6 223.2,270.8 222.8,267.8 223.1,264.7 223.0,261.2 222.9,257.6 222.8,253.9 223.0,249.9 223.0,246.4"/>
<polyline class="m200" points="226.4,274.5 226.0,276.7 226.3,278.4 226.3,280.3 226.3,282.1 224.4,284.6 224.0,286.4 224.2,288.3 224.6,290.6 224.7,292.8 224.7,294.9 224.6,296.4 224.6,298.9 225.1,300.6 225.1,302.6 225.0,304.6 225.2,306.8 225.0,308.3 225.4,311.1 225.3,312.4 225.8,315.2 225.6,316.7 225.8,318.7 226.0,321.1 225.7,323.2 225.7,325.2 226.0,326.7 226.3,329.2"/>
<polyline class="m149" points="224.1,280.4 224.6,283.0 224.7,286.7 224.7,289.9 225.3,293.8 225.1,296.5 225.4,299.5 225.5,302.9 226.0,306.9 226.2,309.3 226.1,312.9 226.4,316.8 224.2,319.6 224.3,322.7"/>
<polyline class="m416" points="224.5,268.7 224.4,271.0 224.6,273.0 224.5,275.4"/>
<polyline class="m416" points="225.7,326.1 225.8,328.8 225.7,331.2 225.6,333.7"/>
<polyline class="m416" points="225.2,326.5 225.2,328.8 225.6,331.0 225.3,333.4 225.3,335.8 225.4,338.4 225.2,341.2 225.2,343.9 225.5,346.7 225.5,349.4 225.3,352.7"/>
<polyline class="m320" points="227.0,275.8 227.0,272.9 227.0,270.4 226.8,268.0 226.9,265.4 227.1,262.4"/>
<polyline class="m178" points="226.8,267.3 227.0,269.4 226.8,271.6 227.1,273.9 226.9,275.0 227.1,277.4 227.0,279.3 227.1,281.4 227.1,284.1 227.6,285.5 227.4,287.6 227.5,289.6 227.5,291.6 227.6,294.2 227.7,295.7 227.7,298.2 228.0,300.3 227.7,301.7 228.2,304.1 228.1,305.8 228.1,308.2 228.0,310.1 228.4,312.1 228.5,314.8 228.5,316.9 228.4,318.5 228.7,320.3 228.6,322.4 228.7,325.1 228.9,326.9 228.9,329.2 226.7,331.1 226.9,333.3 226.8,335.2"/>
<polyline class="m133" points="228.1,273.4 228.1,277.0 228.3,279.5 228.3,283.3 228.7,286.2 228.9,289.6 229.1,292.5 226.5,296.2 226.7,299.1 227.1,302.2 227.0,305.6 227.4,309.7 227.2,312.0 227.2,316.0 227.6,319.2 227.5,322.2 227.7,325.4 228.0,328.4"/>
<polyline class="m320" points="227.9,264.4 228.2,267.1 228.0,269.8"/>
<polyline class="m320" points="228.4,332.7 228.1,335.0 228.1,337.2 228.3,339.7"/>
<polyline class="m275" points="229.7,270.1 229.4,271.6 229.6,274.3 229.7,276.0 230.0,277.7 230.0,279.6 230.1,281.8 230.0,283.7 230.1,285.8 230.6,287.7 230.3,290.1 230.6,292.6 230.5,294.6 230.6,295.8 230.7,297.9 230.9,300.5 231.0,301.8 231.0,304.2 231.0,306.7 231.2,308.7 231.5,310.5 228.9,312.7 229.2,315.0 229.4,316.9 229.3,318.5 229.1,320.6 229.5,322.3 229.4,324.6 229.3,326.6"/>
<polyline class="m267" points="230.3,276.0 230.5,278.9 230.7,282.6 230.6,285.3 230.8,289.0 231.2,291.6 231.3,295.4 229.1,298.2 229.3,301.6 229.2,305.1 229.7,307.5 229.5,311.5 229.7,314.4 230.1,317.6 230.5,320.9"/>
<polyline class="m401" points="229.9,263.5 230.3,266.1 230.0,268.7 230.0,271.1"/>
<polyline class="m401" points="230.7,323.8 230.8,325.8 230.7,327.8 230.7,330.1 230.9,332.1 230.9,334.5"/>
<polyline class="m401" points="229.9,275.7 229.8,277.8 229.8,279.8 229.8,282.1"/>
<polyline class="m334" points="232.2,276.8 232.0,274.1 231.9,271.8 232.1,268.9 232.0,266.5 232.2,263.8 231.9,261.0 231.9,257.9"/>
<polyline class="m264" points="232.6,271.7 232.5,274.3 232.5,276.1 232.8,278.6 233.0,280.3 233.0,282.5 232.7,284.1 233.0,286.6 233.2,287.8 233.3,290.4 233.5,291.7 233.4,294.2 233.4,295.9 233.4,298.3 233.8,300.3 231.5,302.5 231.4,304.0 231.5,305.8 231.6,308.7 231.5,309.9 231.8,312.6 231.8,314.5 231.7,316.6 232.2,318.4 231.9,320.4 232.4,322.3 232.2,324.4 232.2,326.5"/>
<polyline class="m229" points="233.4,277.7 233.5,281.0 233.7,284.3 231.3,287.4 231.6,290.9 231.5,294.0 232.0,297.1 232.1,300.7 232.4,304.1 232.3,307.2 232.4,310.1 232.8,313.6 233.1,316.7 233.3,319.7"/>
<polyline class="m334" points="232.5,263.2 232.7,265.5 232.5,268.1 232.6,270.7 232.6,273.1"/>
<polyline class="m392" points="232.9,323.9 232.9,326.8 232.9,329.8 232.9,332.8"/>
<polyline class="m392" points="232.6,326.4 232.3,328.8 232.6,331.4 232.5,333.6 232.6,336.2 232.6,338.7 232.4,341.6 232.7,344.0 232.7,346.2 232.4,349.0 232.5,351.8 232.4,354.1 232.6,356.3 232.7,359.1 232.7,362.1 232.6,364.9 232.4,367.4 232.5,370.3 232.6,372.7 232.4,375.6 232.4,378.6 232.5,381.9 232.5,384.7"/>
<polyline class="m392" points="233.9,324.4 233.7,327.0 233.7,329.3 233.9,331.6 234.0,333.9 233.7,336.5 233.7,339.2 233.6,341.8 233.7,344.5 233.8,347.2 233.8,349.8 233.9,352.6 233.7,354.9 233.9,357.7 233.9,360.7 233.9,363.1 233.5,365.7 233.7,368.4"/>
<polyline class="m262" points="235.8,273.3 236.1,275.5 233.8,277.8 233.9,279.7 233.8,282.2 234.0,283.9 234.0,286.6 234.3,288.3 234.3,290.6 234.1,292.4 234.5,294.0 234.4,296.9 234.7,298.2 234.8,300.8 235.0,302.5 234.9,305.1 235.0,307.1 234.8,308.9 235.2,311.2 235.0,312.8 235.1,315.1 235.4,317.0 235.6,319.3 235.6,321.0 235.4,322.8 235.8,325.1 235.6,327.5 235.9,329.2 236.1,331.7 236.1,333.2"/>
<polyline class="m221" points="234.0,279.6 234.2,283.3 234.6,287.1 234.4,290.0 234.8,293.6 235.0,296.9 234.8,299.8 235.1,303.7 235.5,307.2 235.5,310.1 235.6,313.8 235.8,317.6 236.1,320.3 233.8,324.3 234.0,327.6"/>
<polyline class="m393" points="234.1,267.2 234.1,269.8 234.3,272.9 234.1,275.7"/>
<polyline class="m392" points="234.7,333.5 235.0,336.4 234.8,339.4 234.8,342.2"/>
<polyline class="m393" points="234.7,289.0 234.7,291.0 234.8,293.1 234.7,295.3 234.7,297.4"/>
<polyline class="m393" points="236.1,273.5 236.1,271.0 236.0,268.2 236.0,265.6 235.8,262.8 235.8,260.0 236.0,257.4 235.8,254.5 235.8,251.8 236.1,249.0 235.9,246.2 236.1,243.0 236.0,240.4"/>
<polyline class="m141" points="237.0,271.6 237.0,273.6 237.3,275.6 237.3,277.4 237.5,279.5 237.4,281.3 237.5,284.0 237.8,285.3 237.8,287.6 237.8,290.3 238.0,291.6 238.0,294.1 238.0,295.8 238.2,298.5 238.4,300.1 238.3,302.0 238.1,304.3 238.2,306.2 238.5,308.2 236.0,310.4 236.0,312.3 236.3,314.4 236.5,316.7 236.7,318.7 236.7,320.4 236.4,322.9 236.5,324.5 236.8,327.1 236.8,328.3 236.8,330.7 237.1,333.0 236.8,334.6"/>
<polyline class="m98" points="238.0,277.0 238.3,280.9 238.4,283.6 238.5,287.4 236.3,290.2 236.5,293.6 236.6,296.7 236.5,299.6 236.5,303.2 237.0,305.9 237.2,309.4 237.4,312.9 237.4,315.7 237.4,318.9 237.7,322.7 237.8,325.5 237.7,328.6"/>
<polyline class="m399" points="237.6,267.7 237.5,270.3 237.7,272.8"/>
<polyline class="m399" points="237.8,334.1 237.5,336.4 237.5,339.0"/>
<polyline class="m399" points="237.1,292.8 237.1,295.8 237.1,298.4"/>
<polyline class="m393" points="239.4,229.6 239.3,227.0 239.5,224.5 239.5,222.0 239.2,219.4 239.2,216.8 239.3,214.2"/>
<polyline class="m393" points="239.4,238.0 239.4,238.0"/>
<polyline class="m238" points="238.5,270.8 238.8,272.1 238.9,275.0 238.9,277.0 239.0,278.5 239.2,280.3 239.4,283.1 239.2,284.4 239.5,286.5 239.3,288.4 239.7,290.7 239.4,293.1 239.7,294.5 239.9,297.4 239.6,299.2 239.8,301.0 239.7,303.4 240.2,305.6 240.1,307.5 240.0,309.5 240.0,311.4 240.4,312.9 240.2,315.5 240.5,317.3 240.4,319.1 240.8,321.5 240.9,323.1 240.8,325.2 238.4,327.4 238.5,329.9 238.8,331.3"/>
<polyline class="m190" points="239.5,276.1 239.4,279.3 239.6,283.4 240.2,286.4 240.3,289.6 240.1,292.5 240.3,296.3 240.3,298.9 240.5,302.9 240.9,306.1 238.7,309.4 239.0,312.2 238.8,316.2 239.1,318.6 239.4,322.4 239.4,325.6"/>
<polyline class="m393" points="239.7,263.9 239.7,267.1 239.8,269.9 239.9,273.1"/>
<polyline class="m394" points="239.0,328.5 239.2,330.7 239.1,332.7 239.2,334.7 239.3,337.3 239.2,339.4"/>
<polyline class="m394" points="240.6,327.4 240.5,329.7 240.7,332.2 240.6,334.5 240.7,337.4 240.4,340.2 240.8,342.5 240.4,345.5 240.8,347.9 240.7,350.7 240.7,353.6 240.7,356.6 240.5,359.4 240.6,362.0 240.6,365.2 240.7,367.9 240.5,371.4 240.5,374.9 240.7,378.4"/>
<polyline class="m305" points="241.0,272.6 240.9,269.9 240.9,267.1 241.1,264.1 241.1,261.8 240.9,259.5 241.0,257.2 241.0,254.8 241.0,252.5 241.0,250.0 240.8,247.3 240.9,244.2"/>
<polyline class="m395" points="241.2,353.0 241.2,362.5 241.2,370.0 241.2,373.0"/>
<polyline class="m395" points="242.0,247.5 241.8,250.2 241.9,252.6 241.8,255.8 241.8,258.4"/>
<polyline class="m173" points="241.5,266.8 241.8,268.8 241.9,270.7 242.1,273.3 241.7,274.7 241.9,276.7 241.9,279.3 242.3,281.3 242.0,283.6 242.1,285.6 242.3,287.3 242.3,289.7 242.6,291.4 242.7,293.7 242.7,295.1 242.9,297.9 242.6,299.4 242.7,301.8 243.1,304.0 242.8,306.1 243.1,307.8 243.2,309.9 242.9,312.0 243.3,314.0 240.8,316.7 241.2,318.4 240.9,320.4 241.3,322.5 241.1,324.3 241.4,326.6 241.4,328.7 241.6,330.7 241.6,332.3 241.7,335.1"/>
<polyline class="m127" points="241.7,272.5 242.2,276.2 241.9,279.1 242.3,282.4 242.3,285.8 242.7,289.2 242.7,292.2 242.6,296.3 242.8,298.6 242.9,302.6 243.4,305.2 241.1,308.9 240.9,312.8 241.5,315.8 241.4,319.0 241.4,322.1 241.7,325.6 241.6,328.8"/>
<polyline class="m305" points="241.8,262.8 241.4,265.6 241.4,268.3"/>
<polyline class="m305" points="242.1,332.9 242.1,335.9 242.0,339.3 241.9,342.4"/>
<polyline class="m99" points="244.8,271.4 244.7,273.2 244.9,275.7 245.2,277.9 245.2,279.4 245.0,281.6 245.3,283.1 245.1,285.5 245.5,287.6 245.6,290.0 245.7,291.2 245.5,293.5 243.5,295.3 243.4,297.2 243.2,300.1 243.4,301.6 243.4,303.8 244.0,306.1 244.0,307.6 244.1,309.8 244.2,312.1 244.2,313.4 244.1,315.6 244.2,317.3 244.3,320.2 244.2,321.3 244.5,323.7 244.4,325.6 244.7,328.1 244.7,329.4"/>
<polyline class="m75" points="244.4,277.9 244.9,281.1 245.0,284.0 244.8,288.0 245.0,290.5 245.6,293.7 245.8,297.8 243.5,301.2 243.4,304.4 243.6,307.6 243.7,310.3 243.8,313.8 244.1,317.5 244.3,320.2 244.5,323.9"/>
<polyline class="m345" points="244.4,268.4 244.1,270.8 244.2,273.5"/>
<polyline class="m345" points="244.5,328.2 244.3,330.7 244.4,333.4"/>
<polyline class="m345" points="245.9,275.1 246.0,272.2 245.9,269.1 245.8,266.4"/>
<polyline class="m219" points="246.9,270.6 246.9,271.7 247.2,274.3 247.3,276.0 247.4,278.3 247.3,279.7 247.6,282.5 247.7,284.4 247.6,286.4 247.8,288.2 247.8,290.2 247.6,292.6 248.1,294.4 247.8,296.6 248.2,298.4 245.9,299.9 245.6,302.2 246.1,304.2 246.0,306.7 246.3,307.9 246.4,310.3 246.5,311.9 246.3,313.9 246.5,316.8 246.5,318.7 246.5,320.6 246.8,322.1 246.8,324.7 246.9,326.8"/>
<polyline class="m165" points="245.6,275.9 246.1,279.6 246.1,283.3 246.1,286.2 246.3,290.2 246.8,293.5 246.8,296.7 246.9,299.7 247.5,303.6 247.3,306.7 247.4,310.4 247.8,313.8 247.9,316.7 245.9,320.8"/>
<polyline class="m345" points="246.8,268.4 246.7,270.8"/>
<polyline class="m345" points="247.7,324.6 247.6,326.7 247.5,328.7 247.5,330.8 247.5,333.1"/>
<polyline class="m345" points="247.4,279.3 247.3,282.3 247.3,285.2 247.3,288.4 247.3,291.2"/>
<polyline class="m396" points="248.9,326.9 248.6,329.5 248.6,331.9 248.7,334.3 248.6,336.9 248.7,339.2 248.7,341.7 248.8,344.1 248.6,347.1 248.7,350.0 248.6,352.5 248.6,355.4 248.7,357.8 248.7,360.4 248.7,363.6 248.9,366.7"/>
<polyline class="m154" points="249.0,274.9 248.9,277.4 249.1,279.1 249.4,281.5 249.5,283.0 249.8,285.2 249.6,287.3 249.6,289.5 249.7,291.7 250.0,293.3 249.9,295.6 250.0,297.1 250.1,299.8 250.1,302.0 250.3,303.7 250.5,305.8 250.3,307.7 248.3,310.1 248.0,311.7 248.1,313.8 248.5,315.5 248.2,317.6 248.3,319.6 248.5,322.3 248.8,324.3 248.6,326.6 249.0,328.7 249.0,330.0 249.1,332.6 249.1,334.0"/>
<polyline class="m112" points="249.5,280.9 250.1,284.4 249.8,287.6 250.4,291.0 250.4,294.1 248.3,298.1 248.3,300.9 248.3,304.9 248.6,308.0 248.6,311.6 249.2,314.7 249.0,317.8 249.3,321.8 249.7,324.7 249.7,328.3"/>
<polyline class="m396" points="249.0,272.4 249.1,274.8 249.0,277.5"/>
<polyline class="m396" points="248.6,332.1 248.7,334.6 248.3,337.1 248.7,340.1 248.6,342.4"/>
<polyline class="m396" points="249.0,296.7 249.0,298.5 249.0,300.5 249.0,302.9 248.9,305.1 248.9,307.3"/>
<polyline class="m280" points="251.5,267.2 251.7,269.5 251.9,271.6 252.0,273.3 252.2,275.0 252.0,277.2 251.9,279.8 252.4,281.4 252.3,284.0 252.5,285.8 252.5,287.1 252.3,289.5 252.3,291.2 252.8,293.7 252.7,295.8 252.6,297.5 252.7,299.3 250.4,301.6 250.6,303.3 250.5,305.8 250.6,308.0 250.8,309.6 250.9,311.9 250.8,313.5 251.1,316.1 251.0,318.3 251.2,320.1 251.1,322.0 251.6,324.2 251.5,325.8 251.4,328.0 251.6,329.8"/>
<polyline class="m243" points="252.7,273.8 250.4,277.1 250.6,279.8 251.1,283.2 251.0,287.2 251.3,290.3 251.2,293.5 251.3,296.8 251.7,300.4 251.7,304.1 252.0,307.3 252.1,310.9 252.2,313.7 252.6,317.0 252.5,320.7 252.9,323.5"/>
<polyline class="m398" points="252.1,272.4 252.1,272.4"/>
<polyline class="m398" points="250.7,327.6 250.8,330.1 250.7,332.7 250.9,335.5"/>
<polyline class="m398" points="251.9,273.8 252.0,270.4"/>
<polyline class="m232" points="255.3,274.7 252.9,277.2 252.8,278.5 253.0,280.6 253.2,282.4 253.2,284.6 253.2,286.8 253.6,288.9 253.8,291.2 253.8,292.6 253.5,295.3 253.8,296.6 253.8,299.2 253.9,300.8 254.2,303.1 254.1,305.5 254.2,306.6 254.3,308.8 254.5,310.9 254.5,312.6 254.9,315.3 254.6,316.9 254.8,319.1 255.0,321.0 255.1,323.4 255.2,324.9 255.1,327.1"/>
<polyline class="m187" points="253.4,281.2 253.8,284.2 253.6,287.2 253.8,290.4 254.2,294.3 254.4,297.5 254.7,300.6 255.0,304.0 255.0,308.3 255.2,311.4 253.0,314.1 253.5,318.0 253.3,321.2"/>
<polyline class="m398" points="253.8,272.4 254.0,275.0 253.7,277.6"/>
<polyline class="m398" points="253.6,326.3 253.5,329.5 253.7,332.4 253.6,335.7"/>
<polyline class="m192" points="256.2,269.3 256.1,271.4 256.1,273.2 256.0,275.5 256.5,277.3 256.5,279.5 256.5,281.2 256.5,283.3 256.7,285.9 256.7,287.4 256.7,289.5 257.0,291.7 256.9,294.0 257.0,296.3 257.0,298.3 257.1,300.1 257.4,302.5 257.3,303.9 257.4,306.5 257.6,308.2 255.5,310.1 255.4,312.3 255.3,314.4 255.6,315.9 255.6,318.8 255.6,320.4 255.6,322.9 256.1,324.5 256.1,326.4"/>
<polyline class="m142" points="257.3,275.8 257.2,278.8 257.4,281.7 257.8,284.8 255.6,288.7 255.8,291.4 255.8,295.2 256.0,298.2 255.9,301.4 256.1,304.8 256.3,307.2 256.9,311.3 256.9,313.9 257.0,317.1 257.3,320.3"/>
<polyline class="m400" points="255.9,264.0 256.2,266.2 256.2,268.6 256.2,270.6"/>
<polyline class="m400" points="255.8,324.2 255.8,327.3 255.8,330.2 256.0,333.5"/>
<polyline class="m400" points="257.3,325.3 257.6,327.8 257.4,330.2 257.5,332.7 257.7,335.3 257.7,338.0 257.3,340.9 257.7,343.3 257.4,345.8 257.6,348.7 257.4,351.1 257.4,353.7 257.4,356.3 257.4,358.9 257.6,362.2"/>
<polyline class="m259" points="259.1,270.4 259.2,272.5 259.1,274.3 259.3,276.3 259.0,278.3 259.3,281.2 259.4,282.3 259.5,285.2 259.6,286.6 259.8,289.3 259.6,291.0 259.8,292.4 259.9,295.3 260.1,297.3 259.9,299.4 259.8,301.2 257.8,303.1 257.8,305.4 258.1,306.8 257.8,309.5 257.9,310.8 258.0,313.4 258.0,315.4 258.4,317.7 258.1,319.6 258.3,321.1 258.7,323.3 258.4,325.1 258.8,327.4 258.6,329.0 259.1,331.2 258.9,333.8"/>
<polyline class="m217" points="258.1,277.2 258.1,280.6 258.3,283.5 258.8,286.8 258.9,290.3 258.8,293.6 259.2,296.8 259.2,300.7 259.6,303.5 259.4,307.5 259.6,310.1 259.9,314.0 259.9,317.6 257.8,320.6 258.0,323.7 258.2,327.5"/>
<polyline class="m400" points="259.4,268.0 259.5,270.7"/>
<polyline class="m400" points="258.8,331.7 258.6,334.4 258.4,337.1"/>
<polyline class="m400" points="259.6,282.4 259.5,285.3 259.5,287.8 259.5,290.5 259.6,293.2"/>
<polyline class="m400" points="260.2,272.3 259.9,269.3 259.8,266.0"/>
<polyline class="m339" points="261.2,327.2 261.1,329.8 261.0,332.7 261.3,335.3 261.5,338.1 261.4,341.4 261.3,344.7"/>
<polyline class="m297" points="261.7,266.4 261.5,268.2 261.7,270.6 262.1,272.5 262.0,274.4 262.1,276.7 262.0,278.7 262.2,280.9 262.4,282.5 262.5,284.1 262.5,286.3 262.4,288.3 260.4,290.6 260.0,292.6 260.5,295.1 260.3,297.0 260.5,299.0 260.5,300.8 260.8,302.7 261.0,305.0 261.1,307.5 261.1,309.5 260.8,311.4 260.9,312.8 261.1,315.2 261.4,317.7 261.1,318.8 261.6,321.7 261.4,323.4 261.4,325.8 261.9,327.0"/>
<polyline class="m285" points="259.9,272.1 260.2,275.8 260.4,278.3 260.8,281.6 261.0,285.6 261.0,288.2 261.1,291.8 261.0,294.9 261.5,298.8 261.4,302.2 261.5,305.2 261.7,308.5 262.1,312.0 262.0,314.5 262.2,317.9 260.0,321.3"/>
<polyline class="m339" points="261.2,268.0 261.2,268.0"/>
<polyline class="m339" points="261.7,326.8 261.4,329.9 261.4,332.4"/>
<polyline class="m255" points="264.7,271.9 264.7,273.3 265.1,275.4 262.5,277.5 262.9,280.1 262.5,282.3 262.7,284.2 263.0,285.4 263.0,288.3 262.9,290.4 263.0,292.3 263.2,293.7 263.2,295.9 263.6,298.0 263.6,299.9 263.5,302.5 263.8,304.5 264.0,306.0 264.0,307.8 264.2,310.1 264.0,312.4 263.9,313.8 264.5,316.4 264.2,317.9 264.4,320.1 264.7,322.3 264.8,324.4 264.5,326.4"/>
<polyline class="m211" points="263.8,277.2 264.1,281.4 264.4,284.0 264.3,287.8 264.8,290.9 264.8,294.4 262.6,297.8 262.9,300.5 262.8,304.3 262.8,307.5 263.5,310.5 263.7,313.5 263.9,317.0 263.6,320.1"/>
<polyline class="m339" points="263.7,263.9 263.7,267.0 264.0,269.7 263.7,272.2 264.0,274.6"/>
<polyline class="m339" points="264.4,323.9 264.3,326.5 264.1,329.2 264.2,331.7 264.2,334.2"/>
<polyline class="m314" points="267.4,270.1 267.0,271.2 267.1,274.1 264.9,275.4 265.0,278.1 265.3,279.3 265.2,281.5 265.4,283.8 265.1,285.4 265.5,287.7 265.4,290.3 265.7,292.2 265.7,293.8 265.9,296.4 266.1,298.4 266.1,299.8 266.0,302.2 266.0,304.0 266.1,306.2 266.1,307.8 266.2,310.3 266.6,311.9 266.5,314.4 266.4,316.2 266.8,318.6 266.7,320.8 266.6,322.6 266.7,324.4 266.7,326.7 266.8,328.3 266.9,330.7 266.9,332.7"/>
<polyline class="m311" points="264.9,275.5 265.4,279.5 265.4,282.3 265.7,285.8 265.9,289.1 265.8,292.2 265.8,296.1 266.2,299.8 266.1,302.6 266.4,306.2 266.8,309.3 266.6,312.5 267.1,315.8 267.2,319.7 267.5,323.3 265.2,326.3"/>
<polyline class="m332" points="266.3,262.6 266.0,264.5 266.4,266.6 266.3,269.2 266.1,271.6"/>
<polyline class="m332" points="265.5,331.8 265.4,335.0 265.4,337.8 265.2,340.6"/>
<polyline class="m332" points="265.6,289.0 265.6,291.6 265.6,294.5 265.5,297.2"/>
<polyline class="m328" points="267.9,273.1 268.1,270.3 268.0,268.0 267.9,265.2 267.9,262.6 268.1,259.6 267.8,256.4"/>
<polyline class="m256" points="268.0,267.7 268.0,270.1 268.5,272.1 268.6,273.7 268.7,276.0 268.7,277.9 268.4,280.4 268.8,282.5 269.0,284.7 268.7,286.5 268.8,288.6 269.3,290.3 269.3,292.8 269.3,294.1 269.1,297.0 269.3,298.8 269.3,301.1 269.6,302.6 269.5,304.2 269.7,306.6 267.5,308.9 267.4,310.6 267.7,312.8 267.4,314.7 267.6,317.4 267.6,318.7 267.7,321.0 268.0,323.3 268.2,325.2 268.3,327.2 268.3,329.3"/>
<polyline class="m213" points="267.4,273.7 267.6,277.3 267.6,280.3 268.2,284.0 268.3,287.6 268.1,290.8 268.6,293.4 268.4,296.8 268.9,300.4 268.7,303.9 269.2,306.4 269.0,310.2 269.1,313.1 269.8,316.8 269.6,320.0 267.2,323.0"/>
<polyline class="m328" points="268.6,263.7 268.4,266.2 268.4,269.0"/>
<polyline class="m328" points="268.5,327.8 268.3,330.1 268.2,332.7 268.3,334.7 268.3,336.8"/>
<polyline class="m328" points="269.0,281.5 268.9,283.3 269.1,285.2 269.0,287.2 269.0,289.2"/>
<polyline class="m225" points="271.2,267.4 271.2,269.4 271.2,271.4 271.5,273.2 271.5,275.2 271.3,277.4 271.9,279.3 271.6,281.7 271.7,284.1 271.7,286.0 272.0,287.9 272.1,290.1 272.1,291.4 269.7,294.3 269.9,295.9 270.0,297.6 270.0,300.3 270.0,301.8 269.9,304.5 270.0,305.9 270.4,308.0 270.3,310.7 270.3,312.5 270.5,314.7 270.5,316.2 270.5,318.8 270.7,320.2 270.7,322.3 270.7,325.2 271.1,326.8 271.0,329.3 271.2,331.2 271.2,333.0"/>
<polyline class="m177" points="270.0,272.9 269.8,276.9 270.1,280.1 270.2,283.2 270.2,286.6 270.7,290.0 270.7,293.3 270.8,296.4 271.2,300.3 271.0,303.9 271.2,306.9 271.3,309.8 271.5,313.2 271.8,316.8 272.1,320.4 271.9,323.5 269.7,327.5"/>
<polyline class="m403" points="270.7,263.8 270.4,266.3 270.4,268.7"/>
<polyline class="m403" points="270.5,330.9 270.4,334.1 270.1,337.4"/>
<polyline class="m403" points="272.1,273.0 272.0,270.8 272.2,267.9 272.2,265.2 272.2,262.8 272.2,259.9 272.2,257.6 271.9,254.6 271.9,251.6 271.9,249.3 272.0,246.6 272.1,243.6 272.2,240.8 272.2,238.4 271.8,235.5 272.1,232.5 271.9,229.6 272.1,226.4"/>
<polyline class="m404" points="272.4,322.0 272.3,324.4 272.2,327.2 272.1,329.8 272.1,332.1 272.1,334.6 272.5,337.4 272.0,340.3 272.1,343.3 272.2,346.2 272.3,348.7 272.1,351.5 272.3,354.4 272.1,357.4 272.2,360.3"/>
<polyline class="m28" points="274.1,266.3 274.2,268.4 274.3,269.9 274.0,271.9 274.5,273.9 274.5,275.7 274.5,277.7 274.4,280.0 272.1,282.4 272.3,284.5 272.4,286.5 272.2,288.6 272.3,290.3 272.7,292.1 272.3,293.8 272.8,295.8 272.5,297.7 272.9,300.4 272.9,302.1 273.0,304.0 273.0,306.1 273.2,308.6 273.1,309.7 273.3,312.1 273.2,314.0 273.1,316.0 273.3,318.5 273.5,320.4 273.6,321.8 273.9,324.5 273.8,326.1 273.6,327.9 273.6,330.6 274.1,332.1 273.8,334.1"/>
<polyline class="m22" points="274.6,271.8 272.4,275.5 272.6,278.4 272.7,282.0 272.4,285.2 273.0,288.5 272.8,291.5 273.2,294.8 273.2,298.1 273.6,302.0 273.5,305.5 273.5,308.4 273.8,311.4 274.2,314.9 274.0,318.1 274.1,321.2 274.4,324.8 274.7,328.0"/>
<polyline class="m403" points="273.2,258.0 273.4,260.4 273.4,262.8 273.1,265.4 273.4,267.7"/>
<polyline class="m404" points="273.6,332.6 273.8,335.4 273.7,337.9"/>
<polyline class="m404" points="272.5,281.4 272.6,283.9 272.5,286.8 272.6,289.4 272.5,291.8 272.6,294.6"/>
<polyline class="m403" points="274.5,275.3 274.2,272.6 274.6,269.8 274.4,267.0 274.5,264.5 274.5,262.2 274.3,259.3 274.5,256.4 274.2,253.7 274.3,251.0 274.4,248.1 274.3,245.3 274.6,242.4 274.4,239.6 274.3,237.3 274.5,234.4 274.6,231.5 274.3,229.3 274.3,226.4 274.3,223.9 274.4,221.3 274.5,218.1 274.3,215.4"/>
<polyline class="m90" points="275.5,269.9 275.5,271.6 275.7,274.2 275.6,275.8 275.5,278.2 275.8,280.1 275.9,282.2 276.1,284.3 276.2,286.6 275.9,287.9 276.0,290.4 276.3,292.8 276.5,294.0 276.3,296.6 276.4,298.1 276.5,300.9 276.7,302.1 276.8,304.6 276.6,307.0 274.6,308.2 274.4,310.2 274.9,312.9 274.9,315.2 274.8,316.9 274.8,318.7 275.2,320.9 275.2,323.1 275.1,325.1 275.2,327.2 275.4,328.8"/>
<polyline class="m66" points="276.4,276.4 277.0,279.6 274.6,282.4 274.9,286.3 275.1,289.0 275.2,292.3 275.3,295.9 275.2,299.4 275.6,303.0 275.9,306.3 276.0,309.8 275.9,313.0 276.5,316.0 276.7,320.0 276.4,323.5"/>
<polyline class="m403" points="275.8,261.7 276.2,264.3 275.8,266.6 276.1,269.0 276.2,271.8"/>
<polyline class="m403" points="276.0,326.5 275.8,329.5 275.6,332.5 275.8,335.5"/>
<polyline class="m403" points="274.7,306.0 274.8,308.2 274.7,310.5 274.8,312.9 274.8,315.2"/>
<polyline class="m405" points="277.9,276.8 278.1,274.6 278.2,271.6 278.0,268.7 278.0,266.3 278.1,264.0 278.2,261.1 278.0,258.3 277.8,255.5 278.0,252.6 277.9,249.7 278.1,246.9 278.1,244.2 277.9,241.4 277.9,239.1 278.1,236.5 278.0,233.7 277.9,230.7 278.0,227.4"/>
<polyline class="m185" points="279.3,270.3 279.3,272.6 276.8,274.2 277.0,277.1 277.2,279.0 277.2,280.7 277.5,283.1 277.2,285.0 277.5,287.1 277.3,289.4 277.4,291.1 277.6,293.5 277.6,295.2 277.7,297.4 277.9,299.4 278.1,301.0 278.3,303.8 278.4,305.0 278.5,307.4 278.4,310.1 278.2,311.6 278.3,313.5 278.4,316.0 278.6,317.9 279.0,319.5 279.1,322.3 278.9,324.3 279.3,326.2 279.2,327.6 279.3,330.0"/>
<polyline class="m139" points="277.1,276.6 277.1,280.2 277.5,283.6 277.8,286.3 277.8,290.5 277.8,293.8 277.9,296.5 278.2,300.4 278.3,303.6 278.4,307.2 278.9,310.7 279.0,313.9 278.9,317.1 276.7,320.7 276.9,324.0"/>
<polyline class="m405" points="277.6,262.4 277.8,265.4 278.0,268.6 277.9,271.5"/>
<polyline class="m405" points="278.5,329.5 278.5,331.6 278.6,334.0"/>
<polyline class="m405" points="278.4,232.0 278.9,236.3 278.5,240.5 278.0,245.3 278.3,249.4 278.2,253.3 278.3,257.2 277.9,261.7 278.0,266.5 278.4,270.9 278.2,274.7 278.5,279.3 278.7,283.9 278.0,287.9 278.2,292.5 278.1,296.5 278.4,301.1 278.1,305.2 278.6,309.6 278.1,314.6 277.9,319.0 278.6,323.3 278.2,328.0 278.3,331.9 278.6,336.0 278.4,340.3 278.8,344.4 278.2,348.2 278.5,352.7 278.2,357.7 278.3,362.6 278.4,366.8"/>
<polyline class="m406" points="279.4,237.5 279.4,239.5 279.4,241.5 279.3,258.0 279.5,260.6 279.6,263.5 279.5,266.2 279.6,268.9 279.3,271.3 279.5,274.1 279.4,282.0 279.4,288.5 279.4,294.0 279.4,299.5 279.4,311.0"/>
<polyline class="m358" points="335.9,324.5 335.9,327.3 336.2,329.6 336.2,332.1 336.2,334.8 336.2,337.2 336.0,339.9 335.9,342.7 336.0,345.5 335.9,347.8 335.8,350.2 336.0,352.8 336.2,355.4 335.9,358.0 336.2,360.3 336.0,362.7 336.1,365.5 336.1,368.0 335.9,370.7 336.0,373.3 336.1,376.2 335.9,378.7 336.2,381.8"/>
<polyline class="m110" points="336.0,277.3 336.2,275.0 336.1,272.2 336.3,269.9 336.2,267.7 336.4,265.3 336.4,262.4 336.2,260.0 336.1,257.7 336.2,255.2 336.0,252.1 336.3,249.0"/>
<polyline class="m132" points="336.3,272.7 336.5,274.0 336.6,276.5 336.7,278.5 336.5,280.9 336.7,282.1 336.5,284.4 336.6,286.2 336.8,288.7 336.7,290.4 337.0,292.8 336.8,295.1 335.7,296.6 335.7,299.0 336.0,301.3 335.7,303.6 335.8,305.1 336.2,307.2 336.0,309.4 335.9,311.2 336.3,313.3 336.0,315.3 336.1,317.7 336.0,319.6 336.1,321.2 336.2,323.5 336.2,325.8 336.2,327.9 336.5,329.4"/>
<polyline class="m111" points="337.0,278.2 337.6,281.8 335.1,284.9 335.2,287.9 335.4,290.9 335.6,294.7 335.7,297.5 335.8,301.0 336.0,304.6 336.5,307.1 336.5,311.2 336.9,314.1 336.9,317.2 336.9,320.9 337.0,323.4"/>
<polyline class="m110" points="336.4,265.0 336.2,267.7 336.3,270.0 336.5,272.8"/>
<polyline class="m358" points="336.5,327.4 336.4,329.7 336.6,332.2 336.8,334.1 336.7,336.1 336.5,338.5 336.4,340.6 336.7,342.5"/>
<polyline class="m110" points="336.4,303.6 336.4,305.7 336.4,307.8 336.4,309.9 336.4,312.2"/>
<polyline class="m358" points="337.5,320.4 337.4,323.3 337.3,325.7 337.7,328.7 337.7,331.2 337.6,334.0 337.6,336.3 337.3,338.6 337.4,341.1 337.5,343.4 337.6,345.9 337.4,348.9 337.6,351.7 337.4,354.4 337.6,356.8 337.4,359.1 337.3,361.7 337.7,363.9 337.4,366.3 337.6,368.7 337.4,371.2 337.5,374.2 337.3,376.7 337.7,379.0 337.6,381.7 337.3,384.8"/>
<polyline class="m135" points="338.1,273.2 338.4,270.3 338.5,268.1 338.1,265.8 338.1,263.1 338.2,260.9 338.1,258.6 338.4,256.0 338.3,253.7 338.4,251.5 338.3,248.9 338.2,246.0 338.5,243.0"/>
<polyline class="m104" points="339.5,266.2 339.4,268.0 339.7,270.5 339.8,272.1 339.9,274.6 340.1,276.8 337.4,278.6 337.8,280.4 337.6,282.8 337.7,284.4 338.1,286.4 337.9,288.2 338.0,290.8 338.0,292.8 338.2,294.6 338.0,297.1 338.4,299.3 338.2,301.0 338.6,302.9 338.6,304.7 338.4,307.4 338.5,309.5 338.7,310.7 338.7,313.6 338.9,314.7 339.2,317.5 338.8,319.6 339.0,321.3 339.1,323.2 339.5,325.1 339.1,327.3 339.4,329.8 339.5,331.1"/>
<polyline class="m87" points="339.0,271.8 339.1,275.7 339.3,278.7 339.5,282.5 339.7,285.1 337.6,288.7 337.9,292.4 338.0,295.6 337.7,299.1 338.1,302.1 338.4,305.4 338.2,308.3 338.8,311.8 338.5,315.3 338.8,318.7 338.9,321.9 339.0,325.6"/>
<polyline class="m135" points="338.3,253.1 338.4,255.0 338.1,257.0 338.5,259.3 338.1,261.6 338.2,263.7 338.3,266.0 338.4,268.5"/>
<polyline class="m358" points="338.0,329.7 338.2,332.4 338.0,335.0 338.0,338.3 338.0,341.5"/>
<polyline class="m358" points="339.5,322.5 339.6,325.0 339.6,327.9 339.6,330.9 339.6,333.3 339.5,335.5 339.7,338.3 339.4,341.2 339.7,344.0 339.7,346.5 339.3,349.2 339.4,351.4 339.4,354.2 339.6,357.1 339.4,360.1 339.6,362.5 339.3,365.4 339.5,368.1 339.6,370.8"/>
<polyline class="m361" points="340.2,275.0 340.3,272.2 340.4,269.2 340.2,266.9 340.4,264.6 340.4,262.1 340.4,259.3 340.4,256.6 340.3,254.0 340.2,251.5 340.2,248.3 340.5,245.5"/>
<polyline class="m193" points="342.0,274.7 342.1,277.0 341.9,278.8 342.2,281.3 341.9,283.0 342.0,285.5 339.7,287.4 340.1,289.7 340.1,291.8 340.1,293.2 340.1,295.8 340.1,297.5 340.5,299.6 340.3,301.2 340.7,303.0 340.6,305.4 340.9,307.3 340.9,309.4 341.2,311.5 341.2,313.4 341.1,315.4 341.2,318.1 341.5,320.0 341.6,321.8 341.6,323.6 341.8,326.0 342.0,327.9"/>
<polyline class="m143" points="340.9,281.4 341.3,284.8 341.4,288.1 341.6,290.9 341.8,294.3 342.1,298.0 342.2,301.9 340.1,305.3 339.9,308.7 340.4,311.5 340.6,315.2 340.8,318.3 341.1,321.9"/>
<polyline class="m361" points="340.2,260.2 340.3,262.5 340.3,265.3 340.6,267.6 340.4,270.2 340.4,273.2 340.6,275.6"/>
<polyline class="m370" points="341.5,327.1 341.4,329.3 341.6,331.7 341.4,334.4 341.5,336.7 341.3,338.9"/>
<polyline class="m370" points="342.4,328.6 342.4,331.4 342.3,334.4 342.5,337.2 342.4,339.5 342.3,342.1 342.1,344.6 342.3,347.4 342.2,350.4 342.3,353.0 342.2,355.8"/>
<polyline class="m170" points="342.8,275.0 342.8,277.0 343.1,279.8 343.0,281.5 342.9,283.6 343.2,285.1 343.3,287.4 343.4,290.0 343.3,291.3 343.8,293.3 343.8,295.1 343.6,297.6 343.7,299.3 344.0,301.4 344.1,304.1 344.2,305.7 344.0,307.5 344.0,309.9 344.4,311.6 344.4,313.3 344.6,315.6 344.8,318.2 342.5,319.7 342.4,322.3 342.4,323.4 342.7,325.9 342.7,328.3 342.8,329.9"/>
<polyline class="m124" points="344.4,281.1 344.6,284.9 342.1,288.2 342.5,291.1 342.7,294.3 342.9,298.2 342.8,301.2 343.5,304.6 343.2,307.1 343.4,310.9 343.6,313.9 343.9,317.2 344.2,320.6 344.6,323.5"/>
<polyline class="m370" points="342.8,265.5 342.7,268.1 342.9,271.4 342.8,274.1 343.0,276.8"/>
<polyline class="m370" points="343.9,328.2 343.9,331.1 343.9,333.5 344.1,335.9 344.0,338.2 343.9,340.7"/>
<polyline class="m370" points="343.6,310.4 343.7,312.7 343.7,315.2 343.6,317.1"/>
<polyline class="m212" points="346.0,267.6 346.3,270.1 346.3,271.7 346.3,274.1 346.3,275.6 346.4,278.4 346.6,280.5 346.6,282.4 346.9,284.2 346.9,286.0 347.0,288.1 347.1,290.0 344.5,292.7 344.7,293.9 345.1,296.4 345.1,298.4 344.8,300.9 344.9,302.8 345.2,304.8 345.4,306.5 345.1,308.8 345.3,310.5 345.5,313.3 345.6,315.2 345.4,316.9 345.5,319.3 345.9,320.6 345.8,323.5 345.7,325.5 346.0,327.4 346.2,329.1 346.2,331.1 346.1,332.9"/>
<polyline class="m197" points="345.9,274.1 346.0,277.3 346.1,280.8 346.7,284.1 346.6,287.4 346.5,290.2 346.7,293.7 344.9,297.6 344.8,300.3 344.9,304.3 345.1,306.7 345.0,311.0 345.3,313.7 345.5,317.4 345.9,320.1 345.8,323.7 346.0,327.7"/>
<polyline class="m364" points="346.3,255.0 346.4,257.3 346.4,260.2 346.2,262.7 346.2,265.5 346.1,267.8 346.4,270.6"/>
<polyline class="m364" points="346.4,332.0 346.1,334.1 346.5,336.3 346.3,338.4 346.1,340.8 346.4,343.2 346.3,345.4"/>
<polyline class="m362" points="343.0,264.0 343.2,266.7 342.8,269.3 342.8,271.8"/>
<polyline class="m365" points="347.2,357.0 347.2,357.0"/>
<polyline class="m364" points="348.0,325.9 348.2,328.1 348.1,330.9 348.1,333.8 348.0,336.0 348.2,338.4 347.9,341.3 347.9,343.7 348.2,346.1 348.1,348.6 348.2,351.8"/>
<polyline class="m147" points="347.3,275.9 347.5,277.6 347.5,279.4 347.6,281.4 347.5,283.5 347.6,285.7 347.8,287.5 348.0,290.4 348.0,292.2 348.3,294.5 348.3,296.1 348.1,297.6 348.5,300.5 348.3,302.0 348.7,304.0 348.6,306.7 348.6,308.8 348.6,310.7 348.7,312.4 349.2,314.5 348.9,316.9 349.1,318.8 349.4,320.2 349.1,322.7 349.5,324.7 347.2,326.3 347.0,329.0 347.0,330.9 347.1,333.0 347.5,335.1"/>
<polyline class="m102" points="349.0,281.6 348.9,285.3 349.1,288.0 349.3,291.4 347.2,294.8 347.5,298.2 347.3,301.7 347.4,305.6 348.0,309.1 348.0,311.7 348.0,314.9 348.2,319.0 348.4,322.0 348.5,325.2 348.8,329.0"/>
<polyline class="m364" points="348.0,266.5 347.7,269.2 347.8,272.0 347.9,274.8 348.0,277.7"/>
<polyline class="m364" points="347.5,335.0 347.4,338.1 347.6,341.2 347.4,344.4"/>
<polyline class="m364" points="348.6,281.8 348.5,284.7 348.6,287.5 348.6,289.7 348.5,292.3"/>
<polyline class="m163" points="350.9,271.3 351.2,273.4 351.2,275.6 351.0,277.1 351.1,279.9 351.2,281.5 351.3,283.9 351.3,285.7 351.4,287.8 351.8,289.6 351.7,291.3 349.7,293.5 349.5,295.5 349.5,297.7 349.5,300.1 349.5,302.3 349.9,304.2 349.9,305.8 350.0,307.6 349.9,309.9 350.2,311.9 350.1,314.2 350.4,316.3 350.2,318.0 350.3,320.2 350.7,321.7 350.5,324.3 351.0,326.2 350.8,328.4 350.7,330.4"/>
<polyline class="m157" points="350.5,277.2 350.5,280.8 350.5,284.6 350.6,287.7 350.7,291.2 351.3,294.7 351.4,297.7 351.3,300.9 351.8,303.8 349.2,307.7 349.5,310.6 349.6,314.5 349.9,317.3 350.0,320.8 350.2,324.1"/>
<polyline class="m364" points="350.6,261.0 350.7,263.5 350.5,266.1 350.7,268.6 350.4,271.1 350.5,273.7"/>
<polyline class="m364" points="350.5,328.5 350.4,330.8 350.3,333.1 350.2,335.0 350.2,337.3"/>
<polyline class="m364" points="350.1,275.9 350.0,278.2 350.0,280.4 350.0,282.3 349.9,284.4"/>
<polyline class="m365" points="349.5,281.9 349.5,278.6 349.6,275.1 349.5,271.4 349.6,268.5 349.5,264.7 349.7,260.9 349.7,257.3 349.8,254.0"/>
<polyline class="m366" points="349.7,283.0 349.6,285.6 349.6,289.0 349.7,292.3 349.7,295.6 349.6,298.8 349.4,301.4 349.4,304.0"/>
<polyline class="m266" points="352.9,275.3 352.9,277.9 353.1,279.2 353.1,281.6 353.6,283.6 353.3,285.7 353.8,287.9 353.6,289.8 354.0,291.6 353.9,294.5 354.1,296.5 354.2,298.6 351.6,299.8 352.1,302.7 351.9,304.0 352.3,306.3 352.1,308.8 352.4,310.3 352.6,313.1 352.6,315.0 352.7,316.6 352.9,318.9 353.0,320.8 353.0,323.1 353.0,325.6"/>
<polyline class="m240" points="353.8,281.2 354.2,284.3 351.9,288.4 352.2,291.9 352.1,295.2 352.7,298.0 352.8,302.0 353.1,305.4 353.0,308.5 353.6,312.4 353.6,315.6 354.1,318.7"/>
<polyline class="m408" points="352.9,266.5 352.9,268.7 352.5,270.9 352.6,273.3 352.7,276.0 352.6,278.2"/>
<polyline class="m408" points="352.9,322.4 352.8,325.2 353.0,327.9 353.1,331.0 352.8,334.3 353.0,337.1"/>
<polyline class="m408" points="353.6,286.1 353.6,289.1 353.6,291.6"/>
<polyline class="m237" points="356.0,267.8 355.6,270.3 355.9,272.6 355.8,273.9 356.2,276.4 356.3,278.6 356.0,280.0 356.4,282.3 356.1,284.6 356.6,286.3 356.5,288.5 356.6,290.7 354.1,292.7 354.3,294.2 354.4,296.6 354.7,298.6 354.5,300.6 354.7,302.7 354.9,304.6 354.7,306.9 355.0,308.2 355.0,310.7 355.0,312.5 354.9,314.8 355.3,316.5 355.1,318.9 355.4,320.9 355.5,322.7 355.2,324.2 355.7,326.4 355.5,328.8 355.8,330.6 355.6,333.2 356.0,334.8"/>
<polyline class="m195" points="356.2,274.1 356.1,277.6 356.5,281.0 356.4,284.0 354.4,287.3 354.5,289.7 354.3,293.3 354.6,296.3 354.7,300.2 355.1,302.6 355.1,306.4 355.0,309.4 355.3,312.6 355.6,315.8 355.7,319.3 355.9,321.9 355.7,325.4 355.9,328.6"/>
<polyline class="m367" points="355.6,258.3 355.6,261.2 355.7,263.9 355.5,266.4 355.6,269.3"/>
<polyline class="m367" points="356.0,332.8 355.9,335.1 355.7,337.5 356.1,340.1 356.1,342.2 355.8,344.4 355.8,346.6"/>
<polyline class="m367" points="355.2,280.8 355.2,283.6 355.2,286.3"/>
<polyline class="m367" points="355.9,325.9 356.2,328.2 355.9,330.5 355.9,332.9 356.1,335.2 355.8,337.8 355.8,340.4 356.0,343.3 356.2,345.6 356.1,348.0 355.9,350.6 355.9,353.0 355.9,355.6 356.0,358.2"/>
<polyline class="m367" points="356.4,279.5 356.6,276.7 356.4,274.3 356.5,271.7 356.5,269.2 356.4,266.4 356.6,264.1 356.6,261.8 356.7,259.1 356.7,256.6 356.3,253.9 356.5,250.5"/>
<polyline class="m130" points="357.9,275.9 357.6,277.5 358.1,279.6 357.9,281.8 358.0,284.4 357.9,286.5 358.2,288.4 358.4,290.2 358.3,292.3 358.4,294.6 358.4,296.2 358.5,298.6 358.9,300.0 358.8,302.7 358.9,304.5 359.1,306.5 356.5,308.9 356.5,310.5 356.9,312.9 356.6,314.5 356.9,317.1 357.0,319.0 357.2,321.2 357.0,322.3 357.2,325.3 357.3,327.2 357.4,329.0 357.7,331.2 357.8,332.6 357.6,335.5"/>
<polyline class="m95" points="357.9,282.2 357.8,285.6 358.3,288.8 358.4,291.7 358.3,295.2 358.7,298.8 358.9,302.0 356.8,305.4 356.8,308.6 357.0,312.1 357.3,315.7 357.2,319.4 357.4,322.8 357.5,326.1 358.0,328.9"/>
<polyline class="m367" points="358.3,266.4 358.5,269.0 358.4,271.2 358.4,273.6 358.5,275.8 358.1,278.3"/>
<polyline class="m367" points="357.8,332.3 357.5,334.6 357.4,336.8 357.6,338.8 357.8,341.2 357.3,343.8 357.4,346.2 357.8,348.7"/>
<polyline class="m367" points="359.2,278.1 359.1,274.2 359.2,270.0 359.1,265.6 359.0,260.4 359.0,255.0"/>
<polyline class="m369" points="359.6,323.1 359.6,325.6 359.9,328.2 359.6,331.1 359.7,333.6 359.7,335.9 359.7,338.3 359.7,340.8 360.0,343.1 359.9,346.0 359.7,349.0 359.8,351.6 360.0,354.1 360.0,357.6"/>
<polyline class="m260" points="360.9,269.3 360.7,271.4 360.9,272.6 360.9,275.4 361.1,276.7 360.9,278.7 361.0,281.4 361.4,282.7 358.9,284.7 359.1,286.6 358.9,288.8 359.4,291.2 359.4,292.9 359.4,295.1 359.4,297.3 359.6,298.9 359.4,301.1 359.7,303.2 359.8,305.0 359.6,307.1 360.1,308.8 359.8,310.8 359.9,313.0 360.2,315.1 360.1,317.1 360.2,319.2 360.4,321.0 360.5,323.3 360.3,325.0 360.4,327.3 360.6,329.3 360.9,330.9 360.6,333.3 361.0,335.3"/>
<polyline class="m218" points="359.4,275.0 359.4,278.9 359.6,281.4 359.7,285.5 359.9,288.7 359.8,291.9 360.0,295.7 360.0,298.2 360.4,301.8 360.4,305.8 360.8,308.8 360.8,312.2 361.0,315.6 360.9,318.9 361.5,322.9 359.0,325.8 359.2,328.9"/>
<polyline class="m367" points="359.8,258.6 360.0,261.0 360.1,263.0 359.8,265.2 360.1,267.2 360.0,269.3 359.8,271.4"/>
<polyline class="m369" points="360.4,333.7 360.2,336.9 360.4,340.2 360.5,343.3 360.3,346.2 360.0,348.8"/>
<polyline class="m369" points="359.9,273.6 359.9,276.9 359.8,279.5"/>
<polyline class="m283" points="362.3,271.8 362.6,273.9 362.8,275.8 362.9,278.2 362.8,280.4 363.0,282.2 363.0,283.7 363.2,286.2 363.3,288.6 363.4,290.3 363.2,292.8 363.2,294.2 363.7,296.7 363.5,299.2 363.6,301.1 361.2,302.4 361.4,304.6 361.5,306.7 361.8,309.4 361.7,311.5 362.1,312.8 361.8,315.5 361.8,317.1 362.2,319.1 362.2,321.1 362.3,323.3 362.6,325.7"/>
<polyline class="m248" points="362.5,278.0 362.7,280.7 362.9,283.9 363.5,287.2 363.5,290.8 363.8,294.2 361.6,297.2 361.7,300.0 361.6,303.5 361.8,307.0 362.1,310.3 362.1,312.9 362.7,316.3 362.6,319.5"/>
<polyline class="m368" points="361.9,264.6 361.8,267.4 361.9,270.6 361.9,273.6"/>
<polyline class="m368" points="363.0,323.3 363.1,326.8 363.0,330.1 362.9,332.9 363.0,335.8 363.1,338.6"/>
<polyline class="m368" points="364.6,328.0 364.4,330.9 364.4,333.4 364.4,335.6 364.6,338.7 364.4,341.8 364.2,344.8"/>
<polyline class="m68" points="364.2,270.8 364.2,273.0 364.3,275.1 364.2,277.2 364.7,278.6 364.6,281.5 364.5,282.7 364.7,284.7 364.7,286.8 364.8,289.3 364.8,290.9 365.1,293.4 365.2,295.3 365.4,297.2 365.4,299.7 365.2,301.9 365.5,303.0 365.5,305.5 365.5,307.2 365.6,310.0 365.9,311.7 365.7,313.2 366.0,316.1 365.9,317.8 363.7,319.4 363.6,321.6 364.1,324.2 364.0,325.9 364.1,327.6 363.9,329.5 364.1,332.4"/>
<polyline class="m44" points="364.5,276.7 364.7,280.3 365.2,283.1 365.0,286.7 365.3,290.5 365.7,293.7 365.7,296.8 365.7,299.7 365.9,302.8 363.7,306.3 363.9,309.7 364.1,312.8 364.2,316.5 364.6,319.9 364.8,322.9 364.9,326.1"/>
<polyline class="m368" points="365.2,263.1 365.4,265.5 365.4,267.7 365.2,270.5 365.1,272.9"/>
<polyline class="m368" points="364.3,330.4 364.0,333.2 364.3,336.6 364.3,339.5 364.0,342.8"/>
<polyline class="m368" points="365.0,281.7 365.0,284.5 365.0,287.4 365.0,290.6"/>
<polyline class="m168" points="367.3,271.7 367.5,273.8 367.5,275.8 367.6,277.9 367.5,280.5 368.0,282.3 367.9,284.3 368.1,286.0 368.1,288.3 367.9,290.4 368.4,292.5 368.4,294.7 368.5,296.8 366.2,298.5 366.3,300.2 366.0,302.4 366.3,305.0 366.7,307.1 366.6,309.1 366.4,310.4 366.9,313.2 366.8,314.8 366.7,316.7 367.0,319.1 367.1,320.8 367.2,323.5 367.4,325.4 367.1,327.1 367.2,328.7 367.6,331.6"/>
<polyline class="m121" points="368.1,278.1 368.4,281.2 366.1,284.6 366.4,288.3 366.4,291.1 366.8,294.7 367.0,297.8 367.0,301.7 367.3,305.3 367.6,308.4 367.6,312.0 367.5,314.7 367.9,318.4 367.8,321.9 368.5,325.1"/>
<polyline class="m372" points="367.6,264.4 367.9,267.0 367.7,269.1 367.7,271.3 367.5,273.7"/>
<polyline class="m372" points="367.6,329.1 367.4,331.6 367.6,334.1 367.6,336.5 367.4,338.6"/>
<polyline class="m372" points="367.9,277.9 367.9,280.2 368.0,282.8 368.0,284.9 367.9,287.2 367.8,289.8"/>
<polyline class="m372" points="367.4,277.5 367.3,274.6 367.3,271.6 367.6,269.4 367.7,266.5 367.5,263.8 367.6,261.6 367.7,259.1 367.5,256.9 367.6,254.1 367.7,251.3 367.3,248.6 367.4,246.3 367.4,244.0 367.5,241.6 367.4,238.5"/>
<polyline class="m371" points="369.4,276.3 369.5,273.5 369.5,271.0 369.2,268.5 369.3,265.8 369.2,263.0 369.2,259.8 369.3,256.4 369.4,253.0"/>
<polyline class="m69" points="368.9,274.2 369.1,276.3 368.7,278.2 369.2,281.0 369.3,283.2 369.4,284.6 369.5,287.1 369.5,288.5 369.7,290.6 369.5,293.5 369.9,295.0 369.7,296.9 369.7,299.0 369.8,301.6 370.0,303.4 370.0,305.2 370.3,307.5 370.4,309.9 370.5,311.7 370.4,313.5 370.9,316.0 370.9,318.2 370.9,319.8 368.6,321.6 368.9,324.2 368.6,325.7"/>
<polyline class="m45" points="368.3,280.8 368.9,283.8 368.7,287.1 369.0,290.8 369.4,293.6 369.5,296.8 369.5,300.3 369.7,303.4 370.0,306.4 370.5,310.5 370.6,313.1 370.5,316.5 368.4,320.1"/>
<polyline class="m371" points="370.4,263.8 370.3,266.5 370.0,269.7 370.2,272.7 370.1,275.5"/>
<polyline class="m371" points="369.8,324.8 369.7,327.3 370.0,329.8 369.9,332.0 369.7,334.1 369.8,336.4 369.8,338.6 369.8,340.9"/>
<polyline class="m374" points="371.9,322.2 372.0,324.8 371.8,327.6 371.9,330.5 371.9,333.3 371.8,335.7 371.8,338.1 371.9,341.1 372.2,343.6 371.8,346.3 372.0,348.6 372.0,351.6 372.1,354.6 372.1,357.6"/>
<polyline class="m158" points="371.7,269.5 371.7,271.8 372.0,273.0 372.0,275.7 372.2,278.0 372.4,279.5 372.1,282.0 372.6,284.2 372.5,286.2 372.4,288.3 372.7,289.6 372.6,292.0 372.9,293.7 372.9,295.7 372.8,298.3 373.0,300.5 373.4,302.4 373.3,304.3 370.7,306.5 370.8,308.3 370.9,310.1 371.1,312.5 371.2,314.2 371.4,316.6 371.3,318.3 371.4,320.6 371.8,323.1 371.7,324.6 371.8,326.8"/>
<polyline class="m114" points="372.0,275.9 372.1,279.0 372.1,281.5 372.5,285.3 372.6,288.0 372.6,291.7 372.8,295.0 373.0,298.5 370.8,301.3 371.2,305.0 371.3,308.2 371.3,311.3 371.5,314.0 371.8,317.4 372.0,320.4"/>
<polyline class="m374" points="372.6,256.6 372.7,259.0 372.6,261.4 372.7,264.1 373.0,266.1 372.8,268.4 373.0,271.0"/>
<polyline class="m374" points="372.5,325.9 372.1,328.2 372.4,330.4 372.3,332.7 372.4,334.7 372.3,337.2"/>
<polyline class="m374" points="372.9,297.4 372.9,299.9 372.9,302.1"/>
<polyline class="m374" points="373.8,347.5 373.8,347.5"/>
<polyline class="m375" points="374.4,353.0 374.4,353.0"/>
<polyline class="m85" points="373.9,274.4 373.9,276.7 374.3,279.0 374.3,281.3 374.3,282.7 374.7,285.3 374.7,286.9 374.5,289.5 374.7,291.6 374.7,293.3 375.2,295.2 374.9,297.8 375.0,299.6 375.2,301.7 375.6,303.7 375.3,306.0 375.7,307.8 375.8,310.2 373.5,312.2 373.3,313.8 373.3,316.5 373.8,318.5 373.7,320.3 374.1,322.1 373.9,324.7 374.2,326.5"/>
<polyline class="m62" points="374.1,280.6 374.4,283.8 374.7,287.6 375.0,290.4 375.1,293.9 375.3,296.9 375.4,300.5 373.1,303.6 373.5,307.5 373.9,310.1 373.9,313.5 374.0,317.4 374.5,320.5"/>
<polyline class="m375" points="375.2,262.8 375.0,265.8 375.4,268.6 375.4,271.9 375.2,275.0"/>
<polyline class="m375" points="374.8,324.8 375.2,327.2 375.1,330.0 375.2,333.0 375.0,335.8 375.1,338.8"/>
<polyline class="m375" points="375.4,275.4 375.2,273.0 375.4,270.1 375.5,267.7 375.6,265.4 375.5,263.0 375.6,260.8 375.4,258.4 375.5,256.1 375.4,253.9 375.3,251.3 375.6,248.6 375.3,246.3 375.4,243.6 375.3,241.4 375.6,239.0 375.5,236.3 375.3,234.1 375.5,231.5 375.6,228.9 375.6,226.2 375.6,223.8 375.3,221.3 375.3,218.6 375.5,216.5 375.6,213.7 375.5,211.3 375.3,209.1 375.6,206.7 375.3,204.5 375.4,201.8"/>
<polyline class="m63" points="375.9,274.5 376.2,276.8 376.3,278.5 376.2,280.7 376.1,282.2 376.1,284.9 376.7,286.7 376.3,288.6 376.5,290.4 376.9,292.1 376.6,294.9 376.7,296.5 377.0,298.5 377.3,300.2 377.2,302.3 377.4,304.5 377.3,306.6 377.6,308.4 377.8,310.4 377.4,312.6 377.5,314.6 378.0,316.3 377.7,318.5 377.8,320.2 375.4,322.5 375.7,324.8 375.9,326.6 375.7,329.1"/>
<polyline class="m42" points="376.1,280.9 376.2,283.5 376.6,287.2 376.6,290.2 376.9,294.0 377.3,296.9 377.3,300.0 377.4,303.3 377.5,306.5 377.7,309.8 375.8,312.9 375.7,316.1 376.1,319.2 376.2,322.3"/>
<polyline class="m375" points="376.0,259.7 376.4,262.0 376.2,264.0 376.4,265.9 376.2,268.2 376.3,270.5 376.4,272.5 376.2,275.0 376.0,277.1"/>
<polyline class="m375" points="377.4,327.7 377.3,329.8 377.0,332.1 377.1,334.1 377.0,336.2 377.3,338.7 377.0,341.1"/>
<polyline class="m375" points="377.2,289.2 377.1,292.1 377.1,295.5"/>
<polyline class="m376" points="377.0,257.0 376.9,259.5 377.0,262.1 377.1,264.7 377.0,267.1 377.1,269.7"/>
<polyline class="m375" points="377.6,274.1 377.4,271.7 377.5,269.2 377.4,266.2 377.3,263.8 377.6,260.9 377.5,258.3 377.3,255.8 377.6,252.8 377.6,250.0 377.5,247.1 377.6,244.1 377.5,241.3 377.6,238.4 377.3,235.2 377.3,232.4 377.7,228.8 377.6,225.2"/>
<polyline class="m249" points="378.1,275.1 378.2,276.7 378.3,279.1 378.2,281.0 378.5,282.5 378.5,284.7 378.5,287.5 378.7,289.2 379.0,291.1 379.1,293.4 379.0,294.9 378.9,297.3 378.9,298.9 379.2,301.5 379.5,303.0 379.1,304.7 379.6,307.2 379.3,309.4 379.8,310.7 379.9,313.0 379.8,314.8 379.7,317.3 379.8,318.7 379.9,320.9 379.9,322.8 380.0,325.1 380.2,327.2 380.3,328.7 380.4,331.3 378.1,333.0 378.1,334.9"/>
<polyline class="m210" points="378.1,281.1 378.7,284.0 378.5,287.3 378.7,290.2 379.1,293.5 379.2,296.6 379.4,300.3 379.4,303.0 379.7,306.3 379.9,309.8 379.8,313.5 380.0,316.4 380.4,319.3 377.8,323.2 378.3,325.9 378.6,328.9"/>
<polyline class="m338" points="379.3,266.5 379.2,269.1 379.3,271.5 378.9,273.9 379.2,276.3"/>
<polyline class="m338" points="379.9,334.2 379.7,336.8 379.9,339.4 379.7,342.7 379.7,345.3"/>
<polyline class="m377" points="380.8,328.1 380.8,331.1 380.6,334.0 380.7,336.7 380.8,339.3 380.6,342.3 380.7,344.9 380.8,347.5 380.6,350.4 380.5,352.7 380.8,355.0 380.6,357.9 380.6,360.8 380.5,363.8"/>
<polyline class="m379" points="381.1,253.0 381.2,254.3 380.8,255.4 381.0,256.6 381.0,257.8 380.9,258.9 380.9,260.1 381.1,261.2 380.8,262.4 381.1,263.6 381.1,264.7 381.0,265.9 380.9,267.0 380.9,268.3 381.0,269.7 381.1,270.7 381.1,272.0 380.8,273.3 381.2,274.4 380.8,275.7 381.2,276.9"/>
<polyline class="m56" points="383.0,272.5 380.6,274.5 380.7,276.8 380.6,279.3 380.5,280.9 380.7,282.8 380.6,284.7 380.7,287.3 381.1,289.3 381.1,290.9 381.4,293.7 381.5,295.4 381.6,297.2 381.5,299.4 381.5,301.5 381.6,303.5 381.6,306.2 381.6,307.4 382.0,310.1 382.0,311.8 381.9,313.9 382.3,316.0 382.4,318.1 382.4,320.0 382.4,322.2 382.3,324.8 382.3,326.0 382.8,327.9 382.6,330.3 382.9,332.2"/>
<polyline class="m41" points="380.6,279.3 380.9,282.1 380.9,285.8 381.3,289.0 381.4,292.4 381.6,295.5 381.9,298.8 381.8,302.3 382.3,305.7 382.2,309.7 382.3,313.2 382.4,316.6 380.6,319.8 380.4,323.5 381.0,326.5"/>
<polyline class="m377" points="381.1,260.8 381.0,264.1 381.1,267.2 381.1,269.9 381.0,273.3"/>
<polyline class="m377" points="381.5,330.4 381.9,333.1 381.7,335.7 381.8,338.9 381.6,342.3 381.7,345.0"/>
<polyline class="m206" points="384.7,268.7 385.2,270.8 384.8,272.4 385.3,274.2 385.0,276.6 382.9,279.0 382.9,281.1 383.1,283.0 382.9,284.8 383.3,286.6 383.2,289.0 383.2,290.6 383.3,293.0 383.4,295.0 383.6,296.9 383.4,299.0 383.5,301.0 383.6,302.5 383.6,304.9 383.7,307.0 384.1,309.2 384.0,311.1 384.3,313.0 384.1,315.5 384.2,317.6 384.1,319.5 384.6,321.4 384.5,323.2 384.5,325.6 384.6,327.3 384.6,329.7 384.8,331.7 385.1,333.6"/>
<polyline class="m152" points="383.6,274.0 383.6,277.8 383.7,280.7 383.7,284.2 383.9,288.0 384.1,290.7 384.7,294.7 384.5,297.1 384.7,301.1 384.7,303.9 384.9,308.0 385.1,311.2 382.8,314.5 383.3,317.3 383.2,321.2 383.5,323.8 383.4,327.2"/>
<polyline class="m378" points="383.4,256.3 383.7,258.4 383.5,260.9 383.7,262.9 383.8,264.8 383.4,267.2 383.4,269.2"/>
<polyline class="m379" points="384.2,331.5 384.3,334.2 384.3,336.9 384.1,339.8 384.0,342.6"/>
<polyline class="m378" points="384.4,279.3 384.4,281.4 384.5,283.7 384.4,285.6 384.4,288.0 384.4,289.9 384.5,292.1"/>
<polyline class="m378" points="384.2,280.5 384.3,277.9 384.4,274.5 384.5,270.9 384.4,266.8 384.6,262.6 384.5,258.8 384.5,254.4 384.5,249.6 384.3,245.1 384.3,240.8 384.2,235.6 384.4,230.9 384.5,224.7 384.4,219.2"/>
<polyline class="m379" points="385.1,326.8 385.0,329.6 385.1,332.3 384.8,335.1 385.1,337.4 385.2,340.1 384.9,343.0 384.9,346.0 384.9,348.9 385.1,351.5 384.9,354.1 384.9,357.0 384.8,359.6 384.8,362.4 385.2,365.1 385.1,367.7 384.8,370.4 385.2,372.7 385.1,375.6 385.2,378.5 385.0,381.1 384.9,383.8 385.2,386.7 385.1,389.9 385.0,392.6"/>
<polyline class="m122" points="386.3,272.5 386.3,275.2 386.6,276.9 386.7,278.8 386.7,281.5 387.0,283.3 386.8,284.8 387.0,286.8 386.9,288.7 386.9,291.4 387.2,293.5 387.2,294.8 387.4,297.0 387.4,299.3 387.6,301.1 385.4,303.2 385.1,305.4 385.6,307.1 385.3,308.8 385.7,311.5 385.8,312.8 385.6,315.3 385.7,317.0 385.8,319.0 385.8,320.9 386.0,322.9 386.2,325.5 386.3,327.2 386.5,329.8"/>
<polyline class="m88" points="386.0,279.3 385.9,282.3 386.4,285.7 386.7,289.6 386.7,292.7 386.9,296.2 386.9,299.4 387.4,302.6 387.6,306.0 385.1,309.4 385.3,312.9 385.6,316.9 385.8,320.4 385.9,323.5"/>
<polyline class="m380" points="385.9,262.0 385.7,264.6 385.7,266.6 385.7,268.7 385.9,271.1 385.9,273.1 385.9,275.1"/>
<polyline class="m380" points="386.9,327.4 386.9,330.5 387.2,333.5 387.2,336.2 387.0,339.3"/>
<polyline class="m380" points="387.7,275.0 387.7,272.5 387.6,269.6 387.3,266.7 387.3,264.2 387.5,261.3 387.3,258.6 387.7,256.1 387.5,253.8 387.3,251.2 387.5,248.3 387.4,245.9 387.6,243.2 387.5,240.4 387.7,238.0 387.7,235.5 387.7,232.2"/>
<polyline class="m343" points="387.8,321.0 388.0,323.9 388.1,326.6 388.1,329.5 388.0,332.2 388.1,334.7 388.0,337.4 388.0,340.2 388.1,342.5 387.9,345.3 388.1,348.2 387.9,350.9 388.1,353.6 387.9,356.8"/>
<polyline class="m343" points="388.0,258.0 388.0,259.6 387.8,261.1 388.1,262.7 387.9,264.3 387.8,265.6 387.8,267.2 387.9,268.8 388.1,270.1 387.8,271.7 388.0,273.4"/>
<polyline class="m296" points="389.0,275.6 389.1,277.3 389.0,279.0 389.3,281.1 389.1,283.8 389.4,285.8 389.7,287.8 389.7,290.0 389.5,291.4 389.7,294.1 389.8,295.5 387.4,297.5 387.6,299.5 387.8,301.5 387.7,304.1 387.8,306.2 388.2,307.8 388.4,310.2 388.1,312.2 388.2,313.8 388.3,316.3 388.6,318.5 388.5,320.6 388.9,322.4 388.7,324.2 388.8,326.1"/>
<polyline class="m284" points="389.3,281.2 389.4,284.9 389.7,288.2 389.9,290.8 387.8,294.1 387.6,297.7 388.3,300.7 388.3,303.7 388.2,307.6 388.7,310.1 388.7,313.4 389.1,317.2 389.3,320.0"/>
<polyline class="m380" points="389.1,261.0 389.0,263.9 389.4,267.3 389.1,270.5 389.2,273.5 389.3,276.3"/>
<polyline class="m343" points="388.5,325.4 388.5,328.9 388.2,332.2 388.2,335.6 388.6,338.8"/>
<polyline class="m7" points="390.5,268.5 390.2,270.9 390.5,272.8 390.3,274.6 390.6,277.1 390.7,279.3 390.6,281.0 390.6,282.9 390.7,285.1 390.9,286.6 391.0,289.6 391.3,291.2 391.3,293.4 391.1,295.1 391.3,297.7 391.6,299.2 391.6,301.7 391.7,303.2 391.6,305.9 391.7,307.9 392.0,309.8 392.0,311.5 391.8,313.8 392.2,315.4 392.2,318.4 392.1,319.7 392.3,322.4 390.1,324.1 389.9,325.7 390.3,328.7 390.4,330.7 390.2,331.9"/>
<polyline class="m1" points="391.0,274.2 391.4,277.4 391.4,281.2 391.6,283.9 391.7,287.3 391.8,290.5 392.1,294.5 392.0,296.9 392.2,300.6 390.0,303.5 390.2,307.0 390.5,310.2 390.7,313.1 390.6,316.7 390.7,320.3 391.0,323.2 391.0,326.1"/>
<polyline class="m391" points="390.8,255.9 391.0,258.2 391.1,260.9 390.7,263.6 390.9,266.0 391.0,268.7 390.8,271.4"/>
<polyline class="m391" points="390.9,331.5 390.9,333.7 391.2,336.5 391.2,339.1 391.3,341.7"/>
<polyline class="m383" points="392.4,239.0 392.5,241.8 392.6,244.5 392.3,246.8 392.4,249.0 392.4,251.5 392.6,254.3 392.4,257.0 392.3,259.5 392.7,262.1 392.4,264.4"/>
<polyline class="m384" points="393.2,276.8 393.3,274.3 393.3,271.5 393.3,268.6 393.4,265.7 393.5,263.0 393.5,260.1 393.5,257.5 393.4,255.2 393.6,252.4 393.6,250.1 393.2,247.8 393.5,245.2 393.4,242.9 393.6,240.6 393.2,238.0 393.2,235.2 393.3,232.3 393.2,229.5 393.6,227.2 393.4,224.9 393.3,222.5 393.3,220.0 393.4,217.1 393.2,214.6 393.3,212.3 393.3,209.5 393.5,206.8"/>
<polyline class="m8" points="393.4,272.5 393.6,274.2 393.9,275.8 393.9,278.5 394.1,280.3 394.0,282.8 394.2,284.2 394.4,286.5 394.3,288.8 394.1,290.7 394.5,292.1 394.4,294.6 394.5,296.6 394.7,298.5 392.2,300.8 392.7,303.3 392.4,305.0 392.5,306.5 392.6,308.8 392.7,310.8 392.8,313.0 393.0,315.0 392.9,317.0 393.1,319.5 393.1,321.1 393.5,323.6 393.6,325.4 393.4,327.6"/>
<polyline class="m2" points="392.6,277.9 392.9,281.3 392.8,285.1 393.1,288.5 393.3,291.3 393.5,294.5 393.8,297.6 393.8,301.4 394.2,304.6 394.2,308.3 394.2,311.2 394.7,314.6 394.7,317.9 392.4,321.0"/>
<polyline class="m384" points="393.3,261.9 393.4,264.7 393.2,267.6 393.2,270.3 393.3,272.6"/>
<polyline class="m384" points="393.5,326.9 393.4,329.5 393.5,332.9 393.3,335.5"/>
<polyline class="m385" points="395.8,325.9 395.4,328.2 395.5,331.1 395.4,333.9 395.6,336.5 395.6,339.2 395.8,342.0 395.8,344.6 395.5,347.2 395.8,349.7 395.8,352.7 395.5,355.3 395.8,357.7 395.6,360.6 395.4,363.3 395.4,365.8 395.5,368.3 395.4,371.3 395.7,373.7 395.4,376.5 395.8,379.2 395.5,381.7 395.4,384.5 395.8,386.8 395.5,389.4 395.7,392.0 395.7,394.8"/>
<polyline class="m234" points="395.2,275.7 395.3,278.4 395.1,279.9 395.5,282.2 395.3,284.3 395.3,286.5 395.5,288.4 395.8,290.9 395.6,292.9 396.1,294.2 396.2,296.2 396.3,299.1 396.1,300.7 396.4,302.8 396.6,304.8 396.6,307.2 396.8,309.4 396.8,311.4 397.0,312.6 396.7,315.3 396.9,317.2 394.9,319.7 394.6,321.1 395.1,323.7 395.1,325.0 395.1,327.3"/>
<polyline class="m184" points="394.7,282.1 395.1,285.3 395.1,288.9 395.4,292.0 395.9,295.1 396.0,298.6 396.2,301.5 396.6,304.8 396.5,307.9 396.9,311.4 396.9,315.4 394.9,317.9 395.1,321.5"/>
<polyline class="m386" points="396.3,266.4 396.2,268.6 396.0,271.2 396.0,273.8 396.2,276.4 396.2,278.7"/>
<polyline class="m385" points="395.7,325.2 396.0,327.8 395.9,330.6 395.7,333.7 396.0,336.5 396.0,339.4 395.7,342.0"/>
<polyline class="m385" points="395.8,304.4 395.7,306.2 395.9,308.3 395.9,310.1 395.8,312.2 395.7,314.6"/>
<polyline class="m386" points="396.7,281.7 396.7,279.4 396.6,277.0 396.7,274.2 396.3,271.5 396.4,269.2 396.5,267.0 396.6,264.2 396.6,261.2 396.7,258.9 396.4,256.0 396.4,253.3 396.6,250.5 396.4,248.0 396.3,245.5 396.7,242.7 396.4,240.3 396.5,237.0 396.3,233.9 396.3,230.6 396.4,227.3 396.6,223.2 396.7,219.4 396.4,215.2"/>
<polyline class="m198" points="398.4,276.8 398.1,278.7 398.4,280.0 398.5,282.1 398.5,284.3 398.5,286.1 398.9,288.3 399.2,290.3 398.9,292.9 399.0,294.7 399.4,296.1 399.3,299.0 399.4,300.8 397.2,302.2 397.0,304.7 397.5,307.1 397.1,308.7 397.7,310.5 397.8,312.4 397.8,315.1 397.8,316.8 398.0,318.5 398.2,320.7 398.1,323.3 398.0,325.4 398.1,327.5"/>
<polyline class="m148" points="398.6,282.7 398.9,285.8 399.1,288.6 399.7,291.9 397.4,295.5 397.2,298.0 397.6,301.9 397.8,304.8 398.1,308.3 398.3,311.6 398.3,315.1 398.8,317.5 398.7,320.7"/>
<polyline class="m386" points="399.2,263.0 399.0,265.1 399.0,267.6 398.8,269.8 399.1,272.3 398.8,274.4 398.8,276.6 398.8,279.2"/>
<polyline class="m386" points="399.1,324.3 398.8,327.0 398.9,329.4 398.9,331.9 398.9,334.9 399.1,337.3 398.8,339.8"/>
<polyline class="m386" points="399.4,281.3 399.3,278.3 399.4,275.5 399.4,273.2 399.6,271.0 399.4,268.1 399.2,265.7 399.3,262.7 399.6,259.8 399.5,257.2 399.6,254.6 399.5,251.8 399.3,249.2 399.5,246.3 399.4,243.9 399.5,241.3 399.3,238.9 399.6,236.2 399.6,233.3 399.2,229.9"/>
<polyline class="m387" points="399.9,323.4 400.0,326.2 399.8,329.1 399.8,331.8 399.8,334.2 400.1,336.8 400.1,339.0 400.1,341.9 400.0,344.6 400.1,347.2 400.0,349.8 400.1,352.6 400.0,355.6 400.0,358.4 400.1,360.9 400.0,363.3 399.9,366.0 400.2,369.0 400.2,371.7 400.0,374.8"/>
<polyline class="m59" points="399.9,276.5 399.8,278.8 400.1,280.9 400.1,282.1 400.3,285.0 400.3,286.3 400.3,288.9 400.8,290.9 400.9,293.0 401.0,295.0 400.9,297.1 401.0,298.9 401.1,301.1 401.1,303.0 401.2,304.9 401.6,307.4 401.4,309.1 401.5,311.5 401.7,313.9 402.0,315.3 399.8,317.6 399.4,320.2 399.7,321.7 399.9,324.0 399.9,325.6"/>
<polyline class="m36" points="400.5,282.2 400.8,285.7 401.0,289.1 401.3,292.3 401.5,296.4 401.5,299.8 399.6,302.5 399.6,306.1 400.1,309.9 400.0,313.3 400.5,316.8 400.4,320.3"/>
<polyline class="m386" points="400.2,266.1 400.2,268.5 400.2,271.1 400.0,273.1 400.1,275.7 399.9,278.1"/>
<polyline class="m387" points="400.0,324.5 399.9,327.0 400.0,329.8 399.9,332.9 400.0,336.0 399.9,338.8"/>
<polyline class="m387" points="399.9,304.8 399.9,307.6 399.9,310.4"/>
<polyline class="m116" points="403.3,272.9 403.5,275.6 403.5,276.9 403.8,278.8 403.9,281.6 403.7,283.0 404.2,285.6 403.9,287.4 404.4,289.4 404.3,291.8 401.9,293.9 402.2,296.1 402.1,297.8 402.1,299.9 402.2,302.1 402.4,304.4 402.7,305.9 402.3,308.1 402.6,310.0 403.0,312.0 402.7,314.5 402.9,316.6 403.1,318.4 402.9,320.8 403.3,322.7 403.2,324.2 403.2,326.4 403.5,328.3"/>
<polyline class="m82" points="404.1,278.8 401.8,282.5 402.3,286.2 402.1,289.1 402.5,292.9 402.6,296.2 402.9,298.7 403.1,302.1 403.0,306.0 403.3,309.4 403.4,312.7 403.5,315.8 403.9,318.8 404.3,322.5"/>
<polyline class="m346" points="403.6,261.6 403.4,264.5 403.7,267.6 403.6,270.1 403.4,273.2"/>
<polyline class="m346" points="403.1,326.3 402.8,329.0 402.9,331.8 402.8,334.5 402.8,337.7"/>
<polyline class="m346" points="402.8,301.7 402.8,304.5 402.9,307.6 402.9,310.1"/>
<polyline class="m346" points="404.0,275.4 404.1,273.1 404.0,270.6 404.2,268.0 404.1,265.2 404.1,262.7 403.8,260.1 404.1,257.4 404.1,254.5 404.0,252.2 403.8,249.5 404.0,247.1 404.0,244.7 404.0,241.8 404.0,239.4 404.0,237.0 404.0,234.3 403.9,231.8 404.1,229.4 404.0,226.9 403.9,223.8 404.2,221.2"/>
<polyline class="m199" points="404.3,266.7 404.4,268.7 404.4,271.5 404.7,273.0 404.8,275.2 404.8,277.1 404.7,278.9 404.9,281.2 405.0,283.3 405.0,285.5 405.2,287.0 405.4,289.5 405.5,291.7 405.5,293.2 405.6,295.6 405.7,297.0 405.6,298.9 405.9,301.5 405.5,303.5 406.0,305.5 405.7,307.0 406.2,308.9 405.9,311.4 406.1,313.2 406.3,315.8 406.1,317.4 406.1,319.4 406.6,321.5 406.5,323.2 406.7,325.2 406.6,327.5 404.1,329.5 404.1,331.9 404.4,333.4 404.4,336.0"/>
<polyline class="m160" points="404.6,272.9 404.5,276.8 405.0,280.1 405.2,283.4 405.3,286.4 405.2,289.4 405.2,293.1 405.6,295.9 405.8,299.4 405.6,303.1 406.2,306.1 406.0,309.2 406.4,313.4 406.6,316.7 406.5,320.0 404.0,323.2 404.6,326.3 404.4,329.4"/>
<polyline class="m346" points="404.7,252.6 404.7,255.2 404.7,257.8 404.9,260.1 404.9,263.0 404.7,265.8 404.9,268.6"/>
<polyline class="m346" points="405.3,333.3 405.3,335.8 405.5,338.7 405.1,341.7 405.2,344.4 405.1,346.9 405.2,349.3"/>
<polyline class="m25" points="409.0,275.9 409.1,277.7 409.1,279.2 406.5,281.5 406.8,283.9 406.8,285.7 407.1,288.0 406.9,289.7 407.3,291.6 407.4,293.6 407.4,295.5 407.2,297.7 407.6,300.5 407.5,301.9 407.6,304.6 407.9,306.4 408.0,308.1 407.7,310.1 407.8,312.8 407.8,314.5 408.0,316.4 408.3,318.3 408.1,319.9 408.2,322.6 408.6,324.4 408.4,326.8 408.7,328.5 409.1,331.1"/>
<polyline class="m17" points="408.3,281.4 408.4,285.2 408.9,288.6 408.8,291.6 408.9,294.6 406.7,298.0 406.7,301.9 407.3,304.4 407.5,307.7 407.6,311.3 407.6,315.2 408.0,318.5 408.1,321.5 408.1,324.8"/>
<polyline class="m414" points="408.0,262.8 408.1,265.5 407.7,268.6 407.8,271.6 407.8,275.2 407.8,278.2"/>
<polyline class="m414" points="408.3,330.2 408.2,333.2 408.2,336.0 408.2,338.6"/>
<polyline class="m414" points="407.5,294.0 407.5,296.2 407.6,298.7 407.5,300.7 407.5,302.8"/>
<polyline class="m414" points="408.6,324.5 408.5,326.9 408.8,329.3 408.7,332.0 408.7,334.6 408.9,337.5 408.7,340.0 408.6,342.2 408.6,344.6 408.9,347.4 408.8,350.7 408.9,353.8"/>
<polyline class="m159" points="411.0,272.6 411.2,274.2 411.5,276.5 409.3,278.8 408.9,280.4 409.2,282.7 409.6,284.7 409.5,286.9 409.4,289.3 409.5,291.0 409.8,293.1 409.6,295.0 410.1,297.3 410.2,299.7 409.9,301.4 410.2,303.7 410.2,305.6 410.5,307.2 410.3,310.0 410.3,311.6 410.5,313.5 410.9,315.6 410.6,318.0 410.8,319.8 410.8,321.8 410.8,324.1 411.1,326.1 411.0,327.8"/>
<polyline class="m115" points="410.5,278.4 410.4,281.5 410.6,284.8 410.7,289.0 410.9,291.8 411.1,295.8 409.3,299.0 409.2,302.3 409.2,305.0 409.5,309.1 409.9,312.6 410.0,315.6 410.4,318.7 410.2,322.5"/>
<polyline class="m336" points="410.0,258.3 410.3,261.2 409.9,264.4 410.0,267.0 410.1,269.6 410.3,272.5 410.3,275.3"/>
<polyline class="m336" points="410.3,326.2 410.1,328.9 410.3,331.1 410.5,333.6 410.3,336.2 410.5,338.7"/>
<polyline class="m336" points="410.2,299.2 410.2,301.7 410.1,304.8 410.2,308.1 410.1,311.2"/>
<polyline class="m367" points="410.5,389.4 410.5,403.4 410.5,416.2 410.5,428.0 410.5,437.5 410.5,443.0"/>
<polyline class="m310" points="411.8,270.0 411.9,271.7 412.3,274.5 412.3,276.6 412.5,277.9 412.6,280.9 412.6,283.0 412.5,284.2 412.5,286.5 412.9,288.5 412.8,290.7 413.1,292.9 412.9,295.1 413.1,296.8 413.3,299.3 413.1,301.1 413.4,302.8 413.4,304.9 413.6,307.9 413.5,309.6 413.7,311.3 413.7,313.2 411.7,316.2 411.5,317.9 411.8,320.1 411.7,322.4 411.8,324.1 411.9,326.3"/>
<polyline class="m298" points="412.5,275.9 412.4,279.7 412.8,282.6 412.7,286.5 413.0,290.1 413.1,293.4 413.5,296.6 413.4,299.4 413.5,302.7 411.3,306.4 411.6,310.3 411.8,313.1 412.3,317.0 412.2,319.9"/>
<polyline class="m328" points="412.7,260.4 412.4,263.2 412.4,266.4 412.4,269.2 412.6,272.3"/>
<polyline class="m328" points="412.5,324.7 412.8,327.4 412.8,330.1 412.4,332.9 412.4,335.4 412.4,337.9"/>
<polyline class="m328" points="414.2,329.1 414.3,332.1 414.4,334.9 414.5,337.7 414.5,339.9 414.2,342.4 414.2,345.3 414.3,347.7 414.4,350.5 414.4,353.0 414.3,355.5 414.2,358.5 414.4,361.1 414.6,364.3 414.6,367.9 414.2,371.9 414.3,375.7 414.4,378.9 414.4,382.6"/>
<polyline class="m276" points="415.5,271.5 415.7,273.7 416.1,275.1 416.1,277.3 416.1,279.8 416.0,281.3 414.0,283.4 413.9,285.4 414.0,287.3 414.0,289.6 414.1,291.7 414.5,293.5 414.1,295.8 414.5,297.6 414.4,299.7 414.6,302.6 414.5,303.7 414.8,306.4 414.8,307.8 414.8,310.8 415.1,312.2 415.4,314.1 415.3,316.7 415.5,318.6 415.5,320.4 415.3,322.8 415.7,325.0 415.5,326.3"/>
<polyline class="m242" points="416.0,277.1 413.7,281.0 414.0,284.3 414.2,287.0 414.3,290.2 414.8,293.7 414.7,297.5 414.9,300.6 415.4,304.4 415.4,307.8 415.7,310.8 415.7,313.8 415.8,317.1 416.3,321.2"/>
<polyline class="m328" points="414.2,263.3 414.4,266.9 414.1,270.4 414.3,273.4"/>
<polyline class="m328" points="415.1,325.2 415.0,328.0 415.1,331.0 415.1,334.1"/>
<polyline class="m328" points="414.6,308.6 414.8,310.7 414.6,313.2 414.7,315.4"/>
<polyline class="m328" points="415.8,276.7 416.1,274.4 416.0,272.0 416.1,269.1 415.9,266.9 415.8,264.4 415.9,262.2 416.2,259.5 416.0,256.4 415.9,253.3 416.0,250.0"/>
<polyline class="m389" points="410.3,290.2 410.3,285.5 410.0,281.5 410.8,277.4 410.4,273.2 410.7,269.4 410.7,265.2 410.4,260.7 410.8,256.8 410.9,253.1 410.5,248.8 410.8,244.0 410.9,240.3 410.5,236.5 410.1,232.2 410.1,228.3 410.8,224.3 410.8,220.0 410.4,213.5 410.4,206.2 410.4,198.2 410.4,190.2 410.4,182.5"/>
<polyline class="m390" points="410.1,296.0 410.2,299.1 410.0,301.9 410.2,304.9 410.0,308.0 409.9,311.3"/>
<polyline class="m389" points="410.3,317.0 410.4,322.0 410.1,326.4 410.4,330.8 410.4,335.5 410.4,339.4 410.1,344.4 410.3,348.7"/>
<polyline class="m96" points="416.3,269.2 416.5,271.7 416.4,273.1 416.5,276.0 416.9,277.6 416.7,279.9 416.8,282.0 416.8,283.5 417.2,286.0 417.2,287.2 417.4,289.2 417.2,291.9 417.2,293.9 417.6,296.0 417.4,297.3 417.4,299.8 417.8,301.3 417.5,303.8 417.8,306.2 417.7,307.2 418.0,309.4 417.8,311.8 418.3,314.2 418.3,316.1 418.1,317.3 418.5,319.6 418.4,321.5 418.6,324.0 416.3,326.0 416.1,327.6 416.3,330.0"/>
<polyline class="m64" points="417.7,275.6 418.1,278.9 418.4,282.4 418.3,284.8 418.2,288.7 416.1,291.5 416.6,295.0 416.8,297.8 416.5,301.7 416.7,304.6 417.0,307.8 417.1,310.7 417.4,314.6 417.7,317.3 417.4,320.9 418.1,324.2"/>
<polyline class="m385" points="416.4,260.7 416.5,263.9 416.6,267.3 416.5,270.1"/>
<polyline class="m385" points="416.7,328.7 416.7,330.9 416.8,333.2 416.7,335.7 416.9,337.8 417.0,340.0"/>
<polyline class="m136" points="421.0,273.4 418.4,275.8 418.6,277.6 418.6,280.0 418.8,281.9 419.1,283.3 419.1,285.5 419.1,287.2 418.9,289.9 419.1,291.4 419.5,293.6 419.1,295.2 419.2,298.1 419.6,299.6 419.7,301.3 419.6,303.4 419.9,305.6 419.7,307.6 420.0,309.6 420.0,312.1 420.2,313.7 420.0,315.9 420.3,317.6 420.2,320.1 420.5,322.2 420.7,324.2 420.6,326.0 420.8,328.2 421.0,330.2 420.9,331.8 420.9,333.7"/>
<polyline class="m93" points="420.5,279.7 420.3,282.6 420.6,286.0 420.8,289.1 421.1,292.9 418.7,295.3 418.7,298.8 419.0,301.7 419.2,305.8 419.1,308.4 419.7,311.2 419.7,314.6 419.6,318.0 420.0,321.4 420.0,324.7 420.3,327.6"/>
<polyline class="m330" points="420.6,260.8 420.3,264.1 420.4,267.2 420.3,270.4 420.5,273.6"/>
<polyline class="m330" points="419.1,333.0 419.0,335.4 419.1,338.1 419.0,340.8 419.2,343.0"/>
<polyline class="m330" points="420.5,328.7 420.6,331.2 420.4,333.8 420.7,336.0 420.5,338.8 420.7,341.1 420.7,343.8 420.3,346.1 420.7,349.0 420.4,351.4 420.3,353.6 420.4,356.1 420.3,358.8 420.5,361.8 420.3,364.4 420.4,366.9 420.6,369.9 420.4,373.2"/>
<polyline class="m162" points="421.6,266.9 421.6,269.4 421.6,271.3 421.6,272.9 422.0,274.7 422.1,276.8 422.0,279.3 422.2,281.5 422.1,283.1 422.1,285.2 422.2,287.7 422.5,289.5 422.3,291.9 422.8,293.6 422.4,295.4 422.5,297.6 422.7,299.3 422.8,301.3 423.1,303.7 423.1,305.5 423.1,307.9 423.4,310.2 423.2,311.6 420.8,313.8 421.3,316.1 421.1,317.6 421.5,319.8 421.3,322.3 421.5,323.8 421.3,326.3"/>
<polyline class="m117" points="422.4,273.0 422.2,276.8 422.6,280.2 422.9,283.5 423.0,286.8 422.9,290.3 422.9,293.1 421.1,297.0 421.2,300.3 421.5,303.3 421.6,307.3 421.5,310.0 421.8,313.7 422.2,316.6 421.9,319.8"/>
<polyline class="m330" points="422.8,253.0 422.9,256.1 422.6,259.1 422.5,261.5 422.6,264.4 422.6,267.6"/>
<polyline class="m330" points="422.7,325.0 422.7,328.2 422.7,331.8 422.7,334.7 422.7,337.5"/>
<polyline class="m330" points="422.4,301.7 422.6,304.0 422.4,306.4"/>
<polyline class="m332" points="424.5,276.5 424.5,273.8 424.4,271.1 424.4,268.9 424.6,266.6 424.3,264.0 424.3,261.2 424.4,258.6 424.5,255.6 424.6,253.0 424.3,250.5 424.5,247.7 424.2,245.1 424.5,242.7 424.3,239.9 424.4,237.7 424.4,234.9 424.5,232.6 424.5,229.8 424.4,227.2 424.3,224.8 424.2,222.4 424.3,219.7 424.4,216.9 424.4,214.3 424.4,211.6 424.4,208.5 424.4,205.6"/>
<polyline class="m302" points="425.6,270.9 425.3,272.8 425.7,274.8 425.8,277.1 423.2,278.8 423.6,281.2 423.7,282.7 423.8,285.0 423.9,286.5 423.8,288.6 423.7,291.1 424.1,293.3 423.9,294.8 424.2,297.4 424.0,299.1 424.4,300.8 424.2,303.2 424.7,305.1 424.7,307.5 424.6,309.2 424.5,311.5 425.0,313.1 424.8,314.9 424.8,317.4 425.2,318.9 424.9,321.6 425.2,323.4 425.4,325.5 425.2,327.7 425.3,329.5"/>
<polyline class="m273" points="424.1,277.2 424.2,279.6 424.3,283.4 424.9,286.5 424.9,289.7 425.0,292.9 425.0,296.6 425.3,300.4 425.4,303.6 425.6,306.5 423.2,309.6 423.9,313.4 423.7,317.1 424.1,319.7 424.4,322.9"/>
<polyline class="m332" points="424.7,258.2 424.7,261.3 424.5,263.8 424.5,266.8 424.5,269.7 424.6,272.5"/>
<polyline class="m332" points="423.9,327.9 423.6,330.1 423.8,332.5 423.7,335.0 423.8,337.4 423.9,340.1"/>
<polyline class="m334" points="426.2,327.6 426.2,329.8 426.4,332.5 426.0,335.0 426.2,337.8 426.3,340.3 426.3,343.0 426.2,345.4 426.3,348.3 426.4,351.2 426.3,353.8 426.3,356.8 426.3,359.4"/>
<polyline class="m19" points="427.1,275.3 427.5,277.6 427.4,279.9 427.3,281.1 427.6,284.0 427.8,285.2 428.0,287.7 427.7,289.6 428.0,291.6 428.0,293.7 425.7,295.8 426.0,298.2 425.9,300.0 426.0,302.4 426.4,303.9 426.2,306.6 426.3,308.5 426.6,310.4 426.5,312.3 426.8,314.3 426.5,316.3 427.0,318.9 427.0,321.2 426.9,323.1 427.1,325.5 427.2,327.4 427.1,329.3"/>
<polyline class="m14" points="426.7,281.7 426.5,284.5 427.1,287.6 427.0,290.8 427.3,293.9 427.3,296.9 427.7,301.0 427.6,303.5 428.1,306.6 425.9,310.4 425.9,313.2 426.1,316.6 426.2,319.6 426.7,323.5"/>
<polyline class="m335" points="426.5,268.1 426.4,270.6 426.3,273.1 426.2,275.5 426.4,278.0"/>
<polyline class="m334" points="427.6,328.4 427.4,331.6 427.8,334.3 427.8,337.6 427.8,340.6"/>
<polyline class="m335" points="427.7,277.4 427.6,275.0 427.4,272.5 427.5,270.0 427.3,267.3 427.6,264.4 427.4,262.0 427.4,259.6 427.4,256.9 427.5,254.1 427.3,251.9 427.4,249.2 427.5,246.7 427.5,244.3 427.5,241.7 427.4,238.7"/>
<polyline class="m304" points="430.6,273.3 428.3,275.0 428.0,277.3 428.4,278.9 428.5,281.8 428.4,283.1 428.3,285.7 428.8,287.7 428.7,289.3 428.6,291.1 429.0,293.5 428.9,295.2 429.2,297.8 429.3,299.5 429.0,301.5 429.1,303.1 429.4,305.2 429.3,307.6 429.5,309.4 429.7,311.5 429.8,313.5 429.7,315.3 429.9,318.1 429.9,319.7 430.2,322.1 430.1,323.5 430.0,325.5 430.5,327.7 430.4,330.2 430.6,331.8"/>
<polyline class="m280" points="429.4,279.2 429.6,282.9 429.8,285.8 430.0,289.3 430.0,292.2 430.3,296.4 430.5,298.9 428.0,302.5 428.2,306.1 428.4,309.4 428.8,312.2 428.7,315.9 428.9,319.1 429.4,322.2 429.5,326.1"/>
<polyline class="m398" points="429.4,260.4 429.4,263.6 429.6,266.8 429.3,269.4 429.3,272.0 429.3,275.0"/>
<polyline class="m398" points="429.0,330.9 429.0,333.5 429.2,336.0 428.9,338.4 429.0,340.7 429.2,343.1 429.0,345.9"/>
<polyline class="m398" points="428.5,293.1 428.5,295.9 428.5,298.1 428.6,300.3"/>
<polyline class="m336" points="431.1,327.0 431.0,329.8 431.4,332.4 431.0,335.0 431.3,337.3 431.1,340.0 431.2,343.0 431.3,345.9 431.3,348.8"/>
<polyline class="m244" points="431.1,273.7 431.1,275.0 430.9,277.4 431.3,278.9 431.4,281.0 431.1,283.6 431.6,285.2 431.4,287.4 431.6,289.7 431.7,291.2 431.6,293.6 431.7,296.0 431.9,298.0 432.0,299.5 432.0,301.7 432.2,303.7 432.1,306.0 432.6,307.8 432.4,310.4 432.6,312.1 432.7,313.9 432.6,316.0 432.9,318.1 430.5,320.6 430.4,322.7 430.6,324.3 430.8,326.9 430.9,328.2"/>
<polyline class="m201" points="432.4,279.2 432.2,282.9 432.3,285.9 432.8,289.6 430.4,292.6 430.4,295.5 430.9,299.3 431.2,302.5 431.5,305.9 431.3,309.4 431.4,312.3 431.6,316.2 432.0,319.6 431.9,322.2"/>
<polyline class="m337" points="431.4,260.7 431.2,263.6 431.2,266.9 431.3,270.3 431.6,273.0 431.2,275.8"/>
<polyline class="m336" points="431.5,325.7 431.4,328.4 431.5,331.2 431.8,333.6 431.4,335.9 431.8,338.4 431.4,340.8 431.5,343.3"/>
<polyline class="m337" points="432.4,303.5 432.4,305.3 432.4,307.6 432.5,309.8 432.5,312.1"/>
<polyline class="m337" points="432.0,277.6 432.1,274.9 431.9,272.0 431.9,269.7 432.1,267.3 432.0,264.9 431.8,262.4 432.1,259.5 432.1,257.2 431.8,254.7 432.0,252.4 432.0,250.0 431.9,247.3 431.9,244.5"/>
<polyline class="m21" points="435.2,267.5 435.2,269.9 435.4,272.0 433.0,274.2 433.1,275.6 432.9,278.1 433.0,279.6 433.3,282.0 433.2,283.7 433.5,286.2 433.5,288.2 433.6,290.4 433.8,292.4 433.6,293.9 433.7,296.1 434.0,298.7 434.1,300.1 433.9,302.3 433.9,304.4 434.3,307.0 434.1,308.3 434.5,311.0 434.3,312.5 434.5,315.1 434.5,316.8 434.7,318.7 434.7,321.3 434.8,323.1 434.9,324.9 434.8,327.2 434.7,329.2 434.9,331.7"/>
<polyline class="m16" points="433.5,273.9 433.7,276.9 433.9,279.9 434.3,283.3 434.3,287.0 434.6,289.7 434.5,292.8 434.9,296.1 434.9,299.6 435.1,302.7 435.1,305.9 432.7,308.7 433.2,312.5 433.2,315.5 433.5,318.4 433.7,321.9 433.7,324.9"/>
<polyline class="m360" points="434.1,260.6 434.1,263.0 434.3,265.0 434.1,266.9 434.0,269.0"/>
<polyline class="m360" points="434.6,329.6 434.7,332.1 434.4,334.3 434.4,336.7 434.6,339.0 434.4,341.3 434.5,343.5 434.7,346.2"/>
<polyline class="m360" points="434.5,271.4 434.5,273.4 434.4,275.9"/>
<polyline class="m360" points="435.8,275.1 435.6,272.7 435.7,270.1 435.5,267.3 435.4,264.5 435.6,261.4 435.5,258.6"/>
<polyline class="m21" points="437.1,268.4 437.2,270.1 437.5,272.2 437.6,273.8 437.8,275.9 437.5,278.0 435.5,280.1 435.3,282.5 435.6,284.6 435.4,286.0 435.4,288.5 435.8,290.4 435.6,292.2 435.8,294.6 436.1,296.4 436.0,298.4 435.9,300.5 436.0,302.8 436.0,305.0 436.1,307.1 436.1,308.7 436.3,310.4 436.6,313.1 436.8,314.9 436.5,316.7 436.8,319.2 436.8,321.1 436.8,323.0 436.8,324.7 437.2,327.7 437.3,329.7 437.1,330.9 437.1,332.9"/>
<polyline class="m16" points="437.1,274.3 437.0,277.7 437.4,280.6 437.1,284.2 437.5,287.6 435.0,290.8 435.4,293.7 435.6,297.5 435.7,301.1 435.8,304.3 435.9,307.7 436.3,310.3 436.1,314.2 436.6,317.2 436.7,320.3 436.6,324.0 437.1,327.2"/>
<polyline class="m360" points="436.3,260.6 436.5,263.2 436.6,265.3 436.6,267.6 436.4,270.2"/>
<polyline class="m360" points="435.7,330.8 435.8,332.8 435.8,334.9 435.7,337.5 435.9,339.6 436.1,341.6 435.9,344.0"/>
<polyline class="m360" points="436.3,276.7 436.3,279.1 436.3,282.0"/>
<polyline class="m338" points="438.2,324.6 438.2,327.2 438.2,329.8 438.1,332.1 438.0,334.7 438.2,337.5 438.1,339.9 437.9,342.2 438.2,344.6 437.8,347.5 438.0,349.8 438.0,352.1 438.0,354.7 438.1,357.6 438.1,360.3 437.9,362.9 438.1,365.6 438.1,368.8"/>
<polyline class="m125" points="438.6,270.3 439.0,272.8 438.9,274.8 439.2,276.3 439.1,278.7 439.3,280.8 439.1,282.6 439.1,284.6 439.3,287.0 439.4,289.1 439.8,290.9 439.9,293.0 439.7,294.7 439.6,296.7 439.8,299.0 439.8,300.5 437.7,303.1 437.6,304.8 437.9,307.3 437.7,309.1 438.1,311.1 437.8,312.8 438.3,315.3 438.1,316.4 438.5,318.4 438.3,321.1 438.7,323.1 438.6,325.2 438.7,326.4 438.8,328.9 438.8,330.8"/>
<polyline class="m86" points="439.5,276.3 440.0,279.5 439.8,282.9 437.6,286.2 437.9,289.8 438.3,292.3 438.3,296.0 438.2,299.2 438.5,302.6 438.9,305.4 438.9,308.4 439.0,311.9 439.4,315.4 439.2,318.5 439.4,321.9 439.5,325.2"/>
<polyline class="m338" points="438.6,263.3 438.9,265.8 438.8,268.1 438.9,270.6 438.7,273.3"/>
<polyline class="m338" points="437.8,329.2 438.1,332.0 437.9,334.6 437.9,337.5 438.2,340.2 438.1,343.3"/>
<polyline class="m340" points="440.6,323.8 440.7,326.4 440.6,328.8 440.4,331.6 440.4,333.9 440.4,336.7 440.7,339.0 440.6,341.9 440.6,344.6 440.6,347.2 440.7,350.2 440.6,353.1 440.6,356.0 440.4,358.4 440.6,361.5 440.4,364.1 440.6,366.8"/>
<polyline class="m207" points="440.6,268.1 440.7,270.0 440.5,271.7 441.0,274.2 440.9,276.0 441.0,277.9 440.9,280.4 441.2,282.0 441.0,284.8 441.3,286.5 441.1,288.9 441.5,290.7 441.5,292.1 441.5,294.6 441.7,296.9 441.7,298.5 441.6,300.8 441.9,303.4 442.1,304.8 441.8,307.2 441.9,309.5 442.1,311.0 442.2,313.3 442.4,315.7 442.4,317.3 442.5,319.1 439.8,321.8 440.1,323.7 440.2,325.8 440.1,327.8 440.5,330.0 440.5,331.9 440.4,333.9 440.6,336.3"/>
<polyline class="m153" points="441.5,273.8 441.3,277.2 441.6,280.2 441.8,283.8 442.0,286.6 442.2,290.5 442.2,293.8 442.5,296.5 440.2,299.8 440.1,303.4 440.5,306.4 440.4,310.4 440.7,313.7 441.0,317.0 441.1,319.5 441.3,322.9 441.0,326.1 441.3,330.3"/>
<polyline class="m341" points="442.0,259.6 441.9,261.6 441.6,264.0 441.9,266.3 441.7,268.5"/>
<polyline class="m340" points="441.6,333.4 441.7,336.4 441.8,338.9 441.8,341.7 441.7,344.1"/>
<polyline class="m341" points="442.4,279.2 442.6,276.3 442.5,274.0 442.5,271.7 442.4,269.2 442.6,266.5 442.4,264.1 442.5,261.6 442.5,259.1 442.7,256.2 442.7,253.4 442.5,250.9 442.5,248.4 442.3,245.8 442.5,243.5 442.6,241.0 442.3,238.4 442.4,235.6 442.3,233.4 442.6,231.1 442.5,228.4 442.6,225.6 442.3,222.6 442.6,219.7 442.5,216.8"/>
<polyline class="m186" points="442.7,271.5 443.1,273.9 442.9,276.1 443.3,278.1 443.1,279.8 443.4,281.5 443.1,284.4 443.5,286.2 443.2,288.3 443.6,290.2 443.5,291.8 443.9,293.9 443.6,296.6 443.8,298.4 443.7,300.8 443.9,302.6 444.3,304.8 444.1,306.3 444.5,308.4 444.3,310.7 444.2,313.1 444.3,314.3 444.4,317.3 444.9,319.1 444.9,321.3 444.6,323.4 442.2,325.1 442.7,327.3 442.8,329.5 442.8,331.4 442.8,333.5 442.6,335.5"/>
<polyline class="m140" points="443.0,277.6 443.2,280.5 443.2,284.1 443.5,287.8 443.3,290.3 443.5,294.3 443.7,297.5 443.8,299.9 444.1,303.3 444.4,306.7 444.2,310.2 444.6,313.4 444.7,316.4 442.6,319.8 442.9,322.4 442.6,325.5 442.7,329.5"/>
<polyline class="m341" points="444.3,261.0 444.0,263.7 444.1,266.5 444.1,269.2 444.1,271.9"/>
<polyline class="m341" points="443.5,332.4 443.5,334.9 443.7,337.4 443.3,339.4 443.5,341.6 443.5,343.7 443.5,345.7 443.5,347.9 443.7,350.2"/>
<polyline class="m342" points="444.3,249.0 444.2,251.4 444.4,253.9 444.5,256.4 444.6,258.5 444.3,260.7 444.3,263.2 444.3,265.5 444.4,267.8"/>
<polyline class="m341" points="445.1,198.5 445.2,205.2 445.5,210.6 445.6,215.1 445.2,219.5 445.6,224.6 445.4,229.0 445.7,232.7 445.7,235.8 445.7,239.0 445.3,241.8"/>
<polyline class="m52" points="446.9,269.7 446.8,271.8 447.3,273.4 444.7,275.6 444.8,277.1 445.1,280.0 445.1,281.8 445.2,283.7 445.3,285.9 445.4,287.4 445.1,289.5 445.6,291.5 445.8,294.0 445.5,296.1 445.7,298.5 445.9,300.3 445.6,302.4 445.7,304.5 445.8,305.9 446.1,308.7 446.3,310.7 446.4,313.0 446.4,314.9 446.4,317.1 446.6,318.6 446.5,320.5 446.7,323.0 446.7,325.4 446.9,327.3 446.9,329.4"/>
<polyline class="m34" points="445.1,275.5 445.2,278.5 445.6,282.4 445.7,285.1 445.9,289.4 445.8,292.5 446.0,295.4 446.1,299.1 446.1,302.5 446.6,306.0 446.8,309.4 446.8,312.6 446.9,316.2 445.0,319.3 444.9,322.6"/>
<polyline class="m391" points="446.0,255.2 446.0,257.9 446.1,260.6 446.1,263.9 445.9,267.2 445.8,270.3"/>
<polyline class="m391" points="445.8,327.6 445.9,330.5 445.5,332.9 445.7,335.4 445.8,338.5 445.5,341.4"/>
<polyline class="m343" points="447.6,300.0 447.5,302.9 447.4,306.0 447.4,308.7 447.4,312.1 447.6,315.4 447.6,318.4 447.5,321.2 447.4,323.8 447.4,327.3 447.5,330.4 447.6,333.2 447.5,336.2 447.4,339.7 447.5,343.2 447.4,346.0 447.5,349.2 447.3,352.5 447.3,356.0 447.3,358.9 447.3,361.7 447.5,364.6 447.3,367.3 447.6,370.0 447.5,373.4 447.6,376.4 447.5,379.5 447.3,382.4 447.7,385.7 447.6,389.2 447.3,391.9 447.5,394.7 447.4,397.5"/>
<polyline class="m344" points="447.5,352.0 447.5,366.0 447.5,379.0 447.5,389.0 447.5,398.0 447.5,402.0"/>
<polyline class="m277" points="447.9,274.8 448.3,277.4 448.2,279.5 448.5,280.8 448.2,283.2 448.5,284.8 448.6,287.4 448.4,288.9 448.8,290.8 449.0,293.3 448.7,295.5 448.9,297.7 448.9,299.5 449.0,301.7 449.3,303.2 449.2,305.2 449.5,307.0 449.2,308.8 449.3,311.2 447.2,313.0 447.4,315.1 447.2,316.9 447.7,319.1 447.6,321.2 447.6,323.8 447.8,325.0 447.9,327.7 447.9,329.8 448.1,331.5 447.8,333.7"/>
<polyline class="m239" points="448.7,280.7 448.7,284.7 448.9,287.3 449.3,291.4 449.1,294.3 449.6,297.2 447.4,300.5 447.5,304.4 447.6,307.7 447.6,311.0 448.0,314.0 448.1,317.9 448.2,321.1 448.3,324.2 448.7,327.6"/>
<polyline class="m344" points="448.0,262.9 447.9,265.1 448.0,267.1 448.0,269.2 448.0,271.5 447.8,273.7 447.8,275.7 447.7,277.7"/>
<polyline class="m344" points="448.4,332.1 448.2,334.3 448.4,336.8 448.3,339.3 448.1,342.0"/>
<polyline class="m344" points="448.4,299.3 448.3,301.6 448.2,304.6"/>
<polyline class="m344" points="450.5,277.4 450.3,274.5 450.6,271.6 450.5,268.0 450.5,264.8 450.4,261.6 450.5,258.3 450.3,253.7 450.5,249.5 450.2,245.2"/>
<polyline class="m89" points="449.7,271.5 449.8,272.9 449.7,275.5 449.6,277.5 450.0,279.1 450.1,281.6 450.2,283.0 450.1,285.6 450.3,287.4 450.3,289.1 450.1,291.3 450.4,293.0 450.7,295.4 450.6,297.8 450.5,299.2 450.7,301.1 451.0,303.3 450.8,306.0 451.2,307.3 451.0,309.8 451.2,311.7 451.4,313.7 451.3,316.1 451.3,318.2 451.3,319.5 451.3,321.8 451.8,323.3 451.9,326.0 451.6,328.1 451.8,329.6 452.0,331.8 449.4,334.3"/>
<polyline class="m65" points="451.5,277.5 451.9,280.2 451.8,284.4 449.9,287.3 449.6,291.0 450.2,294.6 449.9,297.1 450.5,300.6 450.7,304.5 450.8,307.1 450.8,311.4 450.9,313.9 451.0,318.2 451.0,321.3 451.5,324.5 451.3,328.3"/>
<polyline class="m344" points="450.6,262.8 450.5,265.8 450.5,268.5 450.5,271.7"/>
<polyline class="m344" points="450.7,332.0 450.8,334.1 450.8,336.7 450.7,338.8"/>
<polyline class="m344" points="451.4,305.8 451.5,307.9 451.4,310.0 451.4,312.3 451.5,314.7"/>
<polyline class="m345" points="452.5,323.1 452.7,325.6 452.6,328.0 452.7,330.3 452.7,333.0 452.4,335.5 452.3,338.0 452.5,340.8"/>
<polyline class="m57" points="453.9,267.3 454.1,268.6 454.2,270.7 454.0,273.2 454.3,274.6 454.5,277.5 451.8,279.3 452.0,281.6 452.0,282.8 452.1,285.1 452.5,287.7 452.4,288.9 452.2,291.5 452.4,293.7 452.5,295.1 452.6,297.2 452.7,299.3 452.6,300.9 453.1,303.3 453.1,305.7 453.2,307.5 453.0,309.3 453.3,311.2 453.3,313.6 453.4,315.2 453.2,317.2 453.4,319.3 453.7,321.9 453.8,323.2 453.7,325.8 453.8,327.8 453.7,329.4 454.0,331.4"/>
<polyline class="m35" points="453.7,272.7 453.6,276.3 453.7,279.2 454.2,283.1 454.0,286.6 454.3,289.4 452.2,293.3 452.1,295.8 452.4,299.5 452.4,302.6 452.7,306.1 452.7,308.9 453.1,312.6 453.3,315.4 453.0,319.6 453.3,322.2 453.4,325.9"/>
<polyline class="m347" points="452.8,259.4 452.7,262.6 453.0,265.7 453.0,268.7"/>
<polyline class="m345" points="452.7,332.0 452.9,335.3 453.0,338.8"/>
<polyline class="m345" points="452.2,269.7 452.2,271.6 452.2,273.5 452.2,275.3"/>
<polyline class="m347" points="454.3,279.7 454.2,277.2 454.5,274.4 454.5,271.6 454.6,269.2 454.4,266.9 454.6,264.7 454.3,262.0 454.5,259.1 454.2,256.4 454.4,253.0"/>
<polyline class="m83" points="455.8,268.2 456.0,270.4 455.8,271.5 456.1,273.8 456.1,276.5 455.9,277.7 456.2,279.7 456.1,282.6 456.3,283.8 456.5,286.0 456.7,288.4 456.7,290.7 454.3,292.0 454.7,294.5 454.7,296.6 454.5,298.1 454.6,300.5 455.0,302.8 455.0,304.2 454.9,306.8 454.8,308.2 455.3,310.6 455.4,312.9 455.3,314.4 455.3,316.6 455.4,319.2 455.6,320.3 455.8,322.7 455.5,325.1 455.8,327.1"/>
<polyline class="m58" points="456.7,273.8 456.6,277.7 454.3,280.3 454.4,284.3 454.8,287.4 455.0,290.4 455.3,293.9 455.2,297.2 455.5,300.4 455.6,304.0 455.9,307.8 456.2,310.4 456.0,314.4 456.1,317.9 456.3,320.6"/>
<polyline class="m347" points="455.0,257.4 455.1,260.1 454.8,263.3 454.8,266.6 455.0,269.2"/>
<polyline class="m347" points="456.4,326.4 456.3,329.6 456.1,332.9 456.3,335.7"/>
<polyline class="m347" points="455.6,270.0 455.7,272.3 455.7,274.4 455.6,276.4 455.7,278.3 455.7,280.4"/>
<polyline class="m150" points="458.9,276.6 459.2,278.5 456.8,281.2 456.7,282.7 456.9,285.7 456.9,287.6 456.9,289.8 457.1,291.3 457.5,293.1 457.6,295.3 457.7,297.9 457.8,300.1 457.5,301.7 457.7,303.5 457.7,305.9 458.2,307.9 458.0,309.9 458.2,312.1 458.2,314.0 458.6,316.1 458.6,317.9 458.5,319.9 458.5,322.7 458.8,324.1 458.9,326.9 459.2,328.2"/>
<polyline class="m107" points="457.8,282.5 458.0,286.7 458.3,289.7 458.1,292.5 458.4,296.5 458.8,299.2 459.0,302.4 456.9,306.0 456.8,309.8 457.2,312.4 457.4,315.8 457.3,319.0 457.6,322.3"/>
<polyline class="m410" points="457.9,263.7 458.0,266.4 457.9,268.5 457.8,270.9 457.9,273.4 457.9,275.7 457.7,278.5"/>
<polyline class="m410" points="458.5,326.4 458.5,328.9 458.3,331.0 458.5,333.5 458.3,335.7 458.4,338.0 458.5,340.3 458.2,342.6"/>
<polyline class="m410" points="458.1,291.3 458.2,294.5 458.0,297.4 458.1,300.4"/>
<polyline class="m347" points="459.6,273.2 459.5,270.5 459.6,267.7 459.2,265.0 459.5,262.4 459.4,260.1 459.3,257.7 459.5,255.2 459.5,252.4 459.4,249.0"/>
<polyline class="m182" points="460.2,275.4 460.2,276.7 460.3,279.1 460.7,280.7 460.5,283.2 460.8,285.2 460.8,287.2 461.0,289.2 461.0,291.1 460.9,293.2 461.0,295.7 461.3,297.9 461.3,300.0 461.4,302.0 461.4,303.4 459.2,306.1 459.3,308.0 459.3,309.8 459.6,312.3 459.7,314.1 459.7,316.2 459.6,318.5 459.7,320.1 460.0,322.2 459.8,323.9 460.0,326.0 459.9,328.8 460.1,330.7 460.3,332.4 460.1,334.4"/>
<polyline class="m155" points="461.0,280.9 460.9,284.5 461.4,287.5 461.5,291.4 459.0,294.1 459.1,298.2 459.7,301.2 459.8,304.4 459.9,308.1 460.0,311.1 459.9,314.5 460.1,318.3 460.3,321.5 460.6,325.1 460.7,328.4"/>
<polyline class="m347" points="460.4,261.0 460.5,263.5 460.5,265.8 460.5,267.9 460.7,270.3 460.6,272.8 460.5,275.4 460.6,277.7"/>
<polyline class="m347" points="459.6,333.1 459.7,335.1 459.6,337.6 459.8,340.0 459.6,342.3 459.8,344.4"/>
<polyline class="m347" points="459.4,280.4 459.5,282.8 459.6,285.8 459.6,288.6"/>
<polyline class="m349" points="461.6,280.9 461.6,278.6 461.7,276.3 461.5,273.8 461.7,271.3 461.4,268.7 461.4,266.0"/>
<polyline class="m350" points="462.6,352.7 462.3,356.2 462.3,359.8 462.4,364.0 462.7,367.4 462.5,371.6 462.8,375.1 462.8,379.2 462.6,383.0 462.6,388.1 462.3,393.2"/>
<polyline class="m291" points="463.2,271.4 463.5,273.5 463.7,274.9 463.4,277.5 463.5,279.5 463.9,281.5 463.9,283.1 461.6,285.1 461.5,287.6 461.6,290.1 461.5,291.7 461.7,293.3 461.9,295.9 462.2,297.4 461.9,300.2 462.1,301.4 462.4,304.4 462.3,305.8 462.3,308.5 462.4,309.8 462.5,312.3 462.7,313.7 462.6,316.3 462.8,318.8 463.2,319.9 462.9,322.8 462.9,324.5 463.4,326.5 463.1,328.3"/>
<polyline class="m272" points="462.8,277.1 463.3,280.6 463.5,284.0 463.4,286.6 463.7,290.5 464.0,292.9 461.5,296.3 461.9,300.0 462.0,302.8 462.0,306.4 462.4,309.1 462.5,313.3 462.8,315.7 462.8,319.1 463.1,322.8"/>
<polyline class="m349" points="463.0,268.0 463.0,271.3 463.0,273.9"/>
<polyline class="m349" points="462.0,328.0 462.4,330.7 462.2,333.7 462.4,336.7 462.1,339.6"/>
<polyline class="m350" points="463.6,279.0 463.7,280.9 463.5,282.8 463.9,284.9 463.9,286.9 463.7,288.7 464.0,290.6"/>
<polyline class="m299" points="464.6,274.0 464.7,276.0 464.8,278.3 465.1,279.8 464.9,281.9 465.0,284.7 465.0,286.6 465.4,288.5 465.2,290.7 465.3,292.0 465.7,295.1 465.8,296.9 465.7,299.0 465.9,300.8 466.1,302.7 466.0,304.9 466.2,307.1 465.8,308.4 465.9,310.7 463.9,312.6 464.0,315.3 464.1,316.6 464.3,319.5 463.9,321.2 464.4,323.2 464.2,325.2 464.5,327.1 464.5,329.5 464.7,330.9 464.7,333.8 464.9,335.6"/>
<polyline class="m293" points="466.2,280.6 466.0,283.3 464.0,286.9 464.1,289.5 464.1,293.4 464.5,297.0 464.3,300.2 464.8,303.4 464.7,306.1 464.9,309.7 465.2,312.6 465.5,316.6 465.7,319.4 465.7,322.6 465.7,326.3 466.1,329.2"/>
<polyline class="m349" points="464.6,264.7 464.7,267.5 464.8,270.7 464.6,273.5 464.6,277.0"/>
<polyline class="m349" points="464.6,333.4 464.5,336.7 464.8,339.7 464.6,342.7"/>
<polyline class="m350" points="466.1,332.0 465.9,335.0 466.0,337.8 466.1,341.2 466.0,344.3 466.2,347.5"/>
<polyline class="m84" points="466.6,273.2 466.4,274.9 466.4,276.4 466.6,278.6 466.9,281.1 466.7,283.5 466.9,285.1 466.9,287.4 467.2,289.3 467.2,291.1 467.5,293.2 467.6,295.2 467.6,297.5 467.5,299.6 467.8,302.2 467.7,303.7 468.1,306.1 467.9,307.9 468.2,310.0 468.3,311.8 468.2,313.8 468.5,316.1 468.6,318.5 468.6,320.8 466.5,322.0 466.5,324.7 466.5,326.8"/>
<polyline class="m61" points="467.1,278.6 467.4,282.4 467.4,284.8 467.6,288.2 467.8,291.7 468.0,295.1 468.3,298.3 468.7,301.3 466.2,304.1 466.4,307.5 466.9,310.6 466.7,314.7 467.0,317.0 467.3,321.1"/>
<polyline class="m353" points="468.2,265.0 467.9,267.5 468.1,270.1 467.9,272.0 468.1,274.6"/>
<polyline class="m353" points="467.6,323.6 467.7,326.3 467.9,328.9 467.6,331.4 467.6,334.0 467.9,336.3 467.9,339.2"/>
<polyline class="m353" points="467.0,309.5 467.0,311.8 466.9,314.5"/>
<polyline class="m353" points="468.8,276.7 468.9,274.3 468.7,271.8 468.6,269.1 469.0,265.8 468.9,263.0"/>
<polyline class="m37" points="469.8,269.7 469.5,271.8 469.6,274.1 469.9,275.7 470.2,278.1 470.1,280.3 470.3,282.0 470.3,284.1 470.1,286.0 470.6,288.6 470.7,290.7 470.5,292.6 470.7,294.7 470.9,296.1 470.9,298.3 470.9,300.7 471.1,302.7 471.1,304.4 468.6,307.2 468.9,308.6 469.1,310.8 468.8,312.6 468.8,314.8 468.9,317.4 468.9,318.7 469.0,321.3 469.1,323.0 469.6,325.0 469.5,327.1 469.7,329.3 469.6,331.3 469.9,333.3"/>
<polyline class="m26" points="470.0,275.9 470.1,279.4 470.4,282.6 470.7,285.5 470.7,289.0 471.1,292.1 468.5,294.9 468.8,298.8 469.0,301.2 469.0,305.2 469.2,307.8 469.5,311.4 469.6,314.6 470.0,317.4 469.7,320.7 470.0,324.4 470.0,327.2"/>
<polyline class="m353" points="470.6,265.0 470.2,267.5 470.3,270.2"/>
<polyline class="m353" points="469.6,331.7 469.3,334.1 469.5,336.1 469.3,338.0 469.5,340.5"/>
<polyline class="m353" points="472.2,322.3 471.8,325.2 472.1,327.8 471.8,330.4 472.0,332.8 472.1,335.3 471.9,337.8 471.9,340.8 472.1,343.8"/>
<polyline class="m84" points="471.7,268.7 472.2,270.8 472.3,272.8 472.0,274.0 472.4,276.0 472.3,278.9 472.3,280.2 472.5,282.3 472.7,284.3 472.4,286.6 472.5,288.3 472.9,290.0 473.0,292.0 473.0,294.2 472.8,296.3 472.8,298.3 473.3,300.5 473.1,302.8 473.3,304.7 473.2,306.1 470.8,308.7 471.0,310.3 471.1,312.7 471.2,314.0 471.4,316.9 471.5,318.7 471.6,320.6 471.6,322.9 471.4,324.7 471.8,326.6 471.8,329.0 472.0,330.1 472.0,332.2"/>
<polyline class="m61" points="471.7,274.6 471.9,277.4 472.1,281.2 472.3,283.9 472.4,287.2 472.8,290.2 472.6,294.0 472.8,297.0 473.2,300.3 473.2,303.8 473.4,306.7 471.0,310.1 471.4,313.4 471.3,316.4 471.5,320.5 471.6,323.8 472.1,326.4"/>
<polyline class="m353" points="472.9,256.7 472.9,259.9 472.9,263.0 472.7,266.2 472.8,269.3"/>
<polyline class="m353" points="472.9,331.0 472.6,333.4 472.8,336.0 472.6,339.0 473.0,341.8"/>
<polyline class="m353" points="471.4,281.7 471.4,283.6 471.5,285.8 471.4,288.1 471.5,290.0 471.5,291.7 471.5,293.6"/>
<polyline class="m354" points="474.2,278.6 474.5,276.2 474.2,273.5 474.2,270.6 474.3,268.2 474.6,265.6 474.2,262.7 474.5,260.4 474.6,257.6 474.4,254.7 474.5,251.8 474.3,249.0"/>
<polyline class="m164" points="475.1,270.0 475.2,272.6 475.3,274.7 475.1,275.9 475.3,278.6 475.2,280.6 475.6,282.6 475.3,284.5 475.4,286.1 475.8,289.0 475.8,290.6 473.5,292.5 473.5,294.4 473.4,296.4 473.6,298.6 473.5,301.0 473.6,302.6 474.1,305.1 473.9,307.4 474.1,309.3 474.2,311.4 474.1,313.1 474.4,315.1 474.5,317.8 474.6,319.1 474.5,321.9 474.3,323.8 474.5,325.6 474.9,327.7 474.8,329.3 474.7,331.8 475.0,333.6"/>
<polyline class="m119" points="474.5,276.6 474.7,279.5 475.1,283.1 475.4,286.2 475.3,289.4 475.4,292.4 475.7,295.7 475.8,298.8 473.7,302.3 473.8,305.4 473.8,308.1 474.2,311.4 473.8,315.0 474.3,318.2 474.4,321.5 474.6,324.8 474.8,328.2"/>
<polyline class="m354" points="474.3,261.8 474.5,264.5 474.3,267.3 474.6,270.1 474.3,272.7"/>
<polyline class="m354" points="475.2,332.2 474.9,334.9 475.0,338.4 475.3,341.8"/>
<polyline class="m47" points="478.0,275.5 478.0,278.0 478.0,279.4 477.9,281.3 475.6,283.8 475.8,285.3 476.0,287.9 476.0,289.6 476.0,291.9 476.1,293.1 476.4,296.1 476.2,297.2 476.8,299.9 476.7,301.1 476.6,303.8 476.6,305.2 477.0,307.2 477.2,309.4 476.9,311.5 477.3,313.7 477.2,315.5 477.3,318.0 477.3,319.5 477.5,321.6 477.8,323.8 477.5,326.0 478.0,327.8"/>
<polyline class="m31" points="476.4,281.4 476.6,285.1 476.7,288.0 476.6,291.2 477.2,294.6 477.4,298.2 477.7,301.4 477.7,305.3 477.9,307.8 478.2,311.5 476.0,315.2 476.1,318.7 476.4,321.5"/>
<polyline class="m355" points="477.0,268.5 476.8,270.8 477.1,272.9 476.8,275.2 476.8,277.6"/>
<polyline class="m355" points="477.1,327.1 476.8,329.5 476.9,332.1 477.0,335.3 477.2,338.1"/>
<polyline class="m355" points="477.8,324.5 477.9,326.8 477.8,329.6 477.9,332.5 478.1,335.3 478.0,338.2 477.9,340.7 477.8,343.3 478.1,345.9 478.2,348.6 477.8,351.2 477.8,353.5 478.2,355.8 477.9,358.7 477.8,361.6 477.9,364.4"/>
<polyline class="m381" points="478.8,280.8 479.1,278.0 478.9,275.1 479.2,272.6 479.0,270.1 479.1,267.3 478.9,264.7 479.2,262.2 478.9,259.8 479.2,256.8 479.0,253.8 478.9,250.9 478.8,248.3 478.8,245.7 479.0,243.2 479.0,240.3 479.1,237.8 479.0,235.3 479.0,232.3 479.1,229.2"/>
<polyline class="m255" points="480.1,266.1 480.1,268.6 480.1,270.6 480.3,272.6 480.3,274.4 480.5,276.4 480.2,278.4 480.4,281.1 478.3,283.4 478.3,285.3 478.4,287.2 478.5,288.6 478.6,290.9 478.4,293.3 478.5,295.2 478.7,296.8 478.9,299.7 479.1,301.2 478.9,303.7 478.9,305.3 479.3,307.8 479.3,309.1 479.3,311.8 479.6,313.4 479.4,315.2 479.7,318.0 479.8,319.4 479.6,321.3 479.6,323.4 480.0,325.6 479.9,327.8"/>
<polyline class="m211" points="480.1,273.0 480.5,275.7 478.0,279.2 478.5,282.7 478.3,285.6 478.8,289.1 478.9,292.7 478.8,295.7 479.3,298.8 479.4,302.3 479.7,305.4 479.4,308.3 480.0,312.1 480.0,314.8 480.1,318.8 480.4,322.3"/>
<polyline class="m381" points="478.6,257.8 478.8,260.2 478.5,262.8 478.7,265.4 478.4,267.5"/>
<polyline class="m381" points="480.0,325.5 479.9,328.4 480.2,331.0 480.0,333.6 480.2,335.9"/>
<polyline class="m381" points="479.6,304.0 479.5,306.8 479.5,309.4"/>
<polyline class="m356" points="479.5,346.0 479.3,348.9 479.3,351.8 479.4,354.4"/>
<polyline class="m106" points="480.7,274.5 480.8,276.2 481.0,277.9 481.0,280.3 481.0,282.8 481.2,284.7 481.1,286.5 481.0,288.3 481.2,290.8 481.3,292.2 481.3,294.9 481.8,296.6 481.8,298.4 481.5,300.4 481.7,302.4 482.1,305.0 482.1,306.3 481.9,309.0 482.1,310.5 482.4,313.2 482.1,314.5 482.3,316.6 482.5,318.7 482.8,321.3 482.7,322.8 482.9,325.4 482.9,327.1 482.9,329.4 480.6,331.0 480.6,332.7"/>
<polyline class="m79" points="481.8,280.4 481.7,283.7 482.0,287.0 482.5,290.0 482.4,293.4 482.8,297.0 482.8,300.1 480.5,303.5 480.9,307.0 481.1,310.6 481.3,313.4 481.2,317.3 481.3,321.0 481.7,323.8 481.9,326.7"/>
<polyline class="m340" points="481.7,263.4 481.8,265.8 481.9,268.4 481.9,270.5 481.7,272.9 481.5,275.1"/>
<polyline class="m340" points="482.4,330.7 482.4,333.3 482.0,336.4 482.1,339.6 482.2,342.9 482.1,345.6"/>
<polyline class="m340" points="482.4,284.5 482.5,286.6 482.5,289.3"/>
<polyline class="m317" points="483.3,271.1 483.4,272.6 483.4,274.6 483.2,277.2 483.6,278.8 483.8,281.5 483.5,283.4 483.8,285.4 483.9,287.6 484.0,289.6 483.7,291.2 483.9,292.8 483.9,295.0 483.9,297.5 484.4,299.0 484.2,301.7 484.4,303.2 484.2,305.0 484.6,307.2 484.8,309.1 484.8,311.4 484.7,313.2 484.9,315.8 484.8,317.6 485.1,319.7 485.0,321.7 485.0,323.4 485.3,326.1 485.2,328.2 482.8,329.9 482.9,331.8 483.0,333.5"/>
<polyline class="m313" points="484.9,277.4 485.3,280.6 485.5,283.8 483.2,287.0 483.3,290.7 483.6,293.9 483.7,296.8 483.9,300.6 484.0,304.3 483.8,307.7 483.9,311.4 484.3,314.7 484.5,317.2 484.5,320.9 484.8,324.6 484.8,327.6"/>
<polyline class="m381" points="484.5,258.8 484.4,261.8 484.6,265.3 484.2,268.5 484.2,271.6"/>
<polyline class="m381" points="484.2,331.6 483.8,333.9 483.9,336.3 484.0,338.6 483.8,340.6 483.9,343.0 484.0,345.3"/>
<polyline class="m381" points="484.4,306.0 484.5,308.9 484.4,312.1 484.5,314.6"/>
<polyline class="m358" points="484.7,250.0 484.8,254.5 485.2,259.1 484.6,263.7 485.5,268.4 485.1,272.6 485.1,276.2 484.5,279.8 484.4,284.2 485.3,288.2 484.9,292.8 485.2,296.7 485.4,301.2 484.7,305.4 485.1,309.6 484.6,313.1 484.7,317.7 484.6,321.3 485.0,325.2 485.3,329.7 485.2,334.1 484.4,338.0 484.9,342.4 484.9,346.6 484.6,350.6 484.6,354.4 485.3,358.3 484.9,362.0 485.0,366.1 485.1,369.6"/>
<polyline class="m357" points="485.3,225.8 484.7,231.2 485.4,236.1 485.1,242.0 485.1,248.0 485.0,252.9 484.9,257.9 484.8,263.2 485.5,269.5 485.6,275.2 484.8,280.6 485.2,285.7 485.1,291.0 485.5,296.4 485.1,301.6 484.7,307.3 485.3,313.7 485.5,319.0 484.8,325.3 485.1,330.4 484.9,336.8 485.3,341.8 485.7,347.6 485.6,353.7 485.5,359.8 485.6,364.7 485.4,370.9"/>
<polyline class="m357" points="485.6,347.0 485.6,353.5 485.6,360.0 485.6,366.5 485.6,373.0"/>
<polyline class="m309" points="542.6,272.3 542.7,274.6 542.7,275.8 542.9,278.3 541.9,280.5 542.1,282.3 541.8,284.2 541.8,286.1 542.2,288.1 542.0,290.6 542.1,291.8 542.0,294.1 542.0,296.2 542.4,298.1 542.4,300.3 542.4,302.8 542.3,304.3 542.6,306.5 542.2,308.7 542.2,310.0 542.5,312.0 542.7,314.0 542.4,316.5 542.6,318.6 542.8,320.4 542.6,322.5 542.6,324.1 542.7,326.0 542.5,328.0 542.8,330.8"/>
<polyline class="m292" points="541.8,278.4 541.9,281.2 542.3,285.2 542.5,287.9 542.5,291.3 542.7,294.4 542.8,297.8 543.0,301.1 543.1,304.4 543.3,308.3 543.6,310.8 541.4,314.7 541.7,318.2 541.4,321.3 542.0,324.4"/>
<polyline class="m350" points="542.1,264.7 541.8,267.4 542.0,270.2 542.0,272.6"/>
<polyline class="m350" points="542.7,327.7 542.4,331.2 542.5,333.9 542.9,336.9 542.6,339.7"/>
<polyline class="m350" points="542.3,328.3 542.4,330.6 542.5,333.3 542.4,336.0 542.6,338.7 542.6,341.6 542.2,344.3 542.5,346.9 542.6,349.3 542.4,351.8 542.6,354.1 542.6,356.5 542.3,359.5 542.5,362.3 542.5,365.5"/>
<polyline class="m350" points="542.5,277.5 542.5,274.6 542.5,272.3 542.5,269.3 542.5,266.1 542.5,262.7"/>
<polyline class="m350" points="543.3,323.6 543.6,325.9 543.5,328.8 543.4,331.3 543.6,333.9 543.5,336.6 543.3,339.3 543.4,342.2 543.6,344.7 543.5,347.7 543.6,350.5 543.4,353.1 543.3,355.9 543.3,358.6 543.6,361.3 543.4,363.9 543.5,366.9 543.3,369.5"/>
<polyline class="m351" points="543.6,327.0 543.5,329.8 543.9,332.2 543.6,335.0"/>
<polyline class="m9" points="545.7,275.6 545.8,277.7 545.6,279.5 545.7,281.1 545.8,283.4 546.0,285.6 543.5,287.8 543.7,289.5 544.0,291.9 544.0,293.9 544.1,296.3 544.2,298.4 544.1,300.4 544.5,302.3 544.6,304.1 544.6,306.5 544.6,308.1 544.5,310.0 544.5,312.3 544.6,314.5 544.9,316.2 545.0,318.4 544.9,320.2 545.2,323.2 545.2,324.6 545.1,327.0 545.7,328.4 545.5,331.2"/>
<polyline class="m4" points="543.8,281.6 543.8,285.0 543.9,288.1 544.3,291.2 544.5,294.9 544.6,298.3 544.9,301.3 544.8,305.1 545.2,308.1 545.1,311.4 545.6,315.3 545.5,318.5 546.1,321.6 543.8,324.5"/>
<polyline class="m351" points="545.6,267.8 545.3,270.4 545.5,272.9 545.6,275.3 545.7,278.0"/>
<polyline class="m350" points="544.5,328.9 544.1,331.7 544.1,334.4 544.1,337.1 544.4,339.8"/>
<polyline class="m351" points="545.0,281.6 545.0,278.8 544.8,276.5 544.9,274.2 545.1,271.4 544.9,268.7 545.2,266.0 544.8,263.4 544.9,260.2"/>
<polyline class="m350" points="545.7,322.6 545.4,325.2 545.7,327.8 545.7,330.5 545.7,332.8 545.3,335.5 545.4,338.3 545.4,341.2 545.6,344.1 545.5,346.8 545.5,349.1 545.3,352.0 545.5,354.4 545.4,357.4 545.7,359.9 545.4,362.5"/>
<polyline class="m246" points="546.7,272.2 546.7,274.1 546.5,276.3 546.8,278.2 546.9,279.9 546.8,282.0 547.1,284.7 547.4,286.4 547.0,288.0 547.1,290.3 547.4,292.0 547.4,294.4 547.8,296.7 547.8,298.5 547.9,300.1 547.9,302.6 548.1,304.4 548.2,306.4 548.2,308.6 548.4,309.9 548.1,312.0 545.9,314.5 545.9,316.8 546.3,318.5 546.0,320.3 546.2,322.0 546.3,324.6 546.8,326.0"/>
<polyline class="m203" points="547.5,277.7 547.8,281.9 548.0,284.4 548.0,287.5 548.3,291.3 546.3,294.4 546.3,298.0 546.7,301.2 546.9,303.8 547.0,307.1 547.1,310.5 547.2,313.8 547.3,316.8 547.6,320.3"/>
<polyline class="m354" points="547.1,266.6 547.3,269.6 547.1,272.8"/>
<polyline class="m354" points="547.4,324.9 547.5,328.4 547.5,331.2 547.3,334.7"/>
<polyline class="m354" points="547.5,322.9 547.7,325.2 547.5,328.2 547.5,331.1 547.4,333.7 547.4,336.6 547.7,339.5 547.5,342.1 547.7,345.3 547.7,348.5"/>
<polyline class="m286" points="550.7,275.5 550.8,278.0 550.4,280.3 550.9,282.2 548.4,284.1 548.6,286.0 548.4,288.0 548.4,290.5 548.7,292.9 548.7,294.7 549.1,296.5 549.0,298.7 549.1,301.0 549.0,302.7 549.3,304.6 549.3,306.7 549.6,308.6 549.6,311.2 549.4,313.6 549.7,315.1 550.0,317.1 549.7,319.2 549.9,321.2 550.0,323.1 550.1,325.4 550.2,327.6 550.4,329.5 550.6,332.1 550.7,334.1"/>
<polyline class="m274" points="550.2,282.1 550.2,285.4 550.5,288.2 550.6,291.7 548.3,294.9 548.6,298.3 548.8,301.5 548.7,304.7 548.9,308.6 549.2,311.3 549.2,314.5 549.7,318.2 550.0,321.4 550.0,324.8 550.2,327.5"/>
<polyline class="m382" points="549.8,270.4 549.8,273.5 550.1,276.9"/>
<polyline class="m382" points="549.6,331.1 549.9,333.4 550.0,335.6 549.7,337.9 549.9,340.4"/>
<polyline class="m382" points="550.4,279.8 550.5,282.3 550.3,284.9"/>
<polyline class="m352" points="548.4,274.5 548.4,268.5 548.4,262.5 548.4,255.5"/>
<polyline class="m353" points="548.4,248.2 548.4,243.3 548.4,240.2"/>
<polyline class="m80" points="552.4,279.6 552.3,281.0 552.6,283.2 552.7,285.1 552.8,287.9 553.0,289.4 552.9,291.3 552.8,293.6 553.3,295.4 551.0,297.7 550.8,300.1 551.1,301.3 551.0,303.2 551.1,306.0 551.3,308.2 551.5,309.3 551.4,311.6 551.5,313.6 551.6,315.5 551.8,317.8 551.9,320.2 552.0,322.3 552.0,323.9 552.2,326.4 552.4,327.7 552.3,329.7"/>
<polyline class="m60" points="552.7,285.0 553.1,288.0 550.9,291.5 551.3,295.2 551.1,298.0 551.2,301.0 551.8,304.7 552.0,307.6 552.1,311.4 552.4,314.7 552.7,317.4 552.6,320.6 553.0,324.1"/>
<polyline class="m355" points="551.2,273.6 551.5,276.1 551.3,278.6 551.1,281.3"/>
<polyline class="m355" points="551.4,329.3 551.4,332.1 551.5,335.1 551.4,338.1"/>
<polyline class="m381" points="552.0,274.5 551.8,276.2 552.1,278.5 551.8,280.6 552.0,282.7 552.0,284.4"/>
<polyline class="m355" points="552.9,323.4 552.8,325.8 553.0,328.4 552.8,330.9 552.9,333.6 552.9,335.9 552.8,338.5 552.9,341.0 552.8,344.0 553.1,347.2 553.1,350.0"/>
<polyline class="m169" points="554.5,274.8 554.9,277.5 555.1,279.2 554.9,281.6 555.0,283.1 555.3,285.2 555.5,287.3 555.2,289.0 555.3,291.1 555.5,293.1 555.8,295.6 553.1,297.5 553.2,299.5 553.7,301.3 553.7,303.3 553.5,306.1 553.7,307.4 554.1,309.4 553.7,311.3 554.2,314.2 554.3,315.4 554.3,317.4 554.1,320.2 554.2,322.0 554.2,323.4 554.3,326.1 554.8,328.3 554.8,329.5"/>
<polyline class="m123" points="554.4,281.0 554.7,284.5 554.6,288.1 554.9,291.0 555.0,294.2 555.5,297.9 555.5,300.9 553.2,304.0 553.4,307.5 553.9,310.4 553.9,313.8 554.3,317.5 554.1,321.0 554.4,323.6"/>
<polyline class="m397" points="554.0,265.7 554.2,268.8 553.9,271.6 554.1,274.6 554.3,277.8"/>
<polyline class="m397" points="554.3,328.9 554.2,331.1 554.0,333.2 554.1,335.7"/>
<polyline class="m397" points="553.8,296.8 553.8,298.9 553.8,301.2 553.8,303.5 553.8,305.6 553.8,307.6 553.9,309.6"/>
<polyline class="m179" points="555.9,273.1 555.7,274.9 555.9,277.5 555.8,279.2 555.9,281.8 556.2,283.2 556.2,285.3 556.5,287.2 556.5,289.5 556.7,292.3 556.7,293.9 556.6,296.3 556.9,298.3 557.0,300.4 556.7,302.3 557.0,304.4 557.1,306.5 557.0,308.3 557.1,310.1 557.4,312.2 557.4,314.3 557.6,316.5 557.4,318.6 557.5,321.0 557.6,322.7 558.0,324.9 558.1,326.5 555.8,329.4 555.8,331.2"/>
<polyline class="m134" points="556.2,279.7 556.1,282.8 556.4,285.8 556.8,288.7 556.9,292.7 557.1,296.0 557.4,298.7 557.4,302.0 557.3,305.3 557.7,308.5 557.9,311.7 555.6,315.2 555.9,318.3 555.9,321.9 556.0,324.8"/>
<polyline class="m356" points="556.9,264.4 556.8,266.9 557.2,269.3 557.0,271.9 557.1,274.3"/>
<polyline class="m356" points="556.6,328.4 556.7,330.8 556.6,333.3 556.7,335.5"/>
<polyline class="m356" points="557.7,327.0 557.5,329.4 557.5,332.0 557.5,334.9 557.7,337.5"/>
<polyline class="m300" points="558.6,276.9 558.9,278.7 558.8,281.0 559.0,282.6 559.0,284.8 559.3,286.7 559.3,288.6 559.1,290.7 559.2,293.3 559.3,295.0 559.8,296.4 559.5,298.9 559.6,300.5 560.0,303.0 560.1,305.0 560.1,307.2 560.2,308.6 560.3,311.2 560.5,312.6 560.3,314.7 557.8,316.9 558.0,318.8 558.4,320.8 558.4,323.0 558.5,325.0 558.4,326.5 558.7,328.7 558.6,330.5 558.7,332.9"/>
<polyline class="m265" points="558.9,282.2 558.9,286.4 559.1,289.2 559.0,293.2 559.5,296.1 559.5,299.4 559.5,302.9 559.7,306.3 560.3,309.6 560.1,313.3 558.2,316.7 558.5,320.2 558.6,323.2 558.4,326.5"/>
<polyline class="m357" points="559.8,268.5 559.9,270.6 559.9,272.7 559.9,274.6 559.7,277.0 559.8,278.9"/>
<polyline class="m357" points="559.5,330.2 559.7,333.0"/>
<polyline class="m357" points="559.5,296.8 559.5,298.7 559.5,300.5"/>
<polyline class="m357" points="559.9,326.1 560.0,329.1 560.2,331.8 560.0,335.0"/>
<polyline class="m358" points="560.8,280.2 560.4,277.5 560.5,275.0 560.5,272.2 560.8,269.3 560.5,266.6 560.6,264.3 560.6,261.9 560.4,259.5 560.4,256.6 560.5,253.3"/>
<polyline class="m222" points="560.5,277.9 560.6,279.4 560.7,281.5 560.7,283.5 561.0,285.8 560.8,287.5 561.1,290.0 561.1,291.9 561.2,293.8 561.2,296.1 561.3,298.0 561.4,300.0 561.5,302.5 561.8,303.7 561.6,306.5 562.0,308.0 562.2,310.1 562.2,312.4 562.3,314.4 562.4,316.3 562.3,318.3 562.3,320.6 562.7,322.4 562.6,324.0 562.9,326.1 560.3,328.9 560.6,330.7"/>
<polyline class="m171" points="560.6,283.8 560.9,287.2 561.1,290.0 561.0,293.3 561.2,296.8 561.7,301.0 561.7,303.6 562.1,307.2 562.0,310.5 562.2,314.8 562.5,317.5 563.0,321.5 560.6,324.5"/>
<polyline class="m358" points="561.9,271.6 561.9,274.7 561.6,278.0"/>
<polyline class="m358" points="561.9,330.0 561.9,333.0"/>
<polyline class="m359" points="562.5,266.5 562.7,268.9 562.4,271.6"/>
<polyline class="m214" points="563.2,271.4 563.4,273.2 563.7,275.7 563.6,277.2 563.5,279.4 564.0,282.1 564.1,283.8 563.9,285.7 564.1,287.9 564.0,289.9 564.2,292.0 564.2,293.6 564.5,295.9 564.4,297.7 564.9,300.1 564.9,302.7 564.6,304.3 564.8,306.9 565.1,308.6 565.2,310.3 565.1,312.5 563.0,314.9 563.1,316.4 563.1,318.6 563.3,321.3 563.4,322.7 563.2,324.5 563.5,327.4 563.2,329.0"/>
<polyline class="m161" points="564.9,277.5 564.7,280.1 565.1,283.9 562.8,287.6 563.0,290.2 563.0,293.6 563.2,296.8 563.5,300.5 563.7,303.6 563.7,306.8 563.9,310.2 564.5,313.8 564.3,316.2 564.4,320.3 564.7,323.0"/>
<polyline class="m359" points="564.4,262.0 564.5,264.8 564.7,268.2 564.4,271.3"/>
<polyline class="m359" points="564.2,326.3 564.2,329.1 564.4,331.8 564.3,334.0 564.4,336.8 564.1,339.4"/>
<polyline class="m179" points="566.7,278.9 566.8,280.2 566.8,282.8 567.0,284.7 567.4,286.4 567.2,288.9 567.6,290.5 567.6,292.9 565.1,294.7 565.5,297.1 565.6,299.4 565.3,301.4 565.4,303.3 565.9,305.4 565.8,307.9 565.7,309.1 565.9,311.6 566.1,313.6 566.0,315.6 566.0,317.5 566.4,320.3 566.7,321.5 566.6,323.9 566.6,326.0 566.6,327.8 566.9,330.3 567.0,332.5"/>
<polyline class="m134" points="567.1,285.0 567.0,288.2 567.3,290.7 565.4,294.5 565.6,297.6 565.8,300.6 565.7,304.2 565.7,306.9 566.1,310.3 566.3,313.1 566.3,316.9 566.8,320.2 566.9,323.2 567.0,326.4"/>
<polyline class="m359" points="565.7,272.5 565.8,275.8 565.8,278.8 565.5,281.4"/>
<polyline class="m359" points="565.8,330.4 565.9,332.5 566.1,334.5 566.0,336.7 566.1,338.7"/>
<polyline class="m359" points="567.1,327.0 567.2,329.2 567.2,332.1 567.1,334.6 567.4,337.4 567.2,340.5 567.5,343.8 567.2,347.2 567.1,350.5 567.1,354.2 567.3,357.5 567.1,361.8 567.2,365.5"/>
<polyline class="m361" points="568.8,324.0 568.8,326.6 568.7,329.3 568.9,331.5 568.8,334.2"/>
<polyline class="m193" points="567.8,271.2 567.9,273.6 567.9,275.1 567.7,277.8 568.2,279.7 568.1,281.1 568.0,283.4 568.5,286.1 568.3,287.5 568.5,289.6 568.4,291.7 568.8,293.9 568.9,295.8 568.8,297.6 568.8,299.5 568.8,302.2 569.1,304.5 569.2,305.7 569.2,308.1 569.4,309.9 569.3,312.6 569.5,314.6 569.5,316.5 569.9,318.0 570.0,320.8 570.1,322.1 569.9,324.6 567.7,326.7"/>
<polyline class="m143" points="569.8,277.3 570.1,280.5 567.9,284.3 568.0,287.1 568.2,290.6 568.4,294.3 568.4,297.1 568.7,301.0 568.5,304.2 569.1,307.2 569.3,310.4 569.4,314.3 569.4,317.8 569.6,321.0"/>
<polyline class="m361" points="568.2,263.2 568.2,266.2 568.3,269.6 568.2,272.3"/>
<polyline class="m361" points="568.4,325.7 568.4,328.2 568.1,331.3 568.3,334.0 568.4,336.9"/>
<polyline class="m361" points="569.2,278.5 569.2,275.5 569.2,273.2 569.5,270.2 569.2,267.0 569.4,264.1 569.5,261.1 569.4,257.1 569.3,253.6 569.2,249.5 569.4,245.2"/>
<polyline class="m220" points="572.2,273.6 572.3,275.9 572.2,277.5 572.4,280.0 570.1,282.0 570.4,284.2 570.3,286.2 570.3,287.5 570.2,289.5 570.7,291.8 570.5,293.5 570.7,295.7 570.8,297.4 570.7,300.2 570.8,301.5 571.2,303.8 571.2,305.6 571.5,307.5 571.3,309.8 571.6,312.1 571.6,314.1 571.7,315.6 571.6,317.6 572.0,320.3 572.1,321.8 572.2,324.2 572.2,325.8"/>
<polyline class="m166" points="571.4,279.9 571.6,283.1 571.8,286.0 572.4,290.3 569.9,292.9 570.4,296.5 570.3,299.5 570.8,303.1 570.8,306.4 570.9,309.6 571.3,313.4 571.4,317.1 571.8,319.6"/>
<polyline class="m361" points="571.8,261.9 571.5,264.6 571.9,267.6 571.7,270.0 571.6,272.7 571.7,275.4"/>
<polyline class="m361" points="571.0,325.4 571.1,328.4 571.2,330.7 571.1,333.0"/>
<polyline class="m361" points="571.5,308.3 571.4,311.4 571.4,313.9"/>
<polyline class="m204" points="574.5,279.3 574.9,281.4 575.0,284.0 572.7,285.8 572.7,287.7 572.4,289.6 572.7,292.0 572.8,293.8 572.8,296.4 573.0,298.1 573.0,299.8 573.3,302.7 573.2,304.6 573.3,306.4 573.4,308.1 573.9,310.5 573.6,313.0 573.8,315.1 574.2,316.4 574.1,319.3 574.0,320.5 574.2,323.5 574.2,325.6 574.4,326.9"/>
<polyline class="m183" points="574.7,285.2 572.3,289.0 572.7,291.8 572.8,295.0 573.1,298.3 573.1,302.0 573.5,305.3 573.7,308.6 573.9,311.8 574.1,314.3 574.2,317.8 574.5,321.2"/>
<polyline class="m364" points="573.5,271.6 573.7,274.5 573.6,278.1 573.5,281.3"/>
<polyline class="m364" points="574.2,327.1 574.0,330.2 574.2,333.0"/>
<polyline class="m364" points="572.9,288.8 572.8,291.1 572.9,293.4 572.8,295.4 572.9,297.7 572.9,299.6"/>
<polyline class="m364" points="573.8,324.6 573.9,326.8 573.9,329.2 573.8,332.4 573.6,335.0"/>
<polyline class="m364" points="573.9,281.2 574.1,278.4 573.9,276.1 574.2,273.4 574.1,270.8 574.1,268.2 574.1,265.3 574.1,262.9 574.1,259.9 573.9,257.4 574.1,254.7"/>
<polyline class="m230" points="576.3,279.9 576.4,281.8 576.5,284.0 576.2,286.1 576.7,288.1 576.4,289.6 576.7,291.9 577.0,294.2 577.1,296.2 576.9,297.9 576.9,299.4 577.2,302.0 574.8,304.0 575.2,305.7 575.1,307.7 575.0,309.9 575.1,311.5 575.2,313.6 575.4,316.0 575.6,318.0 575.7,320.2 575.9,321.3 575.6,323.9 575.9,325.5 575.7,327.6 576.1,330.1 576.3,331.5 576.0,333.6"/>
<polyline class="m212" points="576.6,285.2 576.6,289.3 576.9,292.6 576.7,294.9 577.2,298.7 574.7,301.9 575.1,304.9 575.2,308.6 575.5,311.4 575.7,315.0 575.7,317.7 576.0,321.0 576.2,324.4 576.6,328.1"/>
<polyline class="m364" points="576.5,269.4 576.6,272.6 576.3,275.8 576.3,278.3 576.5,281.3"/>
<polyline class="m364" points="576.4,333.0 576.4,333.0"/>
<polyline class="m364" points="575.3,293.6 575.4,296.3"/>
<polyline class="m365" points="578.0,279.1 577.9,276.3 577.9,273.4 577.9,271.1 578.1,268.1 578.0,265.5 578.0,263.2 577.8,260.7 578.2,257.6 577.8,254.3 578.0,251.5 578.1,248.4 578.0,245.2"/>
<polyline class="m126" points="577.9,279.4 577.7,281.6 578.0,283.6 578.3,285.7 578.3,287.3 578.2,289.6 578.3,292.2 578.4,293.7 578.6,295.9 578.6,298.4 579.0,300.1 579.0,302.1 578.8,304.2 579.2,306.4 579.2,308.5 579.5,310.2 579.2,312.5 579.6,314.1 577.3,316.8 577.1,318.4 577.3,320.4 577.6,322.6 577.8,324.5 577.8,326.6 577.6,328.5"/>
<polyline class="m92" points="579.2,285.5 579.4,288.4 577.1,291.8 577.6,295.8 577.5,299.0 577.7,302.7 578.2,305.7 578.3,309.7 578.7,312.6 578.7,316.4 578.9,319.3 579.4,323.2"/>
<polyline class="m365" points="578.7,269.4 578.6,272.2 578.7,275.0 578.7,277.7 578.7,280.5"/>
<polyline class="m365" points="578.2,327.7 578.5,330.4 578.5,333.3"/>
<polyline class="m365" points="578.0,301.0 578.0,303.0 578.0,305.4 578.1,307.4 578.0,309.7 578.0,311.9"/>
<polyline class="m10" points="580.5,271.6 580.2,273.4 580.5,275.7 580.7,277.3 580.8,279.4 581.0,281.8 580.7,283.6 581.0,286.1 580.9,288.1 581.3,290.1 581.2,291.4 581.1,293.7 581.2,295.5 581.3,297.6 581.3,300.1 581.6,301.7 581.9,303.9 581.7,306.3 582.0,308.0 582.0,310.7 582.1,312.7 579.5,314.0 579.9,316.3 579.9,318.2 580.0,320.6 580.1,322.3 579.8,324.4 580.2,326.9 580.1,328.7 580.3,330.4 580.6,332.7"/>
<polyline class="m3" points="581.3,277.3 581.4,281.0 581.6,284.0 582.0,286.7 579.7,290.0 579.7,294.3 580.0,296.6 580.3,300.1 580.2,303.4 580.6,307.0 580.5,309.9 580.6,313.3 580.9,316.4 581.2,320.6 581.2,323.6 581.5,327.2"/>
<polyline class="m335" points="579.8,260.8 579.9,263.8 579.9,266.4 580.2,269.7 579.8,272.2"/>
<polyline class="m335" points="580.7,331.2 580.8,334.1 580.7,336.5 580.5,339.4"/>
<polyline class="m367" points="583.1,323.7 582.8,326.5 583.1,329.2 582.8,331.9 583.2,334.8 583.0,337.5 582.9,339.8 582.8,342.6 582.8,345.3 583.0,347.8 583.1,350.6 582.9,353.4 583.2,356.1 583.2,358.7 583.2,361.5 583.1,363.8 583.1,366.8 583.1,369.4 582.8,372.3 583.0,375.5"/>
<polyline class="m97" points="583.2,273.6 583.4,276.0 583.2,278.1 583.4,280.0 583.3,281.5 583.6,284.3 583.8,286.3 583.6,288.2 583.9,289.9 583.9,292.0 583.8,293.6 584.1,295.6 584.1,297.6 584.2,300.4 584.2,302.4 581.9,303.8 582.1,306.5 582.4,308.3 582.5,309.6 582.3,312.1 582.6,314.3 582.6,316.3 582.8,317.7 582.8,320.4 583.1,322.5 583.1,323.6 583.0,326.5 582.8,327.6 582.9,329.9"/>
<polyline class="m71" points="582.3,280.2 582.9,283.4 582.6,286.3 583.2,290.2 583.2,293.1 583.2,297.2 583.5,300.3 583.9,303.6 584.1,307.2 584.0,310.3 584.2,313.4 581.9,317.4 582.5,320.8 582.4,323.8"/>
<polyline class="m370" points="583.7,262.8 583.4,265.2 583.6,267.7 583.5,269.8 583.6,272.3 583.3,274.8 583.5,276.9"/>
<polyline class="m367" points="583.0,328.1 583.2,330.8 582.9,333.3 582.7,336.4 582.9,339.1"/>
<polyline class="m370" points="583.4,282.5 583.4,284.9 583.4,287.8 583.3,290.4 583.2,293.4"/>
<polyline class="m370" points="583.1,278.3 583.1,276.0 583.3,273.6 583.4,271.0 583.2,268.2 583.0,265.4 583.0,262.6 583.1,259.9 583.3,257.5 583.4,254.8 583.4,252.4 583.2,250.0 583.1,247.7 583.1,245.2 583.3,242.6 583.3,239.8 583.2,236.7"/>
<polyline class="m369" points="583.7,326.0 583.7,328.3 583.8,330.4 583.7,332.8 583.8,335.2 583.7,337.7 583.8,339.7 583.7,342.1 583.7,344.2 583.7,346.1 583.7,348.0 583.8,350.5 583.8,353.0 583.7,355.2"/>
<polyline class="m288" points="585.8,276.7 585.4,279.1 585.9,281.0 586.0,283.2 585.8,284.9 585.8,286.5 586.2,288.6 586.4,290.5 586.0,293.1 586.3,295.2 586.7,296.6 586.4,299.2 586.8,300.7 586.7,302.7 584.4,304.8 584.4,307.7 584.7,309.1 584.5,311.0 584.9,313.6 584.7,315.7 584.8,317.6 585.3,320.0 585.1,321.6 585.3,323.7 585.3,325.7 585.6,327.7 585.3,329.9"/>
<polyline class="m251" points="585.0,282.8 585.4,286.6 585.6,289.1 585.8,293.1 586.0,296.6 586.0,299.8 586.4,303.6 586.3,306.9 586.5,309.9 584.3,313.7 584.8,316.7 584.7,320.5 584.9,323.8"/>
<polyline class="m370" points="585.1,272.2 585.2,274.8 585.1,276.9 585.0,279.2"/>
<polyline class="m370" points="585.7,328.8 585.8,331.5 585.9,334.3 585.7,336.5 585.9,339.0 585.6,341.5"/>
<polyline class="m370" points="586.5,281.8 586.3,279.2 586.4,276.5 586.4,273.8 586.1,271.4 586.4,269.1 586.3,266.3 586.1,264.0 586.4,261.6 586.4,259.0 586.2,256.7 586.2,254.2 586.3,251.4 586.2,249.1 586.1,246.4 586.3,243.8 586.3,241.4 586.2,238.6 586.2,235.2"/>
<polyline class="m370" points="587.5,325.1 587.4,328.8 587.4,333.7 587.5,338.8 587.4,343.2 587.3,348.1 587.5,353.0 587.3,359.5 587.3,365.0"/>
<polyline class="m97" points="588.0,274.7 588.1,276.8 588.2,279.7 588.0,281.7 588.4,283.2 588.1,285.5 588.4,287.6 588.4,289.1 588.4,291.3 588.5,293.1 588.8,295.9 588.7,297.5 589.1,300.1 589.3,301.8 589.4,303.7 586.8,305.5 586.7,307.8 587.2,309.4 586.9,311.9 587.3,314.2 587.2,315.7 587.2,318.3 587.6,319.6 587.5,322.2 587.4,323.8 587.5,326.2 588.0,328.1 588.0,330.5 587.7,332.0"/>
<polyline class="m71" points="588.3,280.8 588.8,284.2 588.6,287.8 588.9,291.0 586.6,294.4 586.8,297.6 587.2,300.0 587.4,304.0 587.2,307.1 587.9,309.7 588.0,313.8 588.0,316.7 588.3,319.9 588.5,323.5 588.4,326.0"/>
<polyline class="m370" points="587.9,267.6 587.8,270.3 587.8,273.3 587.7,275.9"/>
<polyline class="m370" points="588.1,330.3 588.2,332.8 588.2,335.3 588.1,337.4"/>
<polyline class="m370" points="587.7,300.2 587.6,302.6 587.6,305.1 587.6,307.2 587.6,309.2"/>
<polyline class="m368" points="587.9,320.0 587.9,322.3 588.0,324.5 588.0,326.4 587.8,328.5 587.8,330.3"/>
<polyline class="m46" points="589.8,277.3 590.0,279.5 590.2,281.6 590.5,283.8 590.2,286.0 590.6,287.9 590.7,289.9 590.8,291.8 590.8,293.3 590.8,296.0 590.7,297.5 591.3,299.8 591.4,302.2 591.3,304.2 591.3,305.5 591.5,308.3 591.7,310.2 589.3,312.1 589.1,314.3 589.5,316.2 589.2,318.5 589.6,320.1 589.6,322.1 589.7,323.7 589.6,326.1 589.7,328.4 589.8,330.6"/>
<polyline class="m30" points="589.7,283.1 590.3,286.8 590.4,290.2 590.4,293.6 590.9,296.9 591.0,300.6 591.0,303.9 591.1,307.3 591.5,310.6 589.5,313.6 589.4,317.2 589.8,320.7 589.8,324.1"/>
<polyline class="m372" points="589.7,266.6 589.8,269.3 590.0,272.1 590.1,274.9 589.9,277.8"/>
<polyline class="m372" points="591.0,329.1 591.2,332.5 591.2,335.9 591.3,338.8"/>
<polyline class="m372" points="589.7,292.2 589.7,295.2 589.8,297.7 589.8,300.4 589.8,303.2"/>
<polyline class="m372" points="590.3,276.2 590.4,273.4 590.6,270.7 590.4,268.3 590.4,265.5 590.6,262.7 590.3,260.0 590.3,257.6 590.3,254.6 590.6,251.9 590.4,248.7"/>
<polyline class="m137" points="592.6,278.4 592.7,280.6 592.9,282.9 593.1,285.0 592.8,287.3 592.9,289.0 593.4,290.9 593.3,293.1 593.2,295.1 593.3,297.1 593.6,299.7 593.5,301.6 593.6,303.3 594.1,305.4 591.5,307.9 591.7,309.9 591.7,311.7 591.7,313.8 591.9,315.9 592.0,318.2 591.9,320.1 592.0,321.7 592.5,323.9 592.5,326.4 592.7,328.5"/>
<polyline class="m100" points="593.5,285.0 593.9,287.9 591.8,291.8 591.7,295.0 592.0,297.9 592.5,301.2 592.7,305.0 592.7,309.0 592.9,311.5 593.2,314.9 593.7,318.5 593.9,322.4"/>
<polyline class="m372" points="592.3,271.2 592.2,274.4 592.2,277.4 592.0,280.8"/>
<polyline class="m372" points="592.9,325.9 592.8,328.3 593.0,330.8 593.0,333.2 592.9,335.7"/>
<polyline class="m303" points="594.2,274.9 594.5,276.4 594.4,278.8 594.5,280.4 594.7,282.6 594.9,285.3 594.5,286.7 595.0,288.6 594.8,291.1 594.9,293.3 595.0,294.7 595.2,296.8 595.2,298.9 595.4,301.7 595.6,303.7 595.7,305.3 595.8,308.0 595.9,310.0 596.0,311.8 596.1,313.6 596.0,316.3 596.2,318.1 596.4,320.0 596.0,321.7 596.5,324.1 594.0,326.6 594.2,328.2 594.1,330.3"/>
<polyline class="m279" points="594.1,280.9 594.3,284.1 594.4,287.2 594.4,290.7 594.7,293.9 594.8,297.6 594.9,301.0 595.3,303.8 595.2,307.5 595.8,310.9 596.1,314.5 595.9,317.7 596.1,321.5 593.9,324.0"/>
<polyline class="m374" points="595.5,267.0 595.4,269.7 595.6,272.1 595.4,274.7 595.7,276.9"/>
<polyline class="m374" points="595.2,328.8 595.0,331.8 595.0,334.3 594.9,337.0"/>
<polyline class="m374" points="596.1,302.7 596.0,305.4 596.1,308.4 596.0,311.0 596.0,313.8"/>
<polyline class="m374" points="596.2,282.4 596.3,279.8 596.4,277.5 596.1,274.9 596.2,272.3 596.2,269.6 596.3,267.1 596.1,264.2 596.4,262.0 596.3,259.7 596.3,257.1 596.4,254.7 596.2,251.7 596.2,248.7"/>
<polyline class="m373" points="597.4,321.2 597.1,323.6 597.3,326.3 597.3,328.7 597.2,331.7 597.2,333.9 597.4,336.8 597.1,339.7 597.3,342.3 597.2,345.2 597.0,348.1"/>
<polyline class="m247" points="597.0,279.4 596.9,281.2 597.0,283.4 597.4,285.8 597.5,287.5 597.2,289.6 597.7,291.9 597.6,293.9 597.5,295.7 597.5,298.3 597.9,299.7 597.9,302.3 598.2,303.9 598.0,306.0 598.5,308.6 598.5,310.3 598.3,311.9 598.6,314.1 598.6,316.2 598.5,318.7 596.6,320.4 596.2,322.7 596.4,324.5 596.8,326.6 596.9,328.5 596.8,330.6"/>
<polyline class="m205" points="598.1,284.8 598.3,288.6 598.5,291.9 598.8,295.2 596.1,298.2 596.5,301.6 596.6,304.7 596.8,308.8 597.0,311.6 597.4,314.6 597.6,317.9 597.9,321.2 597.8,324.8"/>
<polyline class="m373" points="597.5,274.9 597.3,277.4 597.4,279.7 597.5,282.2"/>
<polyline class="m373" points="598.1,328.2 598.3,330.8 598.3,333.4 598.3,335.9 598.0,338.6"/>
<polyline class="m373" points="597.3,302.0 597.2,303.9 597.3,305.9 597.3,308.3 597.2,310.8"/>
<polyline class="m38" points="599.3,276.7 599.9,279.0 599.7,280.6 599.8,282.6 599.8,284.9 599.9,287.1 599.8,288.6 600.2,290.8 600.1,292.6 600.5,294.7 600.4,297.3 600.7,298.7 600.7,300.6 600.5,303.3 600.6,304.6 600.8,307.1 601.1,309.3 600.8,311.2 601.1,313.4 598.7,315.3 599.0,316.7 598.7,319.3 598.9,320.8 599.4,322.9 599.4,325.2 599.1,327.4 599.4,329.6 599.4,331.3 599.5,333.5"/>
<polyline class="m27" points="599.7,282.8 599.7,286.2 600.1,289.5 600.4,293.2 600.3,296.8 600.6,299.5 600.9,303.7 600.8,307.2 598.8,310.0 598.8,313.8 599.4,316.8 599.3,320.5 599.6,324.1 599.6,327.1"/>
<polyline class="m375" points="600.7,268.6 600.7,271.8 600.7,274.3 600.6,277.4"/>
<polyline class="m375" points="599.4,330.4 599.1,332.7 599.1,335.1 599.3,337.8 599.4,340.5"/>
<polyline class="m375" points="600.9,287.2 600.8,289.2 600.9,291.6 600.9,293.6 600.8,295.7"/>
<polyline class="m375" points="600.1,279.0 600.0,276.2 600.2,273.5 599.9,270.6 599.9,267.6 600.2,265.0 600.1,262.7 600.1,260.3 600.1,257.7 600.1,255.2 600.2,252.1 600.1,249.2 599.9,246.4"/>
<polyline class="m375" points="601.4,324.4 601.4,327.1 601.4,329.5 601.5,332.0 601.5,334.4 601.2,337.0 601.1,339.8 601.1,342.5"/>
<polyline class="m18" points="601.6,276.6 601.4,279.1 601.7,280.6 601.6,282.8 601.8,284.9 601.9,287.5 602.0,289.1 602.0,291.5 602.3,293.1 602.1,294.7 602.3,297.2 602.5,298.9 602.2,301.0 602.4,302.9 602.8,304.8 602.5,307.5 602.8,309.5 603.0,310.9 602.7,313.6 603.3,315.4 602.9,317.7 603.1,318.9 603.3,321.0 603.5,323.8 603.5,325.8 601.1,327.4 601.3,329.3 601.4,331.7 601.4,333.1"/>
<polyline class="m13" points="603.4,283.2 601.5,286.5 601.4,289.7 601.5,293.1 601.7,296.3 602.1,300.3 602.0,303.5 602.2,306.7 602.8,310.7 602.6,313.6 602.9,317.2 603.3,320.5 603.1,323.6 603.5,327.0"/>
<polyline class="m375" points="602.1,269.5 602.3,272.2 602.1,274.5 602.3,277.5 602.1,279.9"/>
<polyline class="m375" points="602.1,332.0 602.3,334.1 602.2,336.6 602.0,338.5 602.3,340.5"/>
<polyline class="m376" points="603.7,324.9 603.9,328.0 603.7,330.6 603.7,333.5"/>
<polyline class="m227" points="603.9,279.0 603.7,280.1 603.8,282.8 604.1,285.0 603.8,286.8 604.0,288.6 604.0,290.6 604.4,293.0 604.1,294.5 604.6,297.0 604.6,298.4 604.5,300.4 604.8,302.6 605.1,304.4 604.9,306.4 604.8,308.9 605.3,310.6 605.4,313.0 605.2,314.9 605.4,316.4 605.6,318.5 605.5,320.9 605.4,322.7 605.8,325.1 606.0,326.4 605.9,329.3 603.7,331.0"/>
<polyline class="m180" points="604.4,284.4 604.8,287.9 605.2,290.9 605.3,295.0 605.5,298.0 605.6,301.7 605.7,304.5 603.4,307.7 603.7,311.3 604.1,314.4 604.4,318.3 604.4,321.0 604.4,325.2"/>
<polyline class="m377" points="604.9,272.0 604.8,275.0 604.8,278.2 604.7,281.6"/>
<polyline class="m376" points="604.2,329.1 604.5,331.5"/>
<polyline class="m377" points="605.7,276.9 605.4,274.5 605.8,271.6 605.4,269.0 605.5,266.2 605.6,263.7 605.5,261.0 605.8,258.1 605.4,255.8 605.6,252.9 605.7,250.4 605.5,247.7 605.7,245.4 605.4,242.7 605.8,240.4 605.4,237.6 605.4,234.8 605.6,232.1"/>
<polyline class="m56" points="606.5,279.4 607.0,280.7 606.9,283.5 606.7,284.8 607.2,287.2 607.2,288.9 607.3,291.3 607.5,293.5 607.7,295.9 607.6,297.9 607.9,299.9 608.0,301.2 607.7,303.4 608.0,306.0 608.0,308.0 608.0,310.3 608.2,312.0 605.7,314.0 606.3,315.8 606.1,318.2 606.1,319.6 606.1,322.0 606.3,324.1 606.3,325.9 606.8,328.3"/>
<polyline class="m41" points="606.6,285.3 606.8,288.2 607.1,292.1 607.2,295.7 607.4,298.5 607.4,302.4 607.5,305.7 608.1,309.0 608.3,312.5 605.8,315.9 606.2,318.4 606.3,322.6"/>
<polyline class="m377" points="606.6,267.7 606.6,270.4 606.5,272.7 606.2,275.3 606.6,277.8 606.5,279.9"/>
<polyline class="m377" points="607.1,325.2 607.3,327.9 607.4,330.2 607.1,332.8"/>
<polyline class="m377" points="607.6,283.8 607.4,280.9 607.5,278.5 607.5,275.8 607.4,273.1 607.7,270.2 607.4,267.2 607.5,264.7 607.6,262.0 607.7,259.5 607.5,256.8 607.3,254.0 607.6,251.0 607.5,248.8 607.7,246.0 607.4,243.3 607.4,240.3 607.5,237.7"/>
<polyline class="m12" points="609.2,277.9 609.3,280.2 609.1,282.0 609.2,284.3 609.5,286.4 609.5,288.0 609.4,290.7 609.7,292.1 609.6,294.0 610.1,296.8 610.0,298.1 610.1,300.1 610.1,302.6 610.3,304.3 610.1,307.1 610.5,308.4 610.7,311.1 610.5,312.5 610.8,315.4 608.5,316.8 608.7,319.6 608.7,321.4 608.6,322.9 608.9,325.6 608.8,327.1 609.2,329.8 608.8,331.6"/>
<polyline class="m6" points="610.5,284.3 610.6,287.0 610.8,290.4 608.7,293.1 608.8,296.4 608.8,300.4 608.9,303.3 609.0,306.7 609.4,309.1 609.4,312.4 609.8,316.2 610.2,319.3 610.3,322.6 610.3,325.2"/>
<polyline class="m0" points="609.4,269.5 609.3,271.5 609.3,273.9 609.4,276.2 609.4,278.8"/>
<polyline class="m0" points="608.9,330.1 608.9,333.5 608.9,336.7"/>
<polyline class="m0" points="610.3,311.6 610.3,314.2 610.3,316.6 610.5,318.9 610.5,321.3"/>
<polyline class="m0" points="611.3,327.3 611.1,330.1 611.5,332.5 611.3,335.2 611.1,338.3 611.4,341.5 611.4,344.5"/>
<polyline class="m55" points="612.0,274.2 612.1,276.5 612.3,278.5 612.5,279.8 612.2,282.0 612.6,284.1 612.7,286.3 612.8,288.6 612.8,290.9 612.6,292.8 613.1,294.4 612.9,297.1 613.0,298.7 610.9,300.5 611.0,303.0 611.1,305.2 610.9,307.5 611.2,309.0 611.3,311.8 611.2,313.6 611.3,315.2 611.3,317.4 611.6,319.8 611.7,321.9 612.0,323.4 612.0,326.0 612.1,327.4"/>
<polyline class="m40" points="610.7,280.2 610.9,283.7 611.0,286.6 611.4,289.9 611.7,293.1 611.9,296.3 611.7,299.6 612.1,302.9 612.3,305.7 612.3,309.2 612.5,312.5 612.9,315.0 612.9,318.4 610.9,322.1"/>
<polyline class="m0" points="612.5,264.6 612.4,267.7 612.5,270.7 612.8,273.9"/>
<polyline class="m0" points="612.2,325.7 612.0,328.1 612.2,330.3 611.9,333.0"/>
<polyline class="m0" points="611.5,283.5 611.5,286.1 611.5,289.0 611.5,292.1 611.5,295.1"/>
<polyline class="m380" points="612.5,232.3 612.5,239.2 612.5,246.0 611.9,252.0 611.9,253.2 611.9,254.4 611.7,255.7 611.9,257.1 611.7,258.2 611.8,259.6 611.8,260.9 611.9,262.2 611.7,263.4 611.7,264.8 611.7,266.0 611.8,267.1 611.8,268.5 611.7,269.9 611.9,271.1 611.8,272.3 611.7,273.8 611.8,275.1 611.8,276.5 611.7,277.8 611.8,279.1 611.8,280.3 611.8,281.7 611.7,282.9 611.7,284.4 611.9,285.6 611.8,286.8 611.7,288.3 611.9,289.7 611.8,290.9 611.9,292.1 611.8,293.2 611.7,294.4 611.7,295.8 611.9,297.0 611.9,298.1 611.9,299.6"/>
<polyline class="m281" points="614.4,278.9 614.6,280.8 614.6,283.0 614.9,284.8 614.5,287.1 614.9,288.3 615.0,290.4 615.0,293.0 615.4,294.5 615.1,297.1 615.4,299.2 615.6,300.6 615.5,302.9 613.5,304.6 613.5,306.9 613.7,309.1 613.4,311.0 613.7,312.9 613.7,314.8 613.9,317.0 614.1,318.7 614.1,320.7 614.3,322.8 614.2,324.5 614.3,327.0 614.6,328.4"/>
<polyline class="m270" points="615.4,284.8 613.4,288.0 613.5,291.5 613.9,294.7 613.7,298.6 614.1,302.3 614.3,305.1 614.6,308.9 614.8,312.1 615.0,316.3 615.1,319.4 615.6,322.4"/>
<polyline class="m343" points="614.9,270.2 614.7,272.7 614.7,275.1 614.7,278.0 614.8,280.6"/>
<polyline class="m343" points="614.4,327.2 614.2,330.1 614.4,332.8 614.3,335.0 614.3,337.3"/>
<polyline class="m343" points="614.4,298.4 614.4,300.9 614.4,303.5 614.4,306.5 614.3,309.0"/>
<polyline class="m284" points="616.3,277.8 616.1,280.4 616.1,282.4 616.2,284.4 616.3,286.0 616.6,288.0 616.9,290.9 616.8,292.4 617.0,294.6 616.9,296.9 617.0,299.0 617.2,300.5 617.2,302.3 617.2,305.1 617.6,306.5 617.3,308.4 617.7,310.9 617.9,312.7 617.6,314.7 617.9,317.1 615.4,319.2 615.5,321.0 615.5,323.2 616.1,325.0 616.0,326.8 616.2,329.5 615.9,331.5"/>
<polyline class="m278" points="617.5,284.3 617.8,288.2 617.9,291.2 615.6,294.3 616.0,297.6 616.0,301.8 616.3,305.2 616.8,308.2 616.9,311.4 617.0,315.1 617.1,318.0 617.4,321.6 617.8,325.3"/>
<polyline class="m343" points="616.4,272.1 616.5,274.8 616.7,277.8 616.4,280.1"/>
<polyline class="m383" points="616.4,331.2 616.5,334.4 616.4,337.8 616.4,341.3"/>
<polyline class="m343" points="616.9,293.0 616.9,295.9 616.9,299.0"/>
<polyline class="m343" points="617.1,350.0 617.0,354.0 617.1,358.2"/>
<polyline class="m343" points="617.3,276.9 617.4,271.0 617.0,265.6 617.2,259.4 617.1,253.7"/>
<polyline class="m383" points="617.2,324.7 617.3,327.7 617.2,330.2 617.3,333.0 617.1,335.3 617.1,338.3 617.3,340.9 617.2,343.7 617.1,346.5"/>
<polyline class="m322" points="618.0,370.0 618.1,372.7 616.9,375.9 618.0,379.0 617.8,381.9 617.1,385.0 617.2,388.2"/>
<polyline class="m322" points="617.0,396.0 617.0,396.0"/>
<polyline class="m360" points="617.0,400.0 617.0,400.0"/>
<polyline class="m322" points="617.0,405.6 617.0,405.6"/>
<polyline class="m322" points="617.0,415.6 617.0,415.6"/>
<polyline class="m360" points="617.0,411.0 617.0,421.0 617.0,428.0 617.0,432.5"/>
<polyline class="m360" points="618.0,368.0 618.0,368.0"/>
<polyline class="m224" points="620.0,277.6 620.4,279.7 618.2,281.6 618.2,283.3 618.2,286.3 618.2,287.6 618.3,290.3 618.7,292.4 618.5,293.8 618.6,295.9 618.7,297.9 618.7,300.0 618.9,302.6 619.0,304.9 619.3,307.0 619.3,308.4 619.3,311.0 619.7,312.7 619.7,314.9 620.0,316.5 620.0,319.3 620.1,321.2 620.2,323.1 620.0,325.4"/>
<polyline class="m176" points="620.2,283.8 618.0,286.6 618.3,289.7 618.5,293.7 618.7,296.6 618.8,299.5 619.2,303.0 619.3,306.0 619.8,309.1 619.8,313.2 620.1,315.6 620.0,319.0"/>
<polyline class="m344" points="619.0,269.6 619.1,272.2 618.8,274.7 619.2,277.8 619.1,280.1"/>
<polyline class="m344" points="619.8,324.7 619.4,327.2 619.8,329.6 619.6,332.5"/>
<polyline class="m344" points="619.8,281.4 619.9,283.9 619.9,286.7 619.9,289.7 619.9,292.5"/>
<polyline class="m47" points="622.1,278.9 622.2,281.3 622.6,282.7 622.4,285.5 622.5,287.4 622.9,288.9 620.4,291.0 620.5,293.6 620.6,295.6 620.7,297.1 620.9,299.6 621.1,301.5 621.0,302.8 621.1,305.4 621.0,307.2 621.2,308.8 621.3,311.2 621.5,312.8 621.4,315.1 621.5,317.1 621.6,319.8 621.7,321.7 622.1,323.0 622.1,325.6 621.9,327.3 622.3,329.7 622.3,331.6"/>
<polyline class="m31" points="621.4,284.8 621.4,288.2 621.7,291.9 622.0,294.8 622.0,298.6 622.0,302.3 622.1,305.4 622.7,308.6 620.6,312.3 620.6,314.9 620.8,318.3 620.8,321.9 621.1,325.3"/>
<polyline class="m355" points="622.2,272.4 622.3,275.2 622.4,278.1 622.1,280.8"/>
<polyline class="m355" points="621.1,330.6 621.5,334.0 621.3,337.1"/>
<polyline class="m355" points="621.6,300.1 621.6,302.4 621.5,305.0 621.6,307.3"/>
<polyline class="m355" points="622.4,322.8 622.3,325.4 622.5,328.2 622.3,331.0 622.7,333.4 622.4,336.1 622.4,339.2 622.3,342.5"/>
<polyline class="m383" points="617.3,322.0 617.4,325.1 617.4,328.1 617.1,331.1 617.2,334.3 617.5,337.2 617.1,339.8 617.5,342.7 617.5,345.7 617.2,348.4 617.2,283.0 617.2,296.0 617.2,309.0"/>
<polyline class="m343" points="617.0,275.0 617.1,282.2 617.3,288.6 617.1,296.0 617.2,301.5 617.4,307.6 617.2,314.2"/>
<polyline class="m316" points="624.5,272.3 625.0,273.9 625.0,276.1 625.1,278.7 625.2,280.3 625.0,282.8 622.7,284.2 622.8,286.5 623.0,289.3 623.1,290.7 622.9,292.9 623.0,295.5 623.1,296.8 623.5,299.1 623.4,300.9 623.3,303.4 623.6,305.6 623.9,307.3 623.8,309.7 623.7,311.2 623.8,313.2 624.2,316.0 624.3,318.0 624.3,319.4 624.1,321.9 624.2,324.0 624.4,325.3 624.3,327.9 624.6,330.1 624.8,331.5 624.9,333.7"/>
<polyline class="m315" points="624.9,278.1 624.7,282.0 625.0,285.1 622.9,288.6 623.1,291.6 623.3,294.7 623.4,298.0 623.6,301.1 623.6,304.7 623.6,307.7 624.0,311.3 623.9,315.1 624.1,317.9 624.4,321.5 624.5,324.9 624.5,328.1"/>
<polyline class="m402" points="624.2,268.3 624.1,271.1 624.2,273.4"/>
<polyline class="m402" points="624.5,331.9 624.4,334.0 624.5,336.0 624.5,338.4 624.5,340.5"/>
<polyline class="m402" points="623.9,277.0 623.9,279.5 624.0,281.8"/>
<polyline class="m402" points="624.3,277.4 624.4,274.5 624.2,272.2 624.6,269.6 624.4,267.0 624.2,264.1 624.6,261.3 624.2,258.5 624.3,255.5 624.3,252.9 624.5,250.2"/>
<polyline class="m204" points="626.3,278.1 626.2,281.0 626.6,282.1 626.4,284.5 626.7,286.9 626.6,288.4 627.0,291.0 626.9,292.8 627.1,294.7 627.1,296.4 627.3,299.0 627.4,300.8 627.4,303.2 627.2,304.8 627.6,307.4 625.1,308.8 625.1,311.6 625.6,313.1 625.6,315.6 625.8,316.8 625.8,319.1 625.7,320.9 625.7,323.3 626.0,325.4 626.2,327.3 626.1,329.3 626.4,331.7"/>
<polyline class="m183" points="625.3,284.3 625.5,288.1 625.8,291.6 626.0,294.9 626.0,297.9 626.2,301.5 626.4,305.5 626.5,308.2 626.6,312.3 627.2,315.8 627.0,318.7 627.6,321.7 625.0,325.5"/>
<polyline class="m364" points="626.6,271.0 626.7,273.6 626.4,276.2 626.7,278.6 626.4,281.1"/>
<polyline class="m364" points="626.7,330.4 626.5,332.6 626.6,334.9 626.5,337.7 626.8,339.9"/>
<polyline class="m307" points="627.9,274.7 627.7,277.3 628.0,279.0 628.0,281.5 628.1,283.2 628.1,285.1 628.3,287.3 628.5,289.4 628.5,291.2 628.6,293.9 628.8,296.2 628.9,297.5 628.8,299.9 628.9,301.7 629.2,303.8 628.9,306.2 629.1,308.3 629.6,310.8 629.5,312.8 629.2,314.5 629.7,316.7 629.7,318.6 629.7,320.4 629.6,322.7 627.4,324.7 627.8,327.4 627.6,328.7"/>
<polyline class="m289" points="628.3,281.5 628.5,284.7 628.5,288.0 628.9,290.3 628.9,293.9 629.2,297.0 629.4,300.3 629.2,303.4 629.4,306.9 629.7,309.7 627.5,313.8 627.6,317.0 628.1,320.2 628.0,323.2"/>
<polyline class="m393" points="628.5,264.6 628.6,267.7 628.6,270.4 628.5,273.4 628.6,276.3"/>
<polyline class="m393" points="629.1,326.3 629.1,329.7 629.0,332.8 629.0,335.8 628.7,338.8"/>
<polyline class="m393" points="630.1,275.8 630.1,273.5 630.1,270.9 630.1,268.0 630.5,265.2 630.2,262.5 630.1,259.6 630.2,256.8 630.2,253.9 630.0,251.4 630.2,249.0 630.3,246.3 630.1,243.9 630.2,240.7"/>
<polyline class="m289" points="632.2,277.0 632.3,278.6 632.0,280.8 632.4,283.4 630.0,285.4 630.2,287.0 630.4,289.1 630.2,290.9 630.6,293.7 630.5,295.0 630.5,297.2 630.9,299.6 630.8,301.3 631.0,303.1 631.0,306.0 631.0,307.6 631.4,309.3 631.5,311.2 631.5,313.4 631.5,315.3 631.7,317.6 631.8,319.4 632.0,322.2 631.9,323.5 632.2,326.4"/>
<polyline class="m252" points="632.0,283.1 632.4,286.7 630.1,290.1 630.1,293.5 630.4,296.6 630.5,299.3 630.8,302.9 631.1,306.6 631.6,310.0 631.6,313.3 631.7,317.0 631.9,320.4"/>
<polyline class="m393" points="630.6,271.6 630.8,274.6 631.0,277.5"/>
<polyline class="m393" points="630.8,324.6 630.8,327.8 631.0,330.3"/>
<polyline class="m393" points="630.8,306.7 630.8,309.5 630.8,312.2"/>
<polyline class="m333" points="632.5,279.9 632.5,276.6 632.6,273.6 632.7,269.5 632.4,265.4 632.5,261.8 632.5,256.9 632.3,252.1"/>
<polyline class="m43" points="634.4,278.7 634.7,280.6 632.2,282.5 632.2,285.1 632.7,286.2 632.7,288.3 632.9,290.8 632.6,292.4 632.9,294.8 633.3,296.4 633.2,299.2 633.1,301.0 633.1,303.0 633.3,305.0 633.6,307.2 633.8,308.8 633.5,311.3 633.9,312.7 633.8,314.7 633.9,317.6 634.0,318.7 634.1,320.7 634.5,323.1 634.6,324.8 634.5,327.3 634.8,328.8"/>
<polyline class="m29" points="633.5,284.7 633.6,287.4 633.7,290.6 634.0,294.5 634.4,297.7 634.5,301.2 634.9,304.2 632.5,307.4 632.5,310.0 633.1,313.9 632.9,317.3 633.1,320.1 633.3,323.2"/>
<polyline class="m333" points="633.4,269.8 633.3,271.9 633.1,273.9 633.5,275.8 633.4,277.7 633.5,279.9"/>
<polyline class="m333" points="633.6,326.9 633.9,329.8 633.5,332.6 633.6,335.7"/>
<polyline class="m226" points="636.0,276.2 636.1,278.7 636.2,280.6 636.3,282.8 636.5,284.2 636.6,286.4 636.6,288.9 636.7,290.5 636.8,292.7 637.0,294.6 637.1,296.1 637.0,298.1 634.9,300.2 634.8,302.2 634.9,304.3 635.2,306.8 635.0,308.8 635.3,310.9 635.3,312.6 635.6,314.3 635.6,316.3 635.5,319.2 635.6,320.7 635.9,322.4 635.6,324.7 636.0,327.0 636.0,329.3 635.9,331.1 636.1,333.4"/>
<polyline class="m209" points="636.9,282.7 634.8,285.9 635.0,289.7 635.1,292.7 635.3,296.1 635.7,299.8 635.7,303.4 635.9,306.0 635.9,309.6 636.1,313.4 636.7,316.4 636.6,320.3 636.7,323.2 637.1,326.6"/>
<polyline class="m346" points="636.6,273.4 636.6,276.1 636.5,278.5"/>
<polyline class="m346" points="635.5,332.6 635.4,335.4 635.2,338.0 635.3,341.2"/>
<polyline class="m346" points="636.2,313.7 636.2,316.3 636.2,319.4 636.1,322.1 636.2,324.8"/>
<polyline class="m363" points="637.3,280.3 637.7,277.8 637.6,274.6 637.4,271.4"/>
<polyline class="m189" points="637.3,271.3 637.4,273.3 637.5,275.6 638.0,277.3 637.7,279.7 638.0,281.1 638.0,283.2 638.3,285.9 638.2,287.5 638.2,289.4 638.5,291.8 638.4,293.1 638.7,295.4 638.4,297.9 638.7,299.9 638.7,301.9 639.0,303.4 639.1,305.3 639.0,307.3 638.9,309.3 639.0,311.8 639.2,313.9 639.2,315.2 639.2,317.6 639.7,319.8 637.0,321.5 637.0,323.8 637.2,325.4 637.6,328.0 637.7,329.7"/>
<polyline class="m138" points="637.5,277.6 637.4,280.6 637.9,283.7 637.9,287.2 638.2,290.4 638.4,294.0 638.6,297.4 638.4,300.8 638.8,304.1 638.7,306.8 639.0,310.7 639.3,313.4 639.5,317.3 637.4,320.7 637.1,323.7"/>
<polyline class="m363" points="638.5,273.4 638.5,273.4"/>
<polyline class="m327" points="638.2,327.3 638.3,329.6 638.3,331.6 638.5,334.0 638.4,336.1"/>
<polyline class="m363" points="638.9,282.3 639.0,285.2 639.0,288.1 639.0,291.0 638.8,293.6"/>
<polyline class="m327" points="639.4,328.6 639.6,331.5 639.2,334.4 639.5,337.1 639.5,339.4 639.3,342.4 639.4,344.9 639.4,347.5"/>
<polyline class="m196" points="640.0,275.6 640.3,277.2 640.0,280.0 640.5,281.7 640.2,284.0 640.2,285.6 640.4,287.5 640.8,289.5 640.8,292.1 641.0,293.3 640.8,296.0 641.0,297.5 640.8,300.1 641.2,301.7 641.1,303.6 641.2,305.9 641.5,308.0 641.4,310.0 641.6,311.8 641.4,314.4 641.8,316.4 641.9,318.3 642.1,320.5 639.3,322.7 639.7,324.8 639.9,326.4 640.0,328.2 639.9,331.1 639.8,332.5"/>
<polyline class="m145" points="641.7,281.4 642.1,284.3 639.5,287.7 640.0,291.2 640.0,294.0 640.1,297.6 640.2,300.7 640.4,303.6 640.6,307.5 640.9,310.2 640.8,313.3 641.1,316.5 641.5,320.2 641.3,323.5 641.6,326.8"/>
<polyline class="m327" points="640.2,271.7 640.4,274.9 640.2,277.7"/>
<polyline class="m327" points="641.1,330.1 641.2,332.4 641.1,335.1 641.4,337.7"/>
<polyline class="m327" points="640.8,316.5 640.8,318.8 640.8,321.1 640.8,323.9"/>
<polyline class="m329" points="643.2,283.5 642.8,280.5 642.9,278.1 642.9,275.3 643.0,272.4 643.2,269.7"/>
<polyline class="m294" points="643.2,271.5 643.2,272.7 643.3,275.2 643.3,276.8 643.7,279.7 643.4,281.1 643.8,283.2 643.5,285.0 644.0,287.2 643.8,289.3 644.0,291.7 644.2,293.3 644.0,295.9 644.3,297.8 644.1,299.4 642.1,301.6 642.0,303.4 642.0,305.8 642.1,307.7 642.5,309.3 642.6,311.5 642.5,314.0 642.4,315.4 642.8,318.2 642.9,319.9 642.8,321.6 643.0,323.7 642.8,326.2 643.0,327.5"/>
<polyline class="m257" points="642.5,276.8 643.0,280.2 643.0,284.4 643.2,287.3 643.5,291.0 643.4,294.7 643.4,298.2 643.7,301.0 644.1,304.3 644.1,308.2 641.9,311.4 642.3,315.4 642.2,318.2 642.4,321.8"/>
<polyline class="m329" points="644.0,271.7 644.0,271.7"/>
<polyline class="m329" points="642.3,325.8 642.3,328.8 642.3,331.9 642.5,335.5"/>
<polyline class="m329" points="642.8,306.8 642.9,309.4 642.8,311.5 642.8,313.7 642.8,316.1 642.9,318.3"/>
<polyline class="m109" points="645.3,276.4 645.0,279.2 645.0,280.3 645.5,283.0 645.5,284.4 645.5,287.1 645.7,289.2 645.7,290.7 645.8,292.4 646.1,294.8 646.1,296.8 646.1,299.4 646.3,301.3 646.1,303.1 646.6,304.9 646.5,307.5 646.6,309.1 646.7,311.1 646.6,313.0 644.5,315.6 644.7,317.2 644.4,319.3 644.7,320.9 644.9,323.3 645.0,324.8 645.0,327.1 645.1,329.5 644.9,331.6"/>
<polyline class="m76" points="646.0,283.1 646.3,286.3 646.4,288.9 646.4,292.9 646.8,295.4 644.7,299.5 644.4,302.5 644.9,305.3 645.1,308.8 645.0,312.0 645.6,315.0 645.5,318.3 645.7,321.7 646.1,324.8"/>
<polyline class="m329" points="645.7,271.7 645.9,273.9 645.7,276.0 645.7,278.0"/>
<polyline class="m329" points="645.8,329.4 645.9,331.9 645.8,334.3 645.8,336.3 645.7,338.6"/>
<polyline class="m329" points="647.0,323.4 647.2,325.7 647.1,328.4 647.0,330.7 647.0,333.6 646.9,336.5 647.0,339.2 647.2,342.5"/>
<polyline class="m271" points="647.7,273.6 647.9,275.7 647.7,277.7 647.7,280.1 648.0,282.3 647.9,283.7 648.3,286.2 648.0,287.8 648.4,290.3 648.3,291.8 648.5,294.5 648.6,296.2 648.5,297.9 648.6,299.8 648.9,301.9 649.2,303.8 649.1,306.6 649.2,308.3 646.8,309.9 646.7,312.2 646.9,313.9 647.0,316.8 647.3,317.9 647.5,320.3 647.5,322.5 647.6,324.6 647.7,326.5 647.7,328.1"/>
<polyline class="m235" points="648.6,279.7 648.9,282.9 649.1,286.2 646.7,289.7 646.9,293.4 647.2,296.4 647.2,299.7 647.5,302.8 647.7,305.8 647.7,309.8 648.1,312.2 648.5,315.9 648.3,319.6 648.7,322.6"/>
<polyline class="m329" points="648.5,268.9 648.4,271.8 648.4,274.6"/>
<polyline class="m329" points="647.8,325.8 647.7,329.2 647.9,332.0 647.9,334.8"/>
<polyline class="m332" points="650.0,277.0 650.2,274.2 650.0,271.9 650.1,269.5 649.9,267.0 649.9,264.0 650.1,261.7 650.0,258.9 650.1,256.0 649.9,253.3 650.1,250.7"/>
<polyline class="m311" points="649.0,278.3 649.5,280.3 649.5,282.1 649.6,284.5 649.6,286.2 649.8,289.1 650.0,290.8 650.0,292.6 650.0,294.4 650.4,297.1 650.2,298.6 650.5,300.7 650.4,303.2 650.5,305.6 650.7,307.4 651.0,309.6 651.0,311.9 651.1,313.5 651.0,315.3 651.0,317.7 651.1,320.3 651.5,321.8 651.3,324.1 649.2,326.4"/>
<polyline class="m308" points="651.6,284.7 649.3,287.6 649.5,290.3 649.7,293.9 649.8,297.3 650.1,300.5 650.5,303.5 650.8,307.4 650.5,309.9 650.9,313.3 651.2,317.1 651.4,320.2"/>
<polyline class="m332" points="649.6,268.3 649.7,271.0 649.5,273.9 649.8,277.0 649.7,279.9"/>
<polyline class="m332" points="650.7,325.5 650.8,328.9 650.7,332.4 650.7,335.9"/>
<polyline class="m332" points="650.1,298.0 650.1,300.6 650.0,303.7 650.1,306.4"/>
<polyline class="m32" points="653.6,274.2 653.5,277.0 653.7,278.5 653.6,281.4 653.7,283.0 651.5,285.3 651.7,287.0 651.6,289.0 651.8,291.4 651.9,292.9 652.0,295.2 652.3,297.6 652.3,299.9 652.5,301.4 652.4,303.3 652.4,305.7 652.7,307.3 652.9,309.4 652.8,312.2 652.7,313.4 652.8,316.1 653.0,317.8 653.0,319.7 653.2,322.0 653.4,323.8 653.2,326.4"/>
<polyline class="m23" points="651.4,280.9 651.9,284.4 651.8,287.1 652.2,290.4 652.2,293.6 652.6,297.3 652.8,300.1 653.2,304.0 653.4,306.8 653.4,310.8 653.7,313.3 653.9,316.7 651.6,319.9"/>
<polyline class="m335" points="653.3,266.1 653.5,268.9 653.6,271.6 653.4,273.9 653.5,276.6"/>
<polyline class="m335" points="653.1,323.6 652.9,325.6 652.8,328.0 653.0,330.3 652.7,332.7"/>
<polyline class="m335" points="653.1,308.4 653.1,310.5 653.1,312.9 653.0,315.0"/>
<polyline class="m335" points="652.9,327.1 653.2,329.9 652.8,332.7 653.0,335.5 652.8,337.8 653.0,340.6 652.9,343.5 652.8,346.2 653.0,348.8 653.0,351.0 652.8,353.4 653.2,356.3 652.9,359.1 653.2,361.5 653.0,363.8 653.1,366.9 653.1,369.5"/>
<polyline class="m336" points="654.8,279.7 654.5,276.9 654.5,274.1 654.8,271.6 654.6,269.0 654.8,266.6 654.6,263.8 654.6,261.4 654.7,259.1 654.7,256.8 654.7,254.5 654.5,251.7 654.4,249.4 654.6,246.9 654.7,244.4 654.6,241.5 654.7,239.1 654.5,235.9 654.5,233.3"/>
<polyline class="m335" points="655.2,324.0 655.1,326.8 655.0,329.6 655.0,331.9 655.0,334.1 654.8,336.3 655.2,338.6 655.0,341.3 654.9,343.7 654.9,346.0 655.0,348.5 655.0,350.8 655.1,353.7 655.0,356.3 655.0,358.9 655.1,361.4 655.1,364.1 654.9,367.0 654.8,369.7 655.2,373.1"/>
<polyline class="m43" points="654.7,279.8 654.8,282.3 655.0,284.2 655.1,286.2 655.0,288.1 655.1,290.3 655.2,292.1 655.7,294.0 655.4,295.9 655.9,298.0 655.9,300.7 656.1,302.4 655.8,304.8 656.3,307.1 656.2,308.6 656.3,311.1 653.9,312.7 654.3,314.5 654.3,316.8 654.3,319.0 654.4,320.9 654.3,323.4 654.8,325.5 654.5,327.2 654.7,329.6 654.8,331.7"/>
<polyline class="m29" points="653.9,285.4 654.1,289.3 654.4,292.5 654.5,295.9 655.0,299.1 655.1,302.5 655.1,305.3 655.5,308.9 655.8,311.7 655.7,315.3 656.2,319.2 654.2,322.0 654.0,325.5"/>
<polyline class="m336" points="655.1,273.7 654.9,275.9 655.2,278.2 655.1,280.2 655.0,282.5"/>
<polyline class="m335" points="655.2,330.4 655.4,332.9 655.4,335.6"/>
<polyline class="m335" points="654.5,311.0 654.6,313.1 654.5,315.0 654.4,316.8 654.4,319.2 654.5,321.4 654.6,323.2"/>
<polyline class="m336" points="656.2,248.7 656.4,254.1 656.4,259.9 656.4,265.1 656.2,270.5 656.4,274.9 656.2,280.3"/>
<polyline class="m336" points="654.4,343.5 654.4,353.5 654.4,359.5 654.4,362.5"/>
<polyline class="m54" points="657.6,273.0 658.0,275.4 657.7,277.6 658.2,279.5 658.3,281.4 658.3,283.5 658.0,284.9 658.3,286.9 658.6,289.2 658.4,291.0 658.5,293.8 658.5,295.4 656.3,297.6 656.6,298.9 656.5,301.2 656.9,303.5 657.0,305.1 656.7,307.6 657.0,309.5 656.8,311.4 656.9,313.6 657.5,315.0 657.2,317.4 657.4,319.2 657.5,321.2 657.8,323.2 657.9,325.6"/>
<polyline class="m39" points="657.2,279.3 657.4,282.5 657.8,285.6 657.9,289.5 658.0,292.8 658.4,295.9 658.6,299.8 656.1,303.1 656.5,305.5 656.5,309.1 657.0,313.1 657.3,315.6 657.5,319.6"/>
<polyline class="m335" points="657.8,263.8 657.8,266.7 657.9,269.3 657.9,272.3 657.6,275.2"/>
<polyline class="m335" points="658.2,323.4 658.3,325.7 658.2,328.5 658.1,331.1 658.3,334.0"/>
<polyline class="m33" points="659.5,276.6 659.5,278.7 660.0,280.4 660.1,282.5 660.1,284.9 659.8,286.7 660.1,289.4 660.1,290.6 660.2,293.3 660.5,294.7 660.4,297.6 660.3,298.8 660.7,301.3 660.8,303.0 660.9,305.6 660.9,307.1 660.8,309.2 661.0,311.6 658.9,313.2 658.7,315.3 658.8,317.7 659.0,319.9 659.1,321.5 659.1,323.6 659.4,325.9 659.1,327.9 659.4,329.4 659.3,332.1 659.8,334.2"/>
<polyline class="m24" points="660.0,282.4 660.5,286.0 660.7,288.8 660.5,292.1 660.7,295.9 660.8,298.4 658.6,302.1 659.0,304.9 659.0,308.4 659.3,312.1 659.3,315.0 659.4,317.7 659.7,321.1 660.2,324.9 660.3,327.8"/>
<polyline class="m360" points="660.0,268.0 659.6,270.7 659.9,274.0 659.7,277.1"/>
<polyline class="m360" points="659.9,330.5 659.9,328.5 659.6,326.5"/>
<polyline class="m360" points="660.4,325.8 660.5,328.5"/>
<polyline class="m338" points="662.1,276.9 661.9,274.2 661.9,270.7 662.2,267.5 662.1,264.5 661.8,261.2 661.9,257.6 661.9,253.7"/>
<polyline class="m73" points="663.7,274.9 660.9,276.5 661.1,278.7 661.3,280.7 661.4,283.0 661.4,284.8 661.7,286.3 661.7,288.3 661.6,291.2 661.9,293.1 661.7,295.0 662.0,296.8 662.3,299.0 662.3,301.1 662.4,302.7 662.4,304.5 662.5,306.3 662.5,308.7 662.3,311.2 662.8,313.2 662.5,314.9 662.9,317.1 662.8,318.6 662.7,320.8 663.0,322.9 663.2,324.9 663.0,326.8 663.2,329.0 663.2,331.1 663.3,332.6"/>
<polyline class="m49" points="663.4,280.9 663.4,284.1 663.5,287.5 661.3,290.8 661.2,294.1 661.6,296.7 662.0,300.7 661.9,303.7 662.2,306.8 662.2,310.5 662.7,313.7 662.6,317.0 662.6,319.9 663.2,323.2 663.0,327.1"/>
<polyline class="m338" points="661.6,269.3 661.6,272.5 661.9,275.6"/>
<polyline class="m338" points="661.7,328.9 661.4,326.5"/>
<polyline class="m125" points="664.4,273.8 664.8,276.3 664.6,278.2 664.6,280.3 664.9,282.5 664.7,284.0 665.2,286.3 665.1,288.1 665.4,290.5 665.1,292.5 665.4,294.5 665.2,296.8 665.4,298.7 665.9,300.1 665.8,302.9 665.9,304.5 665.9,307.1 663.5,308.7 663.7,310.9 663.9,312.7 663.9,314.9 663.9,316.8 664.2,319.2 663.9,321.4 664.1,322.8 664.4,325.4 664.6,327.6 664.5,329.0 664.7,331.7"/>
<polyline class="m86" points="664.9,280.0 665.4,283.4 665.4,286.3 665.8,289.4 665.6,292.5 666.0,296.1 663.6,298.9 664.0,303.1 663.9,305.8 664.0,309.4 664.1,311.9 664.4,315.8 664.8,318.5 664.9,321.8 665.0,325.3"/>
<polyline class="m338" points="665.1,269.7 665.0,272.3 665.1,274.6"/>
<polyline class="m338" points="664.8,330.4 664.7,333.1 664.8,335.3 664.9,338.0 664.8,340.8"/>
<polyline class="m338" points="664.4,297.6 664.5,299.8 664.4,302.1"/>
<polyline class="m338" points="665.8,276.1 665.7,272.2 665.6,267.7"/>
<polyline class="m223" points="666.8,273.6 667.1,275.1 666.8,277.6 667.1,279.5 667.2,281.5 667.6,283.1 667.2,284.9 667.3,287.5 667.8,288.9 667.8,291.2 668.0,293.1 668.0,295.2 668.1,297.4 668.1,299.6 668.0,301.3 668.2,303.1 666.2,305.1 666.3,307.6 666.0,309.9 666.0,311.6 666.1,313.7 666.5,315.9 666.5,318.0 666.7,320.0 666.7,321.7 666.6,323.7 667.0,325.9"/>
<polyline class="m172" points="667.9,279.4 667.8,282.5 668.3,285.6 666.0,288.8 666.0,292.9 666.6,295.7 666.7,299.6 666.9,302.9 666.8,306.1 667.3,309.3 667.3,313.4 667.5,316.5 667.7,319.5"/>
<polyline class="m338" points="667.5,269.7 667.7,271.8 667.5,274.2"/>
<polyline class="m338" points="666.5,323.7 666.3,326.0 666.4,328.3 666.2,330.7"/>
<polyline class="m341" points="668.8,325.7 668.7,328.1 669.0,330.6 668.7,333.1 668.6,335.7 668.8,338.3 668.9,341.5"/>
<polyline class="m186" points="669.1,273.4 669.2,275.0 669.3,277.4 669.1,279.3 669.3,280.9 669.1,282.8 669.5,285.6 669.5,287.5 669.8,289.0 669.6,291.4 669.9,293.5 670.1,295.3 670.2,297.2 670.2,299.3 670.1,301.6 670.2,303.9 670.5,305.2 670.3,307.9 670.7,310.1 670.6,311.9 670.8,314.2 668.5,315.8 668.4,317.9 668.8,320.0 668.5,321.4 668.6,323.5 668.9,326.2 669.0,328.3 669.0,330.6"/>
<polyline class="m140" points="670.7,278.8 668.3,282.3 668.7,285.2 668.8,288.5 668.9,292.0 669.3,294.7 669.1,298.0 669.4,302.1 669.6,304.5 669.9,308.4 669.8,311.0 670.1,314.3 670.1,317.7 670.4,320.9 670.8,323.8"/>
<polyline class="m341" points="668.9,264.2 669.1,267.0 668.9,269.7 669.1,272.5 669.0,275.0"/>
<polyline class="m341" points="668.7,327.5 668.8,329.9 668.8,332.3 668.8,334.9 668.9,336.9 668.8,339.5"/>
<polyline class="m341" points="670.0,285.6 670.0,288.1 670.1,290.8"/>
<polyline class="m175" points="672.1,270.8 672.3,273.6 672.4,275.5 672.5,277.1 672.4,279.0 672.7,281.9 672.5,283.4 672.7,285.7 672.9,287.5 673.0,289.8 673.1,292.3 672.8,294.1 670.7,296.1 670.6,298.3 670.9,300.6 671.0,301.8 670.8,304.3 671.0,306.3 671.3,308.5 671.5,310.9 671.4,312.2 671.5,314.9 671.4,316.8 671.5,318.9 671.6,321.1 672.0,322.7 671.9,324.9 672.1,327.1 672.0,328.9 672.1,331.4"/>
<polyline class="m131" points="670.8,277.1 671.0,280.3 671.4,284.2 671.4,287.2 671.3,290.4 671.4,294.6 671.8,298.1 671.8,300.9 672.2,304.4 672.4,308.5 672.7,311.4 672.6,315.0 672.7,318.3 673.1,322.0 670.8,325.2"/>
<polyline class="m342" points="671.4,260.3 671.6,262.8 671.4,265.8 671.6,269.0 671.3,271.7"/>
<polyline class="m342" points="672.4,330.0 672.6,332.6 672.5,335.5 672.4,338.0"/>
<polyline class="m342" points="672.2,306.2 672.2,308.6 672.3,311.0"/>
<polyline class="m268" points="673.4,275.3 673.5,277.8 673.6,279.6 673.5,281.8 673.5,283.5 673.5,285.6 673.9,287.5 673.7,288.9 674.2,291.3 673.9,293.6 674.5,295.2 674.3,297.3 674.5,299.0 674.3,301.0 674.4,303.3 674.5,305.8 675.0,307.7 674.9,309.5 674.8,311.1 675.0,313.5 675.2,315.5 675.0,317.3 675.2,319.9 675.4,321.4 673.3,323.6 673.0,325.0 673.5,327.4"/>
<polyline class="m231" points="674.2,281.8 674.0,284.3 674.2,287.9 674.9,291.2 674.9,294.7 674.9,297.6 675.1,301.8 675.2,305.1 673.2,307.6 673.3,311.3 673.8,315.1 674.0,317.8 674.2,321.8"/>
<polyline class="m342" points="674.4,269.5 674.2,272.7 674.5,275.1 674.3,277.8"/>
<polyline class="m342" points="674.3,326.9 674.3,329.2 674.1,332.2 674.3,334.4 674.1,336.7"/>
<polyline class="m342" points="673.4,306.6 673.4,309.2 673.5,312.1 673.4,314.5 673.4,317.0"/>
<polyline class="m342" points="674.8,323.6 675.2,326.2 675.1,328.5 675.2,331.0 674.8,333.6 675.2,336.5 675.0,339.7 675.0,343.1"/>
<polyline class="m354" points="676.1,284.0 676.3,281.0 676.4,278.4 676.4,275.9 676.3,273.7 676.2,271.0 676.2,268.4 676.1,265.7 676.2,263.4 676.3,260.4 676.2,257.7"/>
<polyline class="m246" points="676.6,274.4 676.9,275.5 676.9,277.8 677.3,280.3 677.0,281.9 677.0,284.5 677.5,285.8 677.3,287.8 677.6,289.7 677.7,292.4 677.5,294.5 678.0,296.3 677.7,298.2 675.8,300.2 675.4,302.8 675.8,304.3 675.8,306.8 675.9,308.0 676.0,310.4 676.0,312.9 676.0,314.1 676.4,316.6 676.6,318.1 676.4,321.0 676.5,322.2 676.6,324.5 676.5,326.5"/>
<polyline class="m203" points="677.3,280.0 677.6,283.1 677.9,286.8 675.7,290.5 675.8,293.8 675.9,296.5 676.3,300.7 676.5,303.6 676.4,306.8 676.6,310.1 676.9,313.9 677.4,317.7 677.3,320.4"/>
<polyline class="m354" points="676.9,262.7 676.9,265.4 677.1,268.0 676.9,270.8 677.1,273.8"/>
<polyline class="m354" points="676.2,324.4 676.3,327.2 676.2,329.8 676.1,332.6 676.1,335.3"/>
<polyline class="m354" points="676.4,304.5 676.2,306.6 676.3,309.2"/>
<polyline class="m226" points="679.4,278.0 679.2,279.9 679.3,281.8 679.8,283.7 679.9,285.9 679.7,288.4 679.7,290.2 680.3,292.1 680.2,294.3 680.2,295.9 678.1,298.3 678.2,299.8 678.2,302.6 678.1,304.8 678.2,306.4 678.3,308.4 678.5,310.3 678.3,312.5 678.9,314.2 679.0,316.7 678.8,318.2 678.8,320.8 679.0,323.1 679.4,324.5 679.1,327.1 679.3,329.0"/>
<polyline class="m209" points="678.2,284.0 678.8,286.6 678.8,290.6 679.2,293.5 679.3,297.2 679.7,300.2 679.7,302.9 680.0,306.4 680.1,309.8 680.3,313.1 678.0,316.7 678.0,320.0 678.4,323.0"/>
<polyline class="m346" points="679.3,269.4 679.4,271.8 679.1,274.0 679.1,276.1 679.3,278.0 679.2,280.2"/>
<polyline class="m346" points="679.0,327.6 678.9,330.5 678.9,332.8"/>
<polyline class="m346" points="680.2,326.1 680.1,328.5 679.8,331.4 679.8,333.6 680.1,336.1 679.8,338.7 679.9,341.4 680.1,344.3 680.2,346.6 680.0,349.5 680.2,352.5 680.1,355.2 680.0,357.8 680.2,360.9 680.0,363.5"/>
<polyline class="m345" points="681.0,276.6 681.1,274.3 681.3,272.0 681.2,269.4 681.1,266.8 681.1,264.3 681.3,261.7 681.3,259.3 681.3,257.1 681.0,254.2 681.2,251.8 681.3,248.9 681.1,246.4 681.1,243.9 681.2,241.1 681.1,238.3"/>
<polyline class="m57" points="680.5,271.2 680.9,273.3 680.9,276.0 680.7,277.5 681.0,279.9 681.3,282.0 681.4,283.8 681.1,285.3 681.3,288.1 681.5,289.7 681.6,291.4 681.8,293.9 681.6,295.9 681.7,297.8 681.9,299.4 682.1,301.5 682.2,304.1 682.2,305.7 682.2,308.2 682.3,309.6 682.3,312.1 682.6,314.3 682.5,315.7 680.5,317.7 680.3,320.1 680.6,322.3 680.6,323.8 680.8,325.8"/>
<polyline class="m35" points="682.1,277.2 681.8,281.0 682.4,283.8 682.2,287.2 682.4,291.1 680.2,293.5 680.3,297.5 680.8,300.9 680.8,304.2 681.3,307.5 681.1,309.9 681.3,313.5 681.5,316.8 681.6,320.3"/>
<polyline class="m345" points="681.3,260.7 681.2,263.2 681.3,265.6 681.0,268.1 681.2,270.2 681.3,272.2 681.3,274.2"/>
<polyline class="m345" points="681.1,326.0 681.1,328.7 681.2,331.8 681.2,334.3 681.4,337.1"/>
<polyline class="m209" points="682.8,276.9 683.1,279.1 683.0,280.4 683.0,283.3 683.5,284.8 683.4,286.8 683.7,288.5 683.6,290.7 683.5,293.1 683.6,294.5 683.8,297.3 683.9,299.2 683.9,301.1 684.0,303.3 684.1,305.5 684.3,307.3 684.4,308.8 684.2,311.1 684.6,313.5 684.7,315.4 684.8,317.6 685.0,319.0 685.1,321.4 685.0,323.6 685.0,325.2 682.8,327.4 683.0,329.7 683.1,331.4"/>
<polyline class="m191" points="683.6,282.6 683.8,286.2 684.0,289.6 684.0,292.1 684.3,295.7 684.5,299.2 684.3,302.7 685.0,305.3 685.1,309.4 685.2,312.7 683.1,315.4 683.3,318.9 683.2,321.8 683.6,325.6"/>
<polyline class="m346" points="683.5,269.1 683.4,271.1 683.3,273.4 683.4,276.0 683.5,278.5"/>
<polyline class="m346" points="683.3,330.9 683.4,333.5 683.6,336.2 683.6,339.3 683.2,342.0"/>
<polyline class="m346" points="684.4,328.1 684.2,330.7 684.2,333.6 684.6,336.2 684.5,338.8 684.6,341.7 684.6,344.5 684.5,347.3 684.4,349.9 684.3,352.7 684.5,355.3 684.6,357.7 684.5,360.3 684.6,363.0 684.5,366.3 684.2,369.1 684.3,372.8 684.5,376.1 684.5,380.0"/>
<polyline class="m347" points="685.7,282.5 685.8,279.9 685.5,277.3 685.8,274.9 685.8,272.1 685.5,269.5 685.7,266.6 685.6,264.3 685.7,261.7 685.4,258.9 685.5,256.5 685.5,253.8 685.5,251.2 685.4,248.3 685.7,245.7 685.7,243.3 685.5,240.9 685.7,238.2 685.6,235.7 685.7,233.0 685.5,229.7"/>
<polyline class="m83" points="685.9,273.7 686.2,275.9 686.1,277.6 686.1,279.8 686.5,281.6 686.4,283.4 686.3,286.0 686.8,287.8 686.5,289.6 687.0,291.6 686.9,294.0 686.9,296.0 687.0,297.5 686.9,299.6 687.1,301.4 687.3,303.3 687.5,305.2 687.5,307.8 685.2,309.7 685.0,312.1 685.3,313.8 685.3,316.2 685.5,317.6 685.4,320.0 685.6,322.1 685.5,324.0 685.5,325.8 685.7,327.3 685.9,329.5 685.8,331.5 686.3,333.8"/>
<polyline class="m58" points="686.8,279.7 687.0,282.6 687.3,286.4 687.6,288.8 685.0,292.9 685.2,295.5 685.8,299.4 685.5,302.1 685.8,305.1 686.0,308.2 686.2,312.2 686.5,315.4 686.7,317.7 686.8,321.5 686.6,324.3 686.9,327.7"/>
<polyline class="m347" points="685.7,264.2 685.9,266.6 685.9,269.3 685.8,271.7 685.6,274.1"/>
<polyline class="m347" points="686.8,331.9 686.5,335.3 686.8,338.3 686.8,341.1 686.6,344.4"/>
<polyline class="m347" points="685.9,313.1 685.8,315.9 685.8,318.5 685.9,321.3 685.9,323.9"/>
<polyline class="m348" points="687.1,247.7 687.0,248.9 686.9,250.4 686.9,251.9 687.1,253.3 687.1,254.7 687.1,255.9 687.1,257.1 687.0,258.3 687.1,259.7 686.9,261.0 687.0,262.3 687.0,263.6"/>
<polyline class="m347" points="687.4,276.7 687.5,273.7 687.3,271.1 687.4,268.3 687.4,265.7 687.3,263.0 687.5,260.4 687.6,257.6 687.6,255.0 687.4,252.5 687.3,249.8 687.3,247.5 687.4,244.8 687.4,241.7 687.7,238.7"/>
<polyline class="m144" points="689.4,278.0 689.4,280.0 689.7,281.7 689.6,284.2 689.5,286.1 690.0,287.8 690.0,289.4 687.3,292.3 687.4,294.3 687.9,295.5 687.9,298.1 688.1,300.1 688.0,302.4 687.9,303.7 688.0,306.4 688.1,308.3 688.4,310.3 688.2,312.1 688.7,314.3 688.7,316.3 688.7,317.9 689.0,320.2 689.0,322.2 689.1,324.7 689.3,325.8 689.0,328.3 689.4,330.6 689.2,332.7"/>
<polyline class="m118" points="689.6,283.6 687.7,287.5 687.8,290.6 688.1,293.3 688.3,297.1 688.1,300.5 688.6,303.7 688.6,306.6 688.8,309.9 689.1,313.5 689.4,316.4 689.3,319.3 689.4,322.6 689.6,326.2"/>
<polyline class="m347" points="688.3,272.8 688.2,275.6 688.4,278.3"/>
<polyline class="m347" points="688.3,329.5 688.2,332.1 688.6,334.7 688.2,337.9 688.2,341.1 688.2,344.1"/>
<polyline class="m128" points="690.1,271.5 690.4,273.5 690.2,275.7 690.3,277.8 690.5,279.9 690.8,281.7 691.0,283.6 691.0,285.7 690.9,287.7 691.2,289.3 690.9,292.0 691.2,293.9 691.1,295.9 691.3,297.8 691.2,300.1 691.5,301.7 691.3,303.4 691.8,305.3 691.9,307.8 691.7,309.3 692.0,311.9 692.1,314.2 692.0,315.6 692.0,317.4 692.3,320.2 692.3,321.9 692.2,323.5 689.8,325.8 690.2,328.3 690.3,329.4 690.1,331.7 690.1,334.2"/>
<polyline class="m94" points="691.0,277.4 691.3,281.3 691.3,283.8 691.7,287.6 692.0,291.1 691.9,294.1 692.2,297.5 692.5,301.5 689.9,304.7 690.1,307.4 690.2,310.7 690.4,314.9 690.4,318.2 690.6,321.1 690.9,324.8 691.1,327.7"/>
<polyline class="m347" points="691.1,263.3 691.1,266.4 691.1,269.3 691.1,271.9"/>
<polyline class="m347" points="690.5,331.5 690.5,334.1 690.3,336.6 690.1,339.4"/>
<polyline class="m347" points="691.3,283.4 691.2,285.6 691.3,287.8"/>
<polyline class="m349" points="691.2,322.0 691.2,329.0 691.2,336.0 691.2,342.5 691.2,349.0 691.2,358.0 691.2,367.0 691.2,375.0"/>
<polyline class="m349" points="691.5,247.1 691.5,250.5"/>
<polyline class="m350" points="692.4,255.0 692.6,260.0 692.3,264.7 692.6,269.8 692.6,273.9 692.7,278.2 692.4,282.3 692.4,287.6 692.3,292.1"/>
<polyline class="m349" points="692.2,297.0 691.8,301.8 692.1,306.0 692.1,309.8 692.2,314.5 692.0,318.8"/>
<polyline class="m349" points="692.5,276.0 692.5,276.0"/>
</g>
<rect x="100.5" y="60.5" width="620.0" height="480.0" fill="none" stroke="#000" stroke-width="1.35"/>
<path d="M166.50 540.5v-6.2M166.50 60.5v6.2M260.50 540.5v-6.2M260.50 60.5v6.2M354.50 540.5v-6.2M354.50 60.5v6.2M448.50 540.5v-6.2M448.50 60.5v6.2M541.50 540.5v-6.2M541.50 60.5v6.2M635.50 540.5v-6.2M635.50 60.5v6.2M100.5 80.50h6.2M720.5 80.50h-6.2M100.5 135.50h6.2M720.5 135.50h-6.2M100.5 190.50h6.2M720.5 190.50h-6.2M100.5 245.50h6.2M720.5 245.50h-6.2M100.5 300.50h6.2M720.5 300.50h-6.2M100.5 355.50h6.2M720.5 355.50h-6.2M100.5 410.50h6.2M720.5 410.50h-6.2M100.5 465.50h6.2M720.5 465.50h-6.2M100.5 520.50h6.2M720.5 520.50h-6.2" stroke="#000" stroke-width="0.9" fill="none"/>
<g class="tx">
<text x="166.5" y="555.3" text-anchor="middle">20000</text>
<text x="260.5" y="555.3" text-anchor="middle">25000</text>
<text x="354.5" y="555.3" text-anchor="middle">30000</text>
<text x="448.5" y="555.3" text-anchor="middle">35000</text>
<text x="541.5" y="555.3" text-anchor="middle">40000</text>
<text x="635.5" y="555.3" text-anchor="middle">45000</text>
<text x="93.9" y="84.1" text-anchor="end">40</text>
<text x="93.9" y="139.1" text-anchor="end">30</text>
<text x="93.9" y="194.1" text-anchor="end">20</text>
<text x="93.9" y="249.1" text-anchor="end">10</text>
<text x="93.9" y="304.1" text-anchor="end">0</text>
<text x="93.9" y="359.1" text-anchor="end">−10</text>
<text x="93.9" y="414.1" text-anchor="end">−20</text>
<text x="93.9" y="469.1" text-anchor="end">−30</text>
<text x="93.9" y="524.1" text-anchor="end">−40</text>
<text class="ttl" x="410" y="52.9" text-anchor="middle" xml:space="preserve">B table: BPcal.b      Antenna='ea08'</text>
<text class="big" x="410" y="574" text-anchor="middle">Frequency (MHz)</text>
<text class="big" transform="translate(57.8,300) rotate(-90)" text-anchor="middle">Gain Phase (deg)</text>
</g>
</svg>
</body></html>
